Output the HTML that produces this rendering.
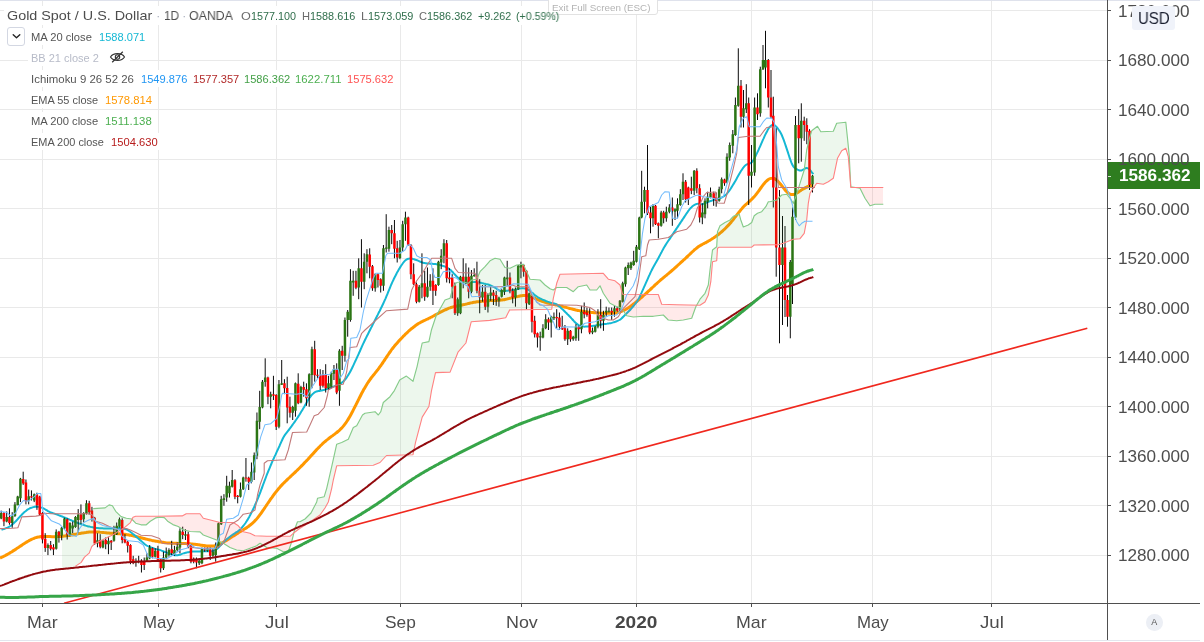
<!DOCTYPE html>
<html><head><meta charset="utf-8"><title>XAUUSD</title>
<style>
*{margin:0;padding:0;box-sizing:border-box}
html,body{width:1204px;height:642px;background:#fff;overflow:hidden}
body{font-family:"Liberation Sans",sans-serif;color:#4d4d4d;position:relative}
#wrap{position:absolute;left:0;top:0;width:1204px;height:642px;overflow:hidden;background:#fff}
.t{position:absolute;white-space:pre;transform-origin:0 50%;will-change:transform}
.wb{position:absolute;background:#fff}
.topline{position:absolute;left:0;top:0;width:1200px;height:1px;background:#dfe2ec}
.botline{position:absolute;left:0;top:640px;width:1200px;height:1px;background:#e3e6ee}
.ax-v{position:absolute;left:1107px;top:0;width:1px;height:640px;background:#4f4f4f}
.ax-h{position:absolute;left:0;top:603px;width:1200px;height:1px;background:#4f4f4f}
.tk{position:absolute;left:1108px;width:3px;height:1px;background:#4f4f4f}
.ttk{position:absolute;top:604px;width:1px;height:3px;background:#4f4f4f}
.plast{position:absolute;left:1108px;top:162px;width:92px;height:27px;background:#2e7d1f}
.usd{position:absolute;left:1132px;top:6px;width:43px;height:23.5px;border-radius:3px;background:#f0f3fa}
.abtn{position:absolute;left:1145.5px;top:614px;width:16.5px;height:16.5px;border-radius:50%;background:#eceff5;color:#555;font-size:9px;line-height:16.5px;text-align:center;will-change:transform}
.cbox{position:absolute;left:7px;top:27px;width:18px;height:18.5px;border:1px solid #d3d7e2;border-radius:3px;background:#fff}
.tip{position:absolute;left:548px;top:-1px;width:110px;height:15.5px;border:1px solid #e2e2e2;border-radius:0 0 3px 3px;background:#fff}
</style></head><body><div id="wrap">
<svg width="1107" height="603" viewBox="0 0 1107 603" style="position:absolute;left:0;top:0;overflow:hidden"><g shape-rendering="crispEdges"><rect x="0" y="10" width="1107" height="1" fill="#e9e9e9"/><rect x="0" y="60" width="1107" height="1" fill="#e9e9e9"/><rect x="0" y="109" width="1107" height="1" fill="#e9e9e9"/><rect x="0" y="159" width="1107" height="1" fill="#e9e9e9"/><rect x="0" y="208" width="1107" height="1" fill="#e9e9e9"/><rect x="0" y="258" width="1107" height="1" fill="#e9e9e9"/><rect x="0" y="307" width="1107" height="1" fill="#e9e9e9"/><rect x="0" y="357" width="1107" height="1" fill="#e9e9e9"/><rect x="0" y="406" width="1107" height="1" fill="#e9e9e9"/><rect x="0" y="456" width="1107" height="1" fill="#e9e9e9"/><rect x="0" y="505" width="1107" height="1" fill="#e9e9e9"/><rect x="0" y="555" width="1107" height="1" fill="#e9e9e9"/><rect x="42" y="0" width="1" height="603" fill="#e9e9e9"/><rect x="158" y="0" width="1" height="603" fill="#e9e9e9"/><rect x="276" y="0" width="1" height="603" fill="#e9e9e9"/><rect x="400" y="0" width="1" height="603" fill="#e9e9e9"/><rect x="521" y="0" width="1" height="603" fill="#e9e9e9"/><rect x="636" y="0" width="1" height="603" fill="#e9e9e9"/><rect x="751" y="0" width="1" height="603" fill="#e9e9e9"/><rect x="872" y="0" width="1" height="603" fill="#e9e9e9"/><rect x="991" y="0" width="1" height="603" fill="#e9e9e9"/></g>
<path d="M0.0,558.2 C0.3,558.0 1.3,557.5 2.0,557.2 C2.7,556.9 3.3,556.5 4.0,556.2 C4.7,555.9 5.3,555.5 6.0,555.2 C6.7,554.8 7.3,554.4 8.0,554.0 C8.7,553.6 9.3,553.3 10.0,552.9 C10.7,552.5 11.3,552.1 12.0,551.7 C12.7,551.2 13.3,550.8 14.0,550.4 C14.7,550.0 15.3,549.5 16.0,549.1 C16.7,548.6 17.3,548.2 18.0,547.8 C18.7,547.3 19.3,546.9 20.0,546.4 C20.7,546.0 21.3,545.5 22.0,545.1 C22.7,544.6 23.3,544.2 24.0,543.8 C24.7,543.3 25.3,542.9 26.0,542.5 C26.7,542.1 27.3,541.7 28.0,541.3 C28.7,540.9 29.3,540.5 30.0,540.2 C30.7,539.8 31.3,539.5 32.0,539.2 C32.7,538.9 33.3,538.6 34.0,538.3 C34.7,538.0 35.3,537.8 36.0,537.6 C36.7,537.4 37.3,537.2 38.0,537.1 C38.7,536.9 39.3,536.8 40.0,536.7 C40.7,536.6 41.3,536.6 42.0,536.5 C42.7,536.5 43.3,536.5 44.0,536.5 C44.7,536.5 45.3,536.5 46.0,536.5 C46.7,536.5 47.3,536.5 48.0,536.6 C48.7,536.6 49.3,536.6 50.0,536.6 C50.7,536.7 51.3,536.7 52.0,536.7 C52.7,536.7 53.3,536.7 54.0,536.7 C54.7,536.7 55.3,536.7 56.0,536.7 C56.7,536.7 57.3,536.7 58.0,536.6 C58.7,536.6 59.3,536.6 60.0,536.5 C60.7,536.4 61.3,536.4 62.0,536.3 C62.7,536.2 63.3,536.2 64.0,536.1 C64.7,536.0 65.3,535.9 66.0,535.8 C66.7,535.7 67.3,535.7 68.0,535.6 C68.7,535.5 69.3,535.4 70.0,535.2 C70.7,535.1 71.3,535.0 72.0,534.9 C72.7,534.8 73.3,534.7 74.0,534.5 C74.7,534.4 75.3,534.3 76.0,534.2 C76.7,534.0 77.3,533.9 78.0,533.8 C78.7,533.7 79.3,533.6 80.0,533.4 C80.7,533.3 81.3,533.2 82.0,533.1 C82.7,533.0 83.3,532.9 84.0,532.8 C84.7,532.6 85.3,532.5 86.0,532.5 C86.7,532.4 87.3,532.3 88.0,532.2 C88.7,532.1 89.3,532.1 90.0,532.0 C90.7,532.0 91.3,532.0 92.0,531.9 C92.7,531.9 93.3,531.9 94.0,531.9 C94.7,531.9 95.3,531.9 96.0,531.9 C96.7,532.0 97.3,532.0 98.0,532.0 C98.7,532.1 99.3,532.1 100.0,532.2 C100.7,532.2 101.3,532.3 102.0,532.4 C102.7,532.4 103.3,532.5 104.0,532.6 C104.7,532.6 105.3,532.7 106.0,532.8 C106.7,532.9 107.3,532.9 108.0,533.0 C108.7,533.1 109.3,533.1 110.0,533.2 C110.7,533.2 111.3,533.3 112.0,533.3 C112.7,533.4 113.3,533.4 114.0,533.4 C114.7,533.5 115.3,533.5 116.0,533.6 C116.7,533.6 117.3,533.6 118.0,533.7 C118.7,533.7 119.3,533.8 120.0,533.8 C120.7,533.9 121.3,533.9 122.0,534.0 C122.7,534.1 123.3,534.2 124.0,534.2 C124.7,534.3 125.3,534.4 126.0,534.5 C126.7,534.6 127.3,534.7 128.0,534.8 C128.7,534.9 129.3,535.1 130.0,535.2 C130.7,535.3 131.3,535.5 132.0,535.6 C132.7,535.7 133.3,535.9 134.0,536.0 C134.7,536.2 135.3,536.3 136.0,536.5 C136.7,536.7 137.3,536.8 138.0,537.0 C138.7,537.2 139.3,537.3 140.0,537.5 C140.7,537.7 141.3,537.8 142.0,538.0 C142.7,538.2 143.3,538.3 144.0,538.5 C144.7,538.7 145.3,538.8 146.0,539.0 C146.7,539.1 147.3,539.3 148.0,539.5 C148.7,539.6 149.3,539.8 150.0,539.9 C150.7,540.1 151.3,540.2 152.0,540.4 C152.7,540.5 153.3,540.6 154.0,540.8 C154.7,540.9 155.3,541.0 156.0,541.2 C156.7,541.3 157.3,541.4 158.0,541.5 C158.7,541.7 159.3,541.8 160.0,541.9 C160.7,542.0 161.3,542.1 162.0,542.2 C162.7,542.3 163.3,542.4 164.0,542.5 C164.7,542.6 165.3,542.7 166.0,542.8 C166.7,542.8 167.3,542.9 168.0,543.0 C168.7,543.0 169.3,543.1 170.0,543.1 C170.7,543.2 171.3,543.2 172.0,543.2 C172.7,543.3 173.3,543.3 174.0,543.3 C174.7,543.3 175.3,543.3 176.0,543.3 C176.7,543.3 177.3,543.4 178.0,543.4 C178.7,543.4 179.3,543.4 180.0,543.4 C180.7,543.4 181.3,543.4 182.0,543.4 C182.7,543.4 183.3,543.5 184.0,543.5 C184.7,543.5 185.3,543.5 186.0,543.6 C186.7,543.6 187.3,543.6 188.0,543.7 C188.7,543.7 189.3,543.8 190.0,543.8 C190.7,543.9 191.3,543.9 192.0,544.0 C192.7,544.1 193.3,544.2 194.0,544.2 C194.7,544.3 195.3,544.4 196.0,544.5 C196.7,544.6 197.3,544.6 198.0,544.7 C198.7,544.8 199.3,544.9 200.0,545.0 C200.7,545.1 201.3,545.2 202.0,545.3 C202.7,545.4 203.3,545.4 204.0,545.5 C204.7,545.6 205.3,545.7 206.0,545.8 C206.7,545.8 207.3,545.9 208.0,546.0 C208.7,546.0 209.3,546.1 210.0,546.1 C210.7,546.1 211.3,546.1 212.0,546.1 C212.7,546.1 213.3,546.0 214.0,545.9 C214.7,545.8 215.3,545.7 216.0,545.5 C216.7,545.4 217.3,545.1 218.0,544.9 C218.7,544.6 219.3,544.4 220.0,544.0 C220.7,543.7 221.3,543.4 222.0,543.0 C222.7,542.7 223.3,542.3 224.0,541.9 C224.7,541.5 225.3,541.1 226.0,540.7 C226.7,540.3 227.3,539.9 228.0,539.5 C228.7,539.1 229.3,538.6 230.0,538.2 C230.7,537.8 231.3,537.4 232.0,536.9 C232.7,536.5 233.3,536.1 234.0,535.7 C234.7,535.2 235.3,534.8 236.0,534.4 C236.7,533.9 237.3,533.5 238.0,533.1 C238.7,532.6 239.3,532.2 240.0,531.8 C240.7,531.4 241.3,531.0 242.0,530.6 C242.7,530.2 243.3,529.8 244.0,529.3 C244.7,528.9 245.3,528.5 246.0,528.1 C246.7,527.7 247.3,527.2 248.0,526.8 C248.7,526.3 249.3,525.8 250.0,525.3 C250.7,524.8 251.3,524.3 252.0,523.7 C252.7,523.1 253.3,522.5 254.0,521.8 C254.7,521.2 255.3,520.5 256.0,519.7 C256.7,519.0 257.3,518.2 258.0,517.3 C258.7,516.5 259.3,515.6 260.0,514.7 C260.7,513.8 261.3,512.9 262.0,511.9 C262.7,510.9 263.3,510.0 264.0,509.0 C264.7,508.0 265.3,507.0 266.0,506.0 C266.7,505.0 267.3,504.0 268.0,503.0 C268.7,502.1 269.3,501.1 270.0,500.1 C270.7,499.2 271.3,498.2 272.0,497.3 C272.7,496.3 273.3,495.4 274.0,494.5 C274.7,493.6 275.3,492.8 276.0,491.9 C276.7,491.1 277.3,490.2 278.0,489.4 C278.7,488.6 279.3,487.8 280.0,487.1 C280.7,486.3 281.3,485.6 282.0,484.9 C282.7,484.2 283.3,483.5 284.0,482.8 C284.7,482.2 285.3,481.5 286.0,480.9 C286.7,480.2 287.3,479.6 288.0,478.9 C288.7,478.3 289.3,477.7 290.0,477.1 C290.7,476.5 291.3,475.8 292.0,475.2 C292.7,474.6 293.3,474.0 294.0,473.3 C294.7,472.7 295.3,472.1 296.0,471.4 C296.7,470.8 297.3,470.1 298.0,469.5 C298.7,468.8 299.3,468.2 300.0,467.5 C300.7,466.8 301.3,466.1 302.0,465.5 C302.7,464.8 303.3,464.1 304.0,463.4 C304.7,462.7 305.3,462.0 306.0,461.3 C306.7,460.6 307.3,459.9 308.0,459.2 C308.7,458.5 309.3,457.8 310.0,457.0 C310.7,456.3 311.3,455.6 312.0,454.8 C312.7,454.1 313.3,453.3 314.0,452.6 C314.7,451.9 315.3,451.1 316.0,450.4 C316.7,449.7 317.3,449.0 318.0,448.3 C318.7,447.6 319.3,446.9 320.0,446.2 C320.7,445.6 321.3,444.9 322.0,444.3 C322.7,443.6 323.3,443.0 324.0,442.4 C324.7,441.8 325.3,441.2 326.0,440.7 C326.7,440.1 327.3,439.6 328.0,439.1 C328.7,438.5 329.3,438.0 330.0,437.5 C330.7,437.0 331.3,436.6 332.0,436.1 C332.7,435.6 333.3,435.1 334.0,434.6 C334.7,434.1 335.3,433.6 336.0,433.1 C336.7,432.6 337.3,432.1 338.0,431.5 C338.7,431.0 339.3,430.4 340.0,429.7 C340.7,429.1 341.3,428.4 342.0,427.7 C342.7,427.0 343.3,426.2 344.0,425.3 C344.7,424.5 345.3,423.6 346.0,422.7 C346.7,421.7 347.3,420.7 348.0,419.6 C348.7,418.5 349.3,417.4 350.0,416.2 C350.7,415.0 351.3,413.8 352.0,412.5 C352.7,411.2 353.3,409.9 354.0,408.6 C354.7,407.3 355.3,406.0 356.0,404.7 C356.7,403.3 357.3,402.0 358.0,400.7 C358.7,399.3 359.3,398.0 360.0,396.7 C360.7,395.4 361.3,394.1 362.0,392.8 C362.7,391.6 363.3,390.3 364.0,389.1 C364.7,388.0 365.3,386.8 366.0,385.7 C366.7,384.6 367.3,383.5 368.0,382.5 C368.7,381.5 369.3,380.5 370.0,379.6 C370.7,378.7 371.3,377.8 372.0,376.9 C372.7,376.1 373.3,375.2 374.0,374.4 C374.7,373.6 375.3,372.8 376.0,371.9 C376.7,371.1 377.3,370.2 378.0,369.4 C378.7,368.5 379.3,367.6 380.0,366.7 C380.7,365.8 381.3,364.8 382.0,363.9 C382.7,362.9 383.3,361.9 384.0,360.9 C384.7,359.9 385.3,358.9 386.0,357.9 C386.7,356.9 387.3,355.9 388.0,354.9 C388.7,353.9 389.3,352.9 390.0,352.0 C390.7,351.0 391.3,350.1 392.0,349.2 C392.7,348.3 393.3,347.5 394.0,346.7 C394.7,345.8 395.3,345.1 396.0,344.3 C396.7,343.5 397.3,342.8 398.0,342.0 C398.7,341.3 399.3,340.6 400.0,339.8 C400.7,339.1 401.3,338.4 402.0,337.7 C402.7,337.0 403.3,336.3 404.0,335.7 C404.7,335.0 405.3,334.3 406.0,333.7 C406.7,333.0 407.3,332.4 408.0,331.8 C408.7,331.1 409.3,330.5 410.0,330.0 C410.7,329.4 411.3,328.8 412.0,328.3 C412.7,327.7 413.3,327.2 414.0,326.7 C414.7,326.2 415.3,325.7 416.0,325.2 C416.7,324.8 417.3,324.3 418.0,323.9 C418.7,323.5 419.3,323.1 420.0,322.7 C420.7,322.3 421.3,322.0 422.0,321.7 C422.7,321.3 423.3,321.0 424.0,320.7 C424.7,320.4 425.3,320.1 426.0,319.7 C426.7,319.4 427.3,319.1 428.0,318.8 C428.7,318.5 429.3,318.1 430.0,317.8 C430.7,317.5 431.3,317.1 432.0,316.8 C432.7,316.4 433.3,316.1 434.0,315.7 C434.7,315.3 435.3,315.0 436.0,314.6 C436.7,314.2 437.3,313.9 438.0,313.5 C438.7,313.1 439.3,312.8 440.0,312.4 C440.7,312.1 441.3,311.7 442.0,311.4 C442.7,311.0 443.3,310.7 444.0,310.4 C444.7,310.1 445.3,309.8 446.0,309.5 C446.7,309.2 447.3,308.9 448.0,308.6 C448.7,308.3 449.3,308.1 450.0,307.9 C450.7,307.6 451.3,307.4 452.0,307.2 C452.7,307.0 453.3,306.8 454.0,306.6 C454.7,306.5 455.3,306.3 456.0,306.2 C456.7,306.0 457.3,305.9 458.0,305.8 C458.7,305.6 459.3,305.5 460.0,305.4 C460.7,305.3 461.3,305.1 462.0,305.0 C462.7,304.9 463.3,304.7 464.0,304.6 C464.7,304.4 465.3,304.3 466.0,304.1 C466.7,303.9 467.3,303.8 468.0,303.6 C468.7,303.5 469.3,303.3 470.0,303.1 C470.7,303.0 471.3,302.8 472.0,302.7 C472.7,302.5 473.3,302.4 474.0,302.3 C474.7,302.2 475.3,302.1 476.0,302.0 C476.7,301.9 477.3,301.8 478.0,301.7 C478.7,301.6 479.3,301.5 480.0,301.5 C480.7,301.4 481.3,301.3 482.0,301.3 C482.7,301.2 483.3,301.2 484.0,301.1 C484.7,301.1 485.3,301.0 486.0,301.0 C486.7,300.9 487.3,300.8 488.0,300.8 C488.7,300.7 489.3,300.7 490.0,300.6 C490.7,300.6 491.3,300.6 492.0,300.5 C492.7,300.5 493.3,300.5 494.0,300.4 C494.7,300.4 495.3,300.4 496.0,300.4 C496.7,300.3 497.3,300.3 498.0,300.3 C498.7,300.3 499.3,300.3 500.0,300.2 C500.7,300.1 501.3,300.1 502.0,300.0 C502.7,299.9 503.3,299.8 504.0,299.7 C504.7,299.6 505.3,299.4 506.0,299.3 C506.7,299.2 507.3,299.0 508.0,298.8 C508.7,298.7 509.3,298.5 510.0,298.3 C510.7,298.2 511.3,298.0 512.0,297.8 C512.7,297.7 513.3,297.5 514.0,297.3 C514.7,297.2 515.3,297.0 516.0,296.9 C516.7,296.7 517.3,296.5 518.0,296.4 C518.7,296.2 519.3,296.1 520.0,296.0 C520.7,295.9 521.3,295.8 522.0,295.7 C522.7,295.6 523.3,295.6 524.0,295.5 C524.7,295.5 525.3,295.5 526.0,295.6 C526.7,295.6 527.3,295.7 528.0,295.9 C528.7,296.0 529.3,296.2 530.0,296.4 C530.7,296.6 531.3,296.9 532.0,297.1 C532.7,297.4 533.3,297.6 534.0,297.9 C534.7,298.2 535.3,298.5 536.0,298.8 C536.7,299.1 537.3,299.4 538.0,299.7 C538.7,300.0 539.3,300.3 540.0,300.5 C540.7,300.8 541.3,301.0 542.0,301.3 C542.7,301.5 543.3,301.7 544.0,301.9 C544.7,302.2 545.3,302.4 546.0,302.5 C546.7,302.7 547.3,302.9 548.0,303.1 C548.7,303.3 549.3,303.4 550.0,303.6 C550.7,303.7 551.3,303.9 552.0,304.0 C552.7,304.2 553.3,304.3 554.0,304.5 C554.7,304.6 555.3,304.8 556.0,304.9 C556.7,305.1 557.3,305.2 558.0,305.4 C558.7,305.5 559.3,305.7 560.0,305.9 C560.7,306.0 561.3,306.2 562.0,306.3 C562.7,306.5 563.3,306.7 564.0,306.9 C564.7,307.0 565.3,307.2 566.0,307.4 C566.7,307.6 567.3,307.7 568.0,307.9 C568.7,308.1 569.3,308.3 570.0,308.5 C570.7,308.6 571.3,308.8 572.0,309.0 C572.7,309.2 573.3,309.3 574.0,309.5 C574.7,309.7 575.3,309.8 576.0,310.0 C576.7,310.1 577.3,310.3 578.0,310.4 C578.7,310.6 579.3,310.7 580.0,310.8 C580.7,311.0 581.3,311.1 582.0,311.2 C582.7,311.3 583.3,311.4 584.0,311.5 C584.7,311.6 585.3,311.7 586.0,311.8 C586.7,311.9 587.3,312.0 588.0,312.1 C588.7,312.1 589.3,312.2 590.0,312.3 C590.7,312.4 591.3,312.4 592.0,312.5 C592.7,312.6 593.3,312.6 594.0,312.7 C594.7,312.7 595.3,312.8 596.0,312.8 C596.7,312.9 597.3,312.9 598.0,313.0 C598.7,313.0 599.3,313.0 600.0,313.1 C600.7,313.1 601.3,313.1 602.0,313.2 C602.7,313.2 603.3,313.2 604.0,313.2 C604.7,313.2 605.3,313.3 606.0,313.3 C606.7,313.3 607.3,313.3 608.0,313.3 C608.7,313.3 609.3,313.3 610.0,313.3 C610.7,313.3 611.3,313.3 612.0,313.2 C612.7,313.2 613.3,313.2 614.0,313.1 C614.7,313.1 615.3,313.0 616.0,312.9 C616.7,312.8 617.3,312.6 618.0,312.5 C618.7,312.3 619.3,312.1 620.0,311.9 C620.7,311.7 621.3,311.5 622.0,311.2 C622.7,310.9 623.3,310.6 624.0,310.3 C624.7,310.0 625.3,309.6 626.0,309.2 C626.7,308.9 627.3,308.5 628.0,308.0 C628.7,307.6 629.3,307.2 630.0,306.7 C630.7,306.3 631.3,305.8 632.0,305.3 C632.7,304.8 633.3,304.2 634.0,303.7 C634.7,303.2 635.3,302.6 636.0,302.1 C636.7,301.5 637.3,301.0 638.0,300.4 C638.7,299.9 639.3,299.3 640.0,298.7 C640.7,298.1 641.3,297.6 642.0,297.0 C642.7,296.4 643.3,295.8 644.0,295.2 C644.7,294.6 645.3,294.1 646.0,293.5 C646.7,292.9 647.3,292.3 648.0,291.6 C648.7,291.0 649.3,290.4 650.0,289.8 C650.7,289.2 651.3,288.6 652.0,287.9 C652.7,287.3 653.3,286.7 654.0,286.1 C654.7,285.4 655.3,284.8 656.0,284.2 C656.7,283.6 657.3,283.0 658.0,282.4 C658.7,281.8 659.3,281.2 660.0,280.6 C660.7,280.1 661.3,279.5 662.0,278.9 C662.7,278.3 663.3,277.8 664.0,277.2 C664.7,276.7 665.3,276.1 666.0,275.6 C666.7,275.0 667.3,274.4 668.0,273.9 C668.7,273.3 669.3,272.8 670.0,272.2 C670.7,271.7 671.3,271.1 672.0,270.5 C672.7,269.9 673.3,269.4 674.0,268.8 C674.7,268.2 675.3,267.6 676.0,267.0 C676.7,266.4 677.3,265.8 678.0,265.2 C678.7,264.6 679.3,263.9 680.0,263.3 C680.7,262.7 681.3,262.1 682.0,261.5 C682.7,260.9 683.3,260.3 684.0,259.7 C684.7,259.1 685.3,258.5 686.0,257.9 C686.7,257.2 687.3,256.6 688.0,256.0 C688.7,255.4 689.3,254.7 690.0,254.1 C690.7,253.5 691.3,252.8 692.0,252.2 C692.7,251.6 693.3,250.9 694.0,250.3 C694.7,249.7 695.3,249.1 696.0,248.6 C696.7,248.0 697.3,247.5 698.0,247.0 C698.7,246.6 699.3,246.1 700.0,245.7 C700.7,245.3 701.3,244.9 702.0,244.6 C702.7,244.2 703.3,243.9 704.0,243.5 C704.7,243.2 705.3,242.8 706.0,242.5 C706.7,242.1 707.3,241.7 708.0,241.4 C708.7,241.0 709.3,240.6 710.0,240.2 C710.7,239.8 711.3,239.4 712.0,238.9 C712.7,238.5 713.3,238.1 714.0,237.6 C714.7,237.2 715.3,236.7 716.0,236.2 C716.7,235.7 717.3,235.2 718.0,234.7 C718.7,234.2 719.3,233.7 720.0,233.2 C720.7,232.6 721.3,232.1 722.0,231.5 C722.7,230.9 723.3,230.3 724.0,229.7 C724.7,229.0 725.3,228.4 726.0,227.7 C726.7,227.1 727.3,226.4 728.0,225.6 C728.7,224.9 729.3,224.2 730.0,223.4 C730.7,222.7 731.3,221.9 732.0,221.1 C732.7,220.3 733.3,219.5 734.0,218.6 C734.7,217.8 735.3,216.9 736.0,216.0 C736.7,215.2 737.3,214.3 738.0,213.4 C738.7,212.6 739.3,211.7 740.0,210.9 C740.7,210.0 741.3,209.2 742.0,208.5 C742.7,207.7 743.3,207.0 744.0,206.3 C744.7,205.6 745.3,205.0 746.0,204.4 C746.7,203.7 747.3,203.2 748.0,202.6 C748.7,202.0 749.3,201.5 750.0,200.9 C750.7,200.3 751.3,199.7 752.0,199.0 C752.7,198.4 753.3,197.7 754.0,196.9 C754.7,196.2 755.3,195.4 756.0,194.5 C756.7,193.7 757.3,192.8 758.0,191.9 C758.7,191.0 759.3,190.1 760.0,189.1 C760.7,188.2 761.3,187.3 762.0,186.4 C762.7,185.5 763.3,184.6 764.0,183.8 C764.7,182.9 765.3,182.2 766.0,181.5 C766.7,180.8 767.3,180.2 768.0,179.7 C768.7,179.2 769.3,178.8 770.0,178.6 C770.7,178.3 771.3,178.2 772.0,178.2 C772.7,178.1 773.3,178.3 774.0,178.5 C774.7,178.8 775.3,179.2 776.0,179.6 C776.7,180.1 777.3,180.7 778.0,181.4 C778.7,182.0 779.3,182.8 780.0,183.6 C780.7,184.3 781.3,185.2 782.0,186.0 C782.7,186.9 783.3,187.8 784.0,188.6 C784.7,189.4 785.3,190.2 786.0,190.9 C786.7,191.6 787.3,192.3 788.0,192.8 C788.7,193.3 789.3,193.8 790.0,194.1 C790.7,194.4 791.3,194.6 792.0,194.6 C792.7,194.7 793.3,194.5 794.0,194.4 C794.7,194.2 795.3,193.9 796.0,193.6 C796.7,193.2 797.3,192.8 798.0,192.4 C798.7,191.9 799.3,191.4 800.0,191.0 C800.7,190.5 801.3,190.1 802.0,189.6 C802.7,189.2 803.3,188.8 804.0,188.5 C804.7,188.1 805.3,187.8 806.0,187.5 C806.7,187.1 807.3,186.8 808.0,186.5 C808.7,186.2 809.3,186.0 810.0,185.9 C810.7,185.7 811.4,185.7 812.0,185.6 C812.6,185.5 813.1,185.5 813.3,185.5" fill="none" stroke="#ff9800" stroke-width="3.0" stroke-linejoin="round" stroke-linecap="butt"/>
<path d="M1.5,529.8 C1.8,529.7 2.8,529.3 3.5,529.1 C4.2,528.9 4.8,528.6 5.5,528.4 C6.2,528.1 6.8,527.9 7.5,527.7 C8.2,527.4 8.8,527.1 9.5,526.7 C10.2,526.3 10.8,525.7 11.5,525.2 C12.2,524.6 12.8,524.0 13.5,523.4 C14.2,522.8 14.8,522.2 15.5,521.6 C16.2,520.9 16.8,520.2 17.5,519.4 C18.2,518.7 18.8,517.9 19.5,517.1 C20.2,516.4 20.8,515.6 21.5,515.0 C22.2,514.3 22.8,513.6 23.5,513.0 C24.2,512.4 24.8,511.8 25.5,511.2 C26.2,510.7 26.8,510.1 27.5,509.6 C28.2,509.2 28.8,508.9 29.5,508.5 C30.2,508.2 30.8,508.0 31.5,507.8 C32.2,507.5 32.8,507.3 33.5,507.1 C34.2,506.9 34.8,506.7 35.5,506.6 C36.2,506.6 36.8,506.6 37.5,506.7 C38.2,506.7 38.8,506.9 39.5,507.0 C40.2,507.2 40.8,507.3 41.5,507.6 C42.2,507.8 42.8,508.1 43.5,508.4 C44.2,508.8 44.8,509.2 45.5,509.6 C46.2,510.0 46.8,510.4 47.5,510.8 C48.2,511.2 48.8,511.5 49.5,511.9 C50.2,512.2 50.8,512.5 51.5,512.7 C52.2,513.0 52.8,513.2 53.5,513.4 C54.2,513.6 54.8,513.8 55.5,514.1 C56.2,514.3 56.8,514.5 57.5,514.7 C58.2,515.0 58.8,515.2 59.5,515.5 C60.2,515.7 60.8,516.0 61.5,516.3 C62.2,516.5 62.8,516.8 63.5,517.1 C64.2,517.4 64.8,517.6 65.5,517.9 C66.2,518.2 66.8,518.5 67.5,518.7 C68.2,519.0 68.8,519.3 69.5,519.6 C70.2,519.9 70.8,520.1 71.5,520.4 C72.2,520.7 72.8,521.0 73.5,521.3 C74.2,521.5 74.8,521.8 75.5,522.1 C76.2,522.4 76.8,522.6 77.5,522.9 C78.2,523.2 78.8,523.4 79.5,523.6 C80.2,523.9 80.8,524.1 81.5,524.3 C82.2,524.5 82.8,524.7 83.5,524.9 C84.2,525.2 84.8,525.4 85.5,525.6 C86.2,525.8 86.8,526.0 87.5,526.2 C88.2,526.4 88.8,526.5 89.5,526.6 C90.2,526.8 90.8,526.9 91.5,527.1 C92.2,527.2 92.8,527.3 93.5,527.5 C94.2,527.6 94.8,527.7 95.5,527.8 C96.2,527.9 96.8,528.0 97.5,528.1 C98.2,528.2 98.8,528.2 99.5,528.2 C100.2,528.3 100.8,528.3 101.5,528.3 C102.2,528.3 102.8,528.4 103.5,528.4 C104.2,528.4 104.8,528.4 105.5,528.5 C106.2,528.5 106.8,528.5 107.5,528.6 C108.2,528.6 108.8,528.6 109.5,528.6 C110.2,528.6 110.8,528.6 111.5,528.5 C112.2,528.5 112.8,528.4 113.5,528.4 C114.2,528.3 114.8,528.3 115.5,528.2 C116.2,528.2 116.8,528.1 117.5,528.0 C118.2,528.0 118.8,528.0 119.5,528.0 C120.2,528.0 120.8,528.1 121.5,528.2 C122.2,528.3 122.8,528.4 123.5,528.5 C124.2,528.7 124.8,528.8 125.5,529.0 C126.2,529.3 126.8,529.6 127.5,530.0 C128.2,530.3 128.8,530.8 129.5,531.3 C130.2,531.8 130.8,532.3 131.5,532.8 C132.2,533.3 132.8,533.8 133.5,534.4 C134.2,534.9 134.8,535.5 135.5,536.1 C136.2,536.6 136.8,537.2 137.5,537.8 C138.2,538.4 138.8,539.0 139.5,539.6 C140.2,540.1 140.8,540.7 141.5,541.3 C142.2,541.9 142.8,542.5 143.5,543.1 C144.2,543.6 144.8,544.2 145.5,544.7 C146.2,545.2 146.8,545.6 147.5,546.0 C148.2,546.4 148.8,546.6 149.5,546.9 C150.2,547.2 150.8,547.4 151.5,547.6 C152.2,547.9 152.8,548.1 153.5,548.3 C154.2,548.5 154.8,548.7 155.5,548.9 C156.2,549.1 156.8,549.2 157.5,549.4 C158.2,549.5 158.8,549.7 159.5,549.9 C160.2,550.1 160.8,550.3 161.5,550.6 C162.2,550.8 162.8,551.1 163.5,551.3 C164.2,551.6 164.8,551.8 165.5,552.1 C166.2,552.3 166.8,552.6 167.5,552.9 C168.2,553.1 168.8,553.4 169.5,553.7 C170.2,554.0 170.8,554.3 171.5,554.5 C172.2,554.8 172.8,555.0 173.5,555.1 C174.2,555.3 174.8,555.3 175.5,555.3 C176.2,555.3 176.8,555.3 177.5,555.2 C178.2,555.1 178.8,555.0 179.5,554.8 C180.2,554.6 180.8,554.3 181.5,554.1 C182.2,553.8 182.8,553.6 183.5,553.4 C184.2,553.1 184.8,553.0 185.5,552.8 C186.2,552.6 186.8,552.4 187.5,552.3 C188.2,552.1 188.8,552.0 189.5,551.9 C190.2,551.8 190.8,551.7 191.5,551.6 C192.2,551.6 192.8,551.6 193.5,551.5 C194.2,551.5 194.8,551.5 195.5,551.5 C196.2,551.5 196.8,551.4 197.5,551.4 C198.2,551.4 198.8,551.4 199.5,551.4 C200.2,551.3 200.8,551.3 201.5,551.3 C202.2,551.3 202.8,551.3 203.5,551.3 C204.2,551.3 204.8,551.3 205.5,551.3 C206.2,551.3 206.8,551.2 207.5,551.2 C208.2,551.2 208.8,551.2 209.5,551.2 C210.2,551.2 210.8,551.2 211.5,551.2 C212.2,551.1 212.8,551.1 213.5,550.9 C214.2,550.7 214.8,550.4 215.5,550.0 C216.2,549.6 216.8,549.1 217.5,548.5 C218.2,547.9 218.8,547.2 219.5,546.5 C220.2,545.8 220.8,545.0 221.5,544.4 C222.2,543.7 222.8,543.0 223.5,542.3 C224.2,541.7 224.8,541.0 225.5,540.4 C226.2,539.8 226.8,539.2 227.5,538.6 C228.2,538.1 228.8,537.6 229.5,537.0 C230.2,536.5 230.8,536.0 231.5,535.5 C232.2,535.1 232.8,534.6 233.5,534.1 C234.2,533.7 234.8,533.2 235.5,532.8 C236.2,532.4 236.8,532.0 237.5,531.6 C238.2,531.1 238.8,530.7 239.5,530.1 C240.2,529.5 240.8,528.8 241.5,528.0 C242.2,527.3 242.8,526.5 243.5,525.6 C244.2,524.8 244.8,523.9 245.5,523.0 C246.2,522.0 246.8,521.0 247.5,519.9 C248.2,518.8 248.8,517.6 249.5,516.4 C250.2,515.1 250.8,513.9 251.5,512.6 C252.2,511.3 252.8,510.0 253.5,508.5 C254.2,507.1 254.8,505.6 255.5,504.0 C256.2,502.5 256.8,500.9 257.5,499.3 C258.2,497.7 258.8,496.1 259.5,494.4 C260.2,492.7 260.8,490.9 261.5,489.2 C262.2,487.4 262.8,485.5 263.5,483.7 C264.2,481.9 264.8,480.0 265.5,478.3 C266.2,476.5 266.8,474.8 267.5,473.1 C268.2,471.5 268.8,469.9 269.5,468.3 C270.2,466.7 270.8,465.1 271.5,463.5 C272.2,462.0 272.8,460.4 273.5,458.9 C274.2,457.4 274.8,456.0 275.5,454.6 C276.2,453.1 276.8,451.7 277.5,450.3 C278.2,448.9 278.8,447.4 279.5,446.0 C280.2,444.5 280.8,442.9 281.5,441.4 C282.2,440.0 282.8,438.5 283.5,437.3 C284.2,436.1 284.8,435.1 285.5,434.2 C286.2,433.2 286.8,432.5 287.5,431.6 C288.2,430.7 288.8,429.8 289.5,429.0 C290.2,428.1 290.8,427.2 291.5,426.3 C292.2,425.4 292.8,424.4 293.5,423.5 C294.2,422.6 294.8,421.7 295.5,420.7 C296.2,419.8 296.8,418.8 297.5,417.7 C298.2,416.7 298.8,415.6 299.5,414.6 C300.2,413.5 300.8,412.4 301.5,411.3 C302.2,410.2 302.8,409.1 303.5,408.0 C304.2,406.9 304.8,405.7 305.5,404.5 C306.2,403.4 306.8,402.2 307.5,401.0 C308.2,399.9 308.8,398.8 309.5,397.8 C310.2,396.9 310.8,396.0 311.5,395.3 C312.2,394.5 312.8,393.8 313.5,393.3 C314.2,392.7 314.8,392.2 315.5,391.9 C316.2,391.6 316.8,391.4 317.5,391.2 C318.2,391.1 318.8,391.0 319.5,390.9 C320.2,390.8 320.8,390.6 321.5,390.4 C322.2,390.3 322.8,390.1 323.5,390.0 C324.2,389.8 324.8,389.6 325.5,389.4 C326.2,389.2 326.8,389.0 327.5,388.8 C328.2,388.6 328.8,388.3 329.5,388.1 C330.2,387.9 330.8,387.6 331.5,387.4 C332.2,387.1 332.8,386.9 333.5,386.6 C334.2,386.4 334.8,386.1 335.5,385.9 C336.2,385.6 336.8,385.4 337.5,385.1 C338.2,384.8 338.8,384.6 339.5,384.2 C340.2,383.8 340.8,383.4 341.5,382.9 C342.2,382.4 342.8,381.8 343.5,381.2 C344.2,380.5 344.8,379.8 345.5,379.0 C346.2,378.2 346.8,377.2 347.5,376.2 C348.2,375.3 348.8,374.2 349.5,373.0 C350.2,371.8 350.8,370.6 351.5,369.2 C352.2,367.9 352.8,366.5 353.5,365.1 C354.2,363.7 354.8,362.2 355.5,360.8 C356.2,359.3 356.8,357.9 357.5,356.4 C358.2,355.0 358.8,353.5 359.5,352.0 C360.2,350.5 360.8,348.9 361.5,347.5 C362.2,346.0 362.8,344.5 363.5,343.1 C364.2,341.7 364.8,340.4 365.5,339.0 C366.2,337.6 366.8,336.3 367.5,335.0 C368.2,333.7 368.8,332.3 369.5,331.0 C370.2,329.7 370.8,328.4 371.5,327.1 C372.2,325.7 372.8,324.4 373.5,323.1 C374.2,321.8 374.8,320.5 375.5,319.2 C376.2,317.9 376.8,316.6 377.5,315.3 C378.2,313.9 378.8,312.6 379.5,311.3 C380.2,309.9 380.8,308.6 381.5,307.2 C382.2,305.8 382.8,304.5 383.5,303.0 C384.2,301.6 384.8,300.1 385.5,298.6 C386.2,297.0 386.8,295.4 387.5,293.8 C388.2,292.1 388.8,290.4 389.5,288.8 C390.2,287.1 390.8,285.5 391.5,284.0 C392.2,282.5 392.8,281.1 393.5,279.7 C394.2,278.3 394.8,277.0 395.5,275.7 C396.2,274.4 396.8,273.0 397.5,271.8 C398.2,270.6 398.8,269.4 399.5,268.4 C400.2,267.3 400.8,266.2 401.5,265.2 C402.2,264.3 402.8,263.2 403.5,262.4 C404.2,261.5 404.8,260.8 405.5,260.2 C406.2,259.6 406.8,259.3 407.5,259.0 C408.2,258.7 408.8,258.5 409.5,258.5 C410.2,258.4 410.8,258.4 411.5,258.5 C412.2,258.6 412.8,258.9 413.5,259.1 C414.2,259.2 414.8,259.5 415.5,259.7 C416.2,259.9 416.8,260.2 417.5,260.4 C418.2,260.7 418.8,261.0 419.5,261.3 C420.2,261.6 420.8,261.9 421.5,262.2 C422.2,262.4 422.8,262.7 423.5,262.9 C424.2,263.0 424.8,263.1 425.5,263.2 C426.2,263.3 426.8,263.4 427.5,263.4 C428.2,263.5 428.8,263.5 429.5,263.6 C430.2,263.7 430.8,263.7 431.5,263.8 C432.2,263.8 432.8,263.9 433.5,263.9 C434.2,264.0 434.8,264.0 435.5,264.1 C436.2,264.2 436.8,264.3 437.5,264.4 C438.2,264.6 438.8,264.7 439.5,264.9 C440.2,265.0 440.8,265.2 441.5,265.4 C442.2,265.6 442.8,265.8 443.5,266.0 C444.2,266.3 444.8,266.6 445.5,266.9 C446.2,267.2 446.8,267.5 447.5,267.9 C448.2,268.3 448.8,268.6 449.5,269.2 C450.2,269.7 450.8,270.3 451.5,270.9 C452.2,271.6 452.8,272.4 453.5,273.1 C454.2,273.8 454.8,274.6 455.5,275.3 C456.2,276.0 456.8,276.7 457.5,277.3 C458.2,278.0 458.8,278.6 459.5,279.1 C460.2,279.7 460.8,280.4 461.5,280.9 C462.2,281.4 462.8,281.8 463.5,282.1 C464.2,282.4 464.8,282.4 465.5,282.5 C466.2,282.6 466.8,282.5 467.5,282.5 C468.2,282.5 468.8,282.5 469.5,282.5 C470.2,282.4 470.8,282.4 471.5,282.3 C472.2,282.2 472.8,282.1 473.5,282.1 C474.2,282.0 474.8,281.9 475.5,281.9 C476.2,281.9 476.8,281.9 477.5,282.0 C478.2,282.1 478.8,282.2 479.5,282.4 C480.2,282.5 480.8,282.7 481.5,282.9 C482.2,283.0 482.8,283.2 483.5,283.4 C484.2,283.5 484.8,283.7 485.5,283.9 C486.2,284.0 486.8,284.2 487.5,284.4 C488.2,284.6 488.8,284.7 489.5,285.0 C490.2,285.2 490.8,285.5 491.5,285.8 C492.2,286.1 492.8,286.4 493.5,286.8 C494.2,287.1 494.8,287.4 495.5,287.9 C496.2,288.3 496.8,288.8 497.5,289.3 C498.2,289.8 498.8,290.4 499.5,290.7 C500.2,291.1 500.8,291.3 501.5,291.3 C502.2,291.4 502.8,291.3 503.5,291.2 C504.2,291.2 504.8,291.1 505.5,291.0 C506.2,290.9 506.8,290.8 507.5,290.7 C508.2,290.6 508.8,290.6 509.5,290.5 C510.2,290.4 510.8,290.3 511.5,290.2 C512.2,290.1 512.8,290.0 513.5,289.9 C514.2,289.8 514.8,289.6 515.5,289.5 C516.2,289.3 516.8,289.1 517.5,289.0 C518.2,288.8 518.8,288.6 519.5,288.5 C520.2,288.4 520.8,288.3 521.5,288.3 C522.2,288.2 522.8,288.1 523.5,288.2 C524.2,288.2 524.8,288.3 525.5,288.5 C526.2,288.7 526.8,289.1 527.5,289.4 C528.2,289.8 528.8,290.2 529.5,290.7 C530.2,291.1 530.8,291.6 531.5,292.2 C532.2,292.7 532.8,293.3 533.5,293.9 C534.2,294.5 534.8,295.1 535.5,295.6 C536.2,296.1 536.8,296.6 537.5,297.0 C538.2,297.4 538.8,297.7 539.5,298.1 C540.2,298.4 540.8,298.8 541.5,299.1 C542.2,299.4 542.8,299.7 543.5,300.0 C544.2,300.3 544.8,300.6 545.5,300.8 C546.2,301.1 546.8,301.3 547.5,301.6 C548.2,301.8 548.8,302.0 549.5,302.3 C550.2,302.5 550.8,302.7 551.5,302.9 C552.2,303.0 552.8,303.2 553.5,303.4 C554.2,303.6 554.8,303.7 555.5,304.0 C556.2,304.3 556.8,304.6 557.5,305.1 C558.2,305.5 558.8,306.1 559.5,306.6 C560.2,307.2 560.8,307.8 561.5,308.4 C562.2,309.0 562.8,309.6 563.5,310.2 C564.2,310.9 564.8,311.5 565.5,312.2 C566.2,312.8 566.8,313.5 567.5,314.2 C568.2,314.8 568.8,315.5 569.5,316.2 C570.2,316.9 570.8,317.6 571.5,318.4 C572.2,319.1 572.8,319.9 573.5,320.6 C574.2,321.3 574.8,322.1 575.5,322.7 C576.2,323.4 576.8,323.9 577.5,324.4 C578.2,324.9 578.8,325.3 579.5,325.6 C580.2,325.9 580.8,326.2 581.5,326.4 C582.2,326.5 582.8,326.6 583.5,326.6 C584.2,326.7 584.8,326.7 585.5,326.6 C586.2,326.6 586.8,326.6 587.5,326.5 C588.2,326.5 588.8,326.4 589.5,326.3 C590.2,326.2 590.8,326.1 591.5,326.1 C592.2,326.0 592.8,325.9 593.5,325.8 C594.2,325.7 594.8,325.6 595.5,325.5 C596.2,325.3 596.8,325.2 597.5,325.1 C598.2,325.0 598.8,324.9 599.5,324.8 C600.2,324.7 600.8,324.6 601.5,324.5 C602.2,324.4 602.8,324.3 603.5,324.2 C604.2,324.1 604.8,324.1 605.5,324.0 C606.2,323.9 606.8,323.8 607.5,323.6 C608.2,323.5 608.8,323.4 609.5,323.3 C610.2,323.1 610.8,323.0 611.5,322.9 C612.2,322.7 612.8,322.6 613.5,322.4 C614.2,322.2 614.8,321.9 615.5,321.7 C616.2,321.5 616.8,321.2 617.5,320.9 C618.2,320.6 618.8,320.4 619.5,320.0 C620.2,319.5 620.8,319.0 621.5,318.4 C622.2,317.8 622.8,317.2 623.5,316.5 C624.2,315.8 624.8,315.2 625.5,314.5 C626.2,313.8 626.8,313.2 627.5,312.5 C628.2,311.8 628.8,311.2 629.5,310.5 C630.2,309.8 630.8,309.1 631.5,308.4 C632.2,307.6 632.8,306.8 633.5,306.0 C634.2,305.2 634.8,304.4 635.5,303.5 C636.2,302.7 636.8,301.8 637.5,300.8 C638.2,299.7 638.8,298.5 639.5,297.2 C640.2,295.9 640.8,294.3 641.5,292.9 C642.2,291.4 642.8,289.9 643.5,288.4 C644.2,286.9 644.8,285.4 645.5,283.9 C646.2,282.4 646.8,280.9 647.5,279.4 C648.2,277.9 648.8,276.3 649.5,274.9 C650.2,273.4 650.8,271.9 651.5,270.6 C652.2,269.3 652.8,268.0 653.5,266.8 C654.2,265.6 654.8,264.5 655.5,263.3 C656.2,262.1 656.8,260.9 657.5,259.7 C658.2,258.5 658.8,257.3 659.5,256.0 C660.2,254.8 660.8,253.4 661.5,252.2 C662.2,250.9 662.8,249.6 663.5,248.4 C664.2,247.3 664.8,246.2 665.5,245.1 C666.2,244.0 666.8,243.1 667.5,242.0 C668.2,241.0 668.8,240.1 669.5,239.1 C670.2,238.1 670.8,237.1 671.5,236.1 C672.2,235.1 672.8,234.1 673.5,233.1 C674.2,232.1 674.8,231.1 675.5,230.1 C676.2,229.1 676.8,228.1 677.5,227.1 C678.2,226.1 678.8,225.1 679.5,224.1 C680.2,223.1 680.8,222.1 681.5,221.1 C682.2,220.1 682.8,219.1 683.5,218.1 C684.2,217.1 684.8,216.1 685.5,215.1 C686.2,214.1 686.8,213.0 687.5,212.1 C688.2,211.1 688.8,210.2 689.5,209.3 C690.2,208.5 690.8,207.8 691.5,207.2 C692.2,206.5 692.8,206.0 693.5,205.5 C694.2,205.0 694.8,204.6 695.5,204.3 C696.2,204.0 696.8,203.8 697.5,203.8 C698.2,203.7 698.8,203.8 699.5,203.8 C700.2,203.9 700.8,204.2 701.5,204.2 C702.2,204.2 702.8,204.0 703.5,203.8 C704.2,203.7 704.8,203.3 705.5,203.0 C706.2,202.7 706.8,202.5 707.5,202.2 C708.2,201.9 708.8,201.7 709.5,201.4 C710.2,201.2 710.8,200.9 711.5,200.7 C712.2,200.5 712.8,200.2 713.5,200.0 C714.2,199.8 714.8,199.6 715.5,199.5 C716.2,199.3 716.8,199.1 717.5,199.0 C718.2,198.8 718.8,198.6 719.5,198.4 C720.2,198.1 720.8,197.9 721.5,197.6 C722.2,197.2 722.8,196.9 723.5,196.5 C724.2,196.1 724.8,195.6 725.5,195.0 C726.2,194.4 726.8,193.7 727.5,192.9 C728.2,192.1 728.8,191.3 729.5,190.4 C730.2,189.5 730.8,188.5 731.5,187.4 C732.2,186.4 732.8,185.3 733.5,184.1 C734.2,183.0 734.8,181.9 735.5,180.7 C736.2,179.5 736.8,178.3 737.5,177.1 C738.2,175.9 738.8,174.7 739.5,173.5 C740.2,172.4 740.8,171.3 741.5,170.3 C742.2,169.3 742.8,168.2 743.5,167.4 C744.2,166.5 744.8,165.8 745.5,165.2 C746.2,164.7 746.8,164.4 747.5,164.1 C748.2,163.8 748.8,163.9 749.5,163.6 C750.2,163.4 750.8,163.2 751.5,162.6 C752.2,162.0 752.8,161.1 753.5,160.0 C754.2,158.9 754.8,157.6 755.5,156.3 C756.2,154.9 756.8,153.5 757.5,152.1 C758.2,150.7 758.8,149.2 759.5,147.7 C760.2,146.2 760.8,144.7 761.5,143.1 C762.2,141.6 762.8,140.0 763.5,138.6 C764.2,137.1 764.8,135.6 765.5,134.3 C766.2,132.9 766.8,131.6 767.5,130.4 C768.2,129.2 768.8,128.1 769.5,127.2 C770.2,126.4 770.8,125.7 771.5,125.3 C772.2,124.9 772.8,124.8 773.5,124.9 C774.2,125.0 774.8,125.4 775.5,125.9 C776.2,126.5 776.8,127.3 777.5,128.1 C778.2,129.0 778.8,129.9 779.5,130.9 C780.2,132.0 780.8,133.1 781.5,134.5 C782.2,135.9 782.8,137.7 783.5,139.4 C784.2,141.2 784.8,143.2 785.5,145.1 C786.2,147.1 786.8,149.1 787.5,151.1 C788.2,153.1 788.8,155.3 789.5,157.3 C790.2,159.2 790.8,161.3 791.5,162.9 C792.2,164.4 792.8,165.8 793.5,166.7 C794.2,167.7 794.8,168.1 795.5,168.6 C796.2,169.1 796.8,169.3 797.5,169.6 C798.2,169.9 798.8,170.3 799.5,170.4 C800.2,170.6 800.8,170.7 801.5,170.5 C802.2,170.3 802.8,169.9 803.5,169.5 C804.2,169.1 804.8,168.4 805.5,168.2 C806.2,168.0 806.8,167.8 807.5,168.1 C808.2,168.3 808.8,169.0 809.5,169.6 C810.2,170.2 810.9,171.1 811.5,171.9 C812.1,172.6 813.0,173.8 813.3,174.2" fill="none" stroke="#14b8d4" stroke-width="2.0" stroke-linejoin="round" stroke-linecap="butt"/>
<path d="M1.20,510.6V519.2M3.95,512.2V526.2M6.70,511.4V522.3M9.45,508.3V524.7M12.20,512.2V527.8M14.95,502.1V516.9M17.70,495.8V505.2M20.45,477.9V502.1M23.20,471.7V484.9M25.95,479.5V504.4M28.70,489.6V504.4M31.45,490.4V500.5M34.20,493.5V502.1M36.95,492.7V509.9M39.70,495.8V515.3M42.45,512.2V543.4M45.20,533.2V551.9M47.95,543.4V555.1M50.70,541.0V550.4M53.45,544.2V555.1M56.20,529.4V549.6M58.95,530.9V542.6M61.70,527.0V540.3M64.45,517.7V529.4M67.20,518.4V539.5M69.95,522.3V536.4M72.70,521.6V533.2M75.45,516.1V527.8M78.20,509.1V532.5M80.95,504.4V523.9M83.70,512.2V522.3M86.45,500.2V514.5M89.20,500.8V514.5M91.95,506.8V521.6M94.70,516.9V544.9M97.45,533.2V547.3M100.20,534.2V548.3M102.95,540.0V548.3M105.70,537.5V549.2M108.45,536.7V554.2M111.20,540.0V550.0M113.95,525.8V541.7M116.70,522.5V535.0M119.45,517.5V527.5M122.20,518.3V543.3M124.95,534.2V543.3M127.70,540.8V552.5M130.45,544.2V564.2M133.20,555.8V564.2M135.95,558.3V566.7M138.70,555.8V563.3M141.45,559.2V572.5M144.20,557.5V570.0M146.95,553.3V561.7M149.70,545.0V559.2M152.45,547.5V558.3M155.20,548.3V557.5M157.95,545.8V561.7M160.70,558.3V572.5M163.45,551.7V570.0M166.20,547.5V559.2M168.95,548.3V556.7M171.70,540.8V555.0M174.45,545.8V555.8M177.20,542.5V551.7M179.95,528.3V553.3M182.70,526.7V539.2M185.45,529.2V540.0M188.20,531.7V548.3M190.95,544.2V563.3M193.70,557.5V563.3M196.45,557.5V568.3M199.20,558.3V565.0M201.95,547.5V564.2M204.70,547.5V551.7M207.45,547.5V551.7M210.20,547.5V560.0M212.95,548.3V556.7M215.70,542.5V561.7M218.45,522.5V547.5M221.20,495.8V525.0M223.95,494.2V505.8M226.70,475.8V501.7M229.45,481.7V497.5M232.20,470.0V487.5M234.95,479.2V499.2M237.70,495.0V503.3M240.45,482.5V497.5M243.20,476.7V490.0M245.95,458.0V481.7M248.70,476.7V490.0M251.45,462.5V483.3M254.20,452.5V480.0M256.95,412.5V459.2M259.70,390.8V429.2M262.45,380.0V408.3M265.20,358.3V386.7M267.95,376.7V404.2M270.70,391.7V408.3M273.45,375.8V400.0M276.20,394.2V430.0M278.95,380.0V428.3M281.70,360.0V385.0M284.45,379.2V394.2M287.20,376.7V423.3M289.95,396.7V417.5M292.70,405.8V420.0M295.45,382.5V416.7M298.20,373.3V404.2M300.95,385.8V403.3M303.70,381.7V396.7M306.45,383.3V405.8M309.20,373.3V406.7M311.95,346.7V388.3M314.70,340.8V381.7M317.45,369.2V378.3M320.20,369.2V390.0M322.95,370.0V387.5M325.70,364.2V392.5M328.45,375.8V390.0M331.20,371.7V388.3M333.95,365.0V380.0M336.70,363.3V394.2M339.45,349.2V405.8M342.20,345.8V370.0M344.95,317.5V361.7M347.70,310.0V336.7M350.45,269.2V321.7M353.20,270.8V295.8M355.95,270.8V289.2M358.70,258.3V299.2M361.45,239.2V307.5M364.20,253.3V289.2M366.95,249.2V273.3M369.70,248.3V278.3M372.45,265.0V290.8M375.20,273.3V291.7M377.95,273.3V287.5M380.70,278.3V292.5M383.45,245.0V290.8M386.20,214.2V252.5M388.95,226.7V251.7M391.70,225.0V244.2M394.45,220.0V258.3M397.20,240.8V262.5M399.95,240.0V259.2M402.70,220.8V251.7M405.45,211.7V240.8M408.20,216.7V245.8M410.95,244.2V279.2M413.70,263.3V285.0M416.45,282.5V303.3M419.20,285.0V302.5M421.95,253.3V298.3M424.70,270.8V300.8M427.45,267.5V297.5M430.20,274.2V290.8M432.95,268.3V305.0M435.70,284.2V295.8M438.45,260.8V285.8M441.20,249.2V269.2M443.95,239.2V263.3M446.70,240.0V282.5M449.45,268.3V283.3M452.20,274.2V298.3M454.95,282.5V315.0M457.70,297.5V315.8M460.45,275.8V314.2M463.20,258.3V288.3M465.95,263.3V284.2M468.70,267.5V298.3M471.45,270.0V293.3M474.20,268.3V276.7M476.95,261.7V293.3M479.70,279.2V313.3M482.45,285.0V301.7M485.20,285.0V310.0M487.95,293.3V312.5M490.70,286.7V300.8M493.45,290.0V305.0M496.20,290.8V305.8M498.95,296.7V306.7M501.70,289.2V297.5M504.45,276.7V295.0M507.20,260.8V285.8M509.95,272.5V293.3M512.70,288.3V303.3M515.45,287.5V306.7M518.20,265.0V290.0M520.95,261.7V278.3M523.70,264.2V276.7M526.45,270.0V309.2M529.20,292.5V305.0M531.95,295.8V332.5M534.70,315.8V337.5M537.45,332.5V347.5M540.20,331.7V350.8M542.95,324.2V338.3M545.70,314.2V329.2M548.45,317.5V330.0M551.20,315.8V337.5M553.95,312.5V320.0M556.70,309.2V328.3M559.45,312.5V330.0M562.20,315.8V330.0M564.95,325.0V340.8M567.70,328.3V345.0M570.45,330.0V341.7M573.20,335.8V340.8M575.95,324.2V340.8M578.70,325.8V340.8M581.45,305.8V333.3M584.20,302.5V318.3M586.95,307.5V316.7M589.70,308.3V334.2M592.45,327.5V334.2M595.20,325.8V332.5M597.95,309.2V328.3M600.70,299.2V328.3M603.45,310.8V330.8M606.20,306.7V316.7M608.95,307.5V312.5M611.70,307.5V320.0M614.45,305.8V316.7M617.20,306.7V311.7M619.95,300.0V311.7M622.70,281.7V302.5M625.45,266.7V286.7M628.20,262.5V275.0M630.95,261.7V270.0M633.70,250.8V265.8M636.45,245.0V262.5M639.33,216.7V250.0M641.67,170.8V218.3M644.50,186.7V213.3M647.50,145.0V215.0M650.50,206.7V233.3M653.00,204.2V226.7M655.50,205.0V225.0M658.33,222.5V238.3M661.17,210.8V226.7M663.67,210.8V223.3M666.33,206.7V221.7M669.33,204.2V213.3M672.33,197.5V225.8M675.00,208.3V220.0M677.50,198.3V218.3M680.33,189.2V205.8M683.00,173.3V200.0M685.67,180.0V202.5M688.33,186.7V205.0M691.33,176.7V194.2M694.17,170.0V195.0M696.83,168.3V193.3M699.67,184.2V222.5M702.33,203.3V224.2M705.00,198.3V218.3M707.67,191.7V208.3M710.50,187.5V198.3M713.67,191.7V205.8M716.17,192.5V206.7M719.17,186.7V201.7M721.67,177.5V193.3M724.50,178.7V185.8M727.00,153.3V183.3M729.70,142.5V160.8M732.80,130.0V153.3M735.40,97.5V135.8M738.30,48.3V106.7M741.00,80.0V127.5M743.50,90.0V127.5M746.30,84.2V113.0M748.70,97.5V205.0M751.50,145.0V187.5M754.60,97.5V175.8M757.50,93.3V120.0M760.30,66.7V116.7M763.00,45.0V70.0M765.50,30.8V88.3M768.30,59.0V107.5M771.00,70.0V118.3M773.30,96.7V207.5M776.20,128.3V276.7M779.50,190.0V343.3M782.50,216.0V325.0M785.00,226.0V317.0M787.50,295.0V326.7M790.30,260.0V338.3M792.50,207.5V304.0M795.50,116.0V220.0M798.70,109.2V163.3M801.30,103.3V161.7M804.20,116.7V140.8M806.80,118.3V144.2M809.50,129.2V190.0M812.50,175.0V192.5" stroke="#0a0a0a" stroke-width="1" fill="none"/>
<path d="M-0.05,513.0h2.5V518.4h-2.5ZM5.45,516.9h2.5V521.6h-2.5ZM10.95,516.1h2.5V523.1h-2.5ZM13.70,504.4h2.5V516.1h-2.5ZM16.45,496.6h2.5V505.2h-2.5ZM19.20,478.7h2.5V498.2h-2.5ZM27.45,496.2h2.5V500.8h-2.5ZM32.95,494.3h2.5V500.5h-2.5ZM46.70,544.9h2.5V548.1h-2.5ZM54.95,531.7h2.5V548.8h-2.5ZM60.45,527.8h2.5V535.6h-2.5ZM63.20,518.4h2.5V528.6h-2.5ZM68.70,523.1h2.5V534.8h-2.5ZM71.45,525.5h2.5V528.6h-2.5ZM74.20,516.9h2.5V527.0h-2.5ZM76.95,514.5h2.5V520.0h-2.5ZM82.45,513.0h2.5V519.2h-2.5ZM85.20,503.3h2.5V513.8h-2.5ZM96.20,540.3h2.5V543.4h-2.5ZM101.70,540.8h2.5V547.5h-2.5ZM107.20,540.8h2.5V544.2h-2.5ZM112.70,534.2h2.5V540.8h-2.5ZM115.45,525.8h2.5V534.2h-2.5ZM118.20,519.2h2.5V526.7h-2.5ZM134.70,560.8h2.5V562.5h-2.5ZM145.70,557.5h2.5V560.8h-2.5ZM148.45,547.5h2.5V558.3h-2.5ZM153.95,550.8h2.5V556.7h-2.5ZM162.20,557.5h2.5V568.3h-2.5ZM164.95,554.2h2.5V557.5h-2.5ZM167.70,550.0h2.5V555.0h-2.5ZM173.20,550.0h2.5V554.2h-2.5ZM175.95,546.7h2.5V550.0h-2.5ZM178.70,530.8h2.5V547.5h-2.5ZM184.20,534.2h2.5V535.8h-2.5ZM197.95,560.8h2.5V563.3h-2.5ZM200.70,548.3h2.5V563.3h-2.5ZM206.20,548.3h2.5V550.8h-2.5ZM211.70,551.7h2.5V555.8h-2.5ZM214.45,546.7h2.5V555.0h-2.5ZM217.20,523.3h2.5V546.7h-2.5ZM219.95,499.2h2.5V524.2h-2.5ZM222.70,498.3h2.5V500.0h-2.5ZM225.45,485.8h2.5V497.5h-2.5ZM228.20,485.8h2.5V493.3h-2.5ZM230.95,480.0h2.5V486.7h-2.5ZM239.20,489.2h2.5V496.7h-2.5ZM241.95,477.5h2.5V489.2h-2.5ZM250.20,471.7h2.5V481.7h-2.5ZM252.95,455.3h2.5V472.5h-2.5ZM255.70,420.8h2.5V455.8h-2.5ZM258.45,407.0h2.5V421.7h-2.5ZM261.20,381.7h2.5V407.5h-2.5ZM263.95,377.5h2.5V382.0h-2.5ZM269.45,394.2h2.5V396.7h-2.5ZM277.70,384.2h2.5V426.7h-2.5ZM280.45,383.3h2.5V384.7h-2.5ZM291.45,407.0h2.5V412.8h-2.5ZM294.20,383.3h2.5V410.8h-2.5ZM299.70,387.0h2.5V402.5h-2.5ZM307.95,374.2h2.5V395.8h-2.5ZM310.70,349.2h2.5V375.0h-2.5ZM327.20,383.3h2.5V388.3h-2.5ZM329.95,373.0h2.5V386.7h-2.5ZM332.70,369.2h2.5V373.7h-2.5ZM338.20,350.8h2.5V390.8h-2.5ZM343.70,320.0h2.5V355.8h-2.5ZM346.45,311.7h2.5V320.0h-2.5ZM349.20,280.8h2.5V320.0h-2.5ZM351.95,280.8h2.5V282.5h-2.5ZM357.45,268.3h2.5V287.5h-2.5ZM362.95,261.7h2.5V281.7h-2.5ZM365.70,254.2h2.5V261.7h-2.5ZM373.95,274.2h2.5V288.3h-2.5ZM382.20,248.3h2.5V285.8h-2.5ZM384.95,247.5h2.5V248.7h-2.5ZM387.70,230.0h2.5V248.7h-2.5ZM398.70,247.5h2.5V258.0h-2.5ZM401.45,224.2h2.5V247.5h-2.5ZM404.20,217.5h2.5V224.2h-2.5ZM417.95,286.7h2.5V301.7h-2.5ZM420.70,283.3h2.5V287.5h-2.5ZM426.20,286.7h2.5V296.7h-2.5ZM428.95,280.8h2.5V286.7h-2.5ZM437.20,261.7h2.5V285.0h-2.5ZM439.95,255.8h2.5V262.5h-2.5ZM442.70,243.3h2.5V255.8h-2.5ZM456.45,299.2h2.5V313.3h-2.5ZM459.20,276.7h2.5V313.3h-2.5ZM464.70,276.7h2.5V281.7h-2.5ZM470.20,275.8h2.5V291.7h-2.5ZM472.95,275.0h2.5V276.3h-2.5ZM481.20,291.7h2.5V297.5h-2.5ZM486.70,295.0h2.5V306.7h-2.5ZM489.45,292.5h2.5V295.8h-2.5ZM497.70,297.5h2.5V300.8h-2.5ZM500.45,290.0h2.5V296.7h-2.5ZM503.20,277.5h2.5V291.7h-2.5ZM505.95,277.5h2.5V279.2h-2.5ZM514.20,289.2h2.5V297.5h-2.5ZM516.95,265.8h2.5V289.2h-2.5ZM519.70,265.0h2.5V267.5h-2.5ZM527.95,293.3h2.5V304.2h-2.5ZM538.95,336.3h2.5V337.5h-2.5ZM541.70,328.3h2.5V337.5h-2.5ZM544.45,319.2h2.5V328.3h-2.5ZM549.95,316.7h2.5V322.5h-2.5ZM552.70,316.7h2.5V318.3h-2.5ZM566.45,330.8h2.5V339.2h-2.5ZM571.95,336.7h2.5V339.2h-2.5ZM574.70,326.7h2.5V338.3h-2.5ZM580.20,311.7h2.5V329.2h-2.5ZM591.20,330.8h2.5V332.5h-2.5ZM593.95,326.7h2.5V331.7h-2.5ZM596.70,315.0h2.5V326.7h-2.5ZM602.20,315.0h2.5V320.8h-2.5ZM604.95,310.8h2.5V312.5h-2.5ZM607.70,310.8h2.5V311.8h-2.5ZM613.20,308.3h2.5V311.7h-2.5ZM618.70,300.8h2.5V309.2h-2.5ZM621.45,283.3h2.5V301.7h-2.5ZM624.20,267.5h2.5V284.2h-2.5ZM626.95,265.0h2.5V268.3h-2.5ZM629.70,262.5h2.5V268.3h-2.5ZM632.45,260.8h2.5V265.0h-2.5ZM635.20,246.7h2.5V261.7h-2.5ZM638.08,217.5h2.5V249.2h-2.5ZM640.42,201.7h2.5V217.5h-2.5ZM643.25,190.0h2.5V201.7h-2.5ZM651.75,205.8h2.5V218.3h-2.5ZM659.92,212.5h2.5V225.8h-2.5ZM665.08,211.7h2.5V218.3h-2.5ZM668.08,207.5h2.5V211.7h-2.5ZM673.75,209.2h2.5V211.7h-2.5ZM676.25,204.2h2.5V210.8h-2.5ZM679.08,194.2h2.5V205.0h-2.5ZM681.75,181.7h2.5V194.2h-2.5ZM692.92,170.8h2.5V190.8h-2.5ZM701.08,212.5h2.5V217.5h-2.5ZM703.75,200.8h2.5V214.2h-2.5ZM706.42,196.7h2.5V201.7h-2.5ZM709.25,193.3h2.5V197.5h-2.5ZM717.92,189.2h2.5V200.8h-2.5ZM720.42,179.2h2.5V189.2h-2.5ZM725.75,156.7h2.5V182.5h-2.5ZM728.45,145.0h2.5V157.5h-2.5ZM731.55,134.2h2.5V145.8h-2.5ZM734.15,105.0h2.5V135.0h-2.5ZM737.05,85.8h2.5V105.8h-2.5ZM742.25,108.3h2.5V116.7h-2.5ZM745.05,103.3h2.5V109.2h-2.5ZM750.25,171.7h2.5V175.8h-2.5ZM753.35,107.5h2.5V172.5h-2.5ZM759.05,69.2h2.5V113.3h-2.5ZM761.75,60.0h2.5V69.2h-2.5ZM764.25,60.0h2.5V67.5h-2.5ZM781.25,247.5h2.5V265.0h-2.5ZM789.05,262.0h2.5V316.7h-2.5ZM791.25,216.7h2.5V284.0h-2.5ZM794.25,125.0h2.5V217.5h-2.5ZM800.05,120.8h2.5V138.3h-2.5ZM811.25,175.8h2.5V184.2h-2.5Z" fill="#2b7514"/>
<path d="M2.70,513.0h2.5V521.6h-2.5ZM8.20,516.9h2.5V523.1h-2.5ZM21.95,479.0h2.5V483.4h-2.5ZM24.70,482.6h2.5V501.3h-2.5ZM30.20,496.2h2.5V497.4h-2.5ZM35.70,494.6h2.5V505.2h-2.5ZM38.45,496.6h2.5V514.5h-2.5ZM41.20,513.0h2.5V539.5h-2.5ZM43.95,538.7h2.5V548.1h-2.5ZM49.45,544.9h2.5V548.8h-2.5ZM52.20,547.3h2.5V549.6h-2.5ZM57.70,531.7h2.5V535.6h-2.5ZM65.95,519.2h2.5V534.8h-2.5ZM79.70,514.5h2.5V520.0h-2.5ZM87.95,503.3h2.5V512.2h-2.5ZM90.70,510.6h2.5V518.4h-2.5ZM93.45,517.7h2.5V543.4h-2.5ZM98.95,540.0h2.5V546.7h-2.5ZM104.45,540.0h2.5V544.2h-2.5ZM109.95,540.8h2.5V542.5h-2.5ZM120.95,520.0h2.5V540.0h-2.5ZM123.70,539.2h2.5V542.5h-2.5ZM126.45,541.7h2.5V545.8h-2.5ZM129.20,545.0h2.5V560.8h-2.5ZM131.95,559.2h2.5V563.3h-2.5ZM137.45,560.8h2.5V562.0h-2.5ZM140.20,560.8h2.5V565.0h-2.5ZM142.95,561.7h2.5V565.0h-2.5ZM151.20,548.3h2.5V556.7h-2.5ZM156.70,550.8h2.5V560.8h-2.5ZM159.45,559.2h2.5V568.3h-2.5ZM170.45,549.2h2.5V553.3h-2.5ZM181.45,531.7h2.5V535.0h-2.5ZM186.95,534.2h2.5V546.7h-2.5ZM189.70,545.0h2.5V561.7h-2.5ZM192.45,559.2h2.5V561.7h-2.5ZM195.20,560.0h2.5V562.5h-2.5ZM203.45,549.2h2.5V550.2h-2.5ZM208.95,549.2h2.5V555.8h-2.5ZM233.70,480.3h2.5V496.7h-2.5ZM236.45,495.8h2.5V497.0h-2.5ZM244.70,477.5h2.5V478.5h-2.5ZM247.45,477.8h2.5V481.7h-2.5ZM266.70,377.5h2.5V396.7h-2.5ZM272.20,394.2h2.5V395.8h-2.5ZM274.95,395.0h2.5V426.7h-2.5ZM283.20,383.3h2.5V388.3h-2.5ZM285.95,388.0h2.5V407.5h-2.5ZM288.70,406.7h2.5V412.8h-2.5ZM296.95,383.7h2.5V403.3h-2.5ZM302.45,387.0h2.5V389.7h-2.5ZM305.20,389.2h2.5V398.3h-2.5ZM313.45,349.2h2.5V375.3h-2.5ZM316.20,374.7h2.5V375.8h-2.5ZM318.95,375.3h2.5V385.8h-2.5ZM321.70,375.0h2.5V385.8h-2.5ZM324.45,375.0h2.5V388.3h-2.5ZM335.45,369.2h2.5V392.5h-2.5ZM340.95,350.8h2.5V355.8h-2.5ZM354.70,280.8h2.5V287.8h-2.5ZM360.20,268.3h2.5V281.7h-2.5ZM368.45,254.5h2.5V266.7h-2.5ZM371.20,266.2h2.5V288.3h-2.5ZM376.70,274.2h2.5V280.0h-2.5ZM379.45,279.2h2.5V285.8h-2.5ZM390.45,230.0h2.5V233.3h-2.5ZM393.20,233.3h2.5V248.7h-2.5ZM395.95,248.3h2.5V257.5h-2.5ZM406.95,217.5h2.5V245.0h-2.5ZM409.70,245.0h2.5V274.2h-2.5ZM412.45,274.2h2.5V284.2h-2.5ZM415.20,284.2h2.5V301.7h-2.5ZM423.45,283.3h2.5V296.7h-2.5ZM431.70,280.8h2.5V290.8h-2.5ZM434.45,285.0h2.5V290.8h-2.5ZM445.45,243.3h2.5V278.3h-2.5ZM448.20,277.5h2.5V279.2h-2.5ZM450.95,277.5h2.5V286.7h-2.5ZM453.70,285.8h2.5V313.3h-2.5ZM461.95,276.7h2.5V281.7h-2.5ZM467.45,276.7h2.5V291.7h-2.5ZM475.70,275.8h2.5V290.8h-2.5ZM478.45,290.8h2.5V297.5h-2.5ZM483.95,291.7h2.5V306.7h-2.5ZM492.20,292.5h2.5V295.8h-2.5ZM494.95,295.0h2.5V300.0h-2.5ZM508.70,277.5h2.5V290.8h-2.5ZM511.45,290.8h2.5V297.5h-2.5ZM522.45,265.0h2.5V271.7h-2.5ZM525.20,270.8h2.5V303.3h-2.5ZM530.70,296.7h2.5V321.7h-2.5ZM533.45,320.8h2.5V334.2h-2.5ZM536.20,333.3h2.5V337.5h-2.5ZM547.20,319.2h2.5V322.5h-2.5ZM555.45,317.0h2.5V318.3h-2.5ZM558.20,317.5h2.5V326.7h-2.5ZM560.95,326.7h2.5V329.2h-2.5ZM563.70,328.3h2.5V339.2h-2.5ZM569.20,330.8h2.5V339.2h-2.5ZM577.45,326.7h2.5V329.2h-2.5ZM582.95,311.7h2.5V314.2h-2.5ZM585.70,312.5h2.5V315.0h-2.5ZM588.45,314.2h2.5V332.5h-2.5ZM599.45,315.0h2.5V320.8h-2.5ZM610.45,310.8h2.5V312.5h-2.5ZM615.95,308.3h2.5V310.8h-2.5ZM646.25,190.0h2.5V213.3h-2.5ZM649.25,212.5h2.5V218.3h-2.5ZM654.25,205.8h2.5V224.2h-2.5ZM657.08,223.3h2.5V225.8h-2.5ZM662.42,212.5h2.5V218.3h-2.5ZM671.08,207.5h2.5V210.8h-2.5ZM684.42,181.7h2.5V199.2h-2.5ZM687.08,187.5h2.5V199.2h-2.5ZM690.08,188.3h2.5V190.8h-2.5ZM695.58,170.8h2.5V188.3h-2.5ZM698.42,188.3h2.5V217.5h-2.5ZM712.42,193.3h2.5V198.3h-2.5ZM714.92,197.5h2.5V200.8h-2.5ZM723.25,179.5h2.5V183.3h-2.5ZM739.75,85.8h2.5V116.7h-2.5ZM747.45,103.3h2.5V175.8h-2.5ZM756.25,107.5h2.5V114.2h-2.5ZM767.05,60.0h2.5V97.5h-2.5ZM769.75,97.5h2.5V116.7h-2.5ZM772.05,115.8h2.5V187.5h-2.5ZM774.95,187.5h2.5V247.5h-2.5ZM778.25,247.5h2.5V265.0h-2.5ZM783.75,247.5h2.5V300.0h-2.5ZM786.25,300.0h2.5V316.7h-2.5ZM797.45,125.0h2.5V138.3h-2.5ZM802.95,120.8h2.5V125.0h-2.5ZM805.55,125.0h2.5V131.7h-2.5ZM808.25,130.8h2.5V185.0h-2.5Z" fill="#ff0000"/>
<path d="M62.0,534.0 L62.5,533.6 L63.0,533.2 L63.5,532.8 L64.0,532.4 L64.5,532.0 L65.0,531.6 L65.5,531.2 L66.0,530.7 L66.5,530.3 L67.0,529.9 L67.5,529.5 L68.0,529.1 L68.5,528.7 L69.0,528.3 L69.5,527.9 L70.0,527.5 L70.5,527.1 L71.0,526.7 L71.5,526.3 L72.0,525.9 L72.5,525.5 L73.0,525.0 L73.5,524.6 L74.0,524.2 L74.5,523.8 L75.0,523.4 L75.5,523.0 L76.0,522.6 L76.5,522.2 L77.0,521.8 L77.5,521.4 L78.0,521.0 L78.5,520.6 L79.0,520.2 L79.5,519.8 L80.0,519.3 L80.5,518.9 L81.0,518.5 L81.5,518.1 L82.0,517.7 L82.5,517.3 L83.0,516.9 L83.5,516.5 L84.0,516.1 L84.5,515.7 L85.0,515.3 L85.5,514.9 L86.0,514.5 L86.5,514.1 L87.0,513.6 L87.5,513.2 L88.0,512.8 L88.5,512.4 L89.0,512.0 L89.5,511.6 L90.0,511.2 L90.5,510.8 L91.0,510.4 L91.5,510.0 L92.0,509.6 L92.5,509.2 L93.0,508.8 L93.5,508.6 L94.0,508.6 L94.5,508.5 L95.0,508.5 L95.5,508.5 L96.0,508.4 L96.5,508.4 L97.0,508.4 L97.5,508.4 L98.0,508.3 L98.5,508.3 L99.0,508.3 L99.5,508.3 L100.0,508.2 L100.5,508.2 L101.0,508.2 L101.5,508.1 L102.0,508.1 L102.5,508.1 L103.0,508.1 L103.5,508.0 L104.0,508.0 L104.5,508.0 L105.0,507.9 L105.5,507.6 L106.0,507.3 L106.5,506.9 L107.0,506.5 L107.5,506.1 L108.0,505.7 L108.5,505.3 L109.0,505.0 L109.5,505.0 L110.0,505.1 L110.5,505.2 L111.0,505.3 L111.5,505.5 L112.0,505.6 L112.5,505.8 L113.0,506.6 L113.5,507.5 L114.0,508.3 L114.5,509.2 L115.0,510.0 L115.5,510.8 L116.0,511.5 L116.5,512.0 L117.0,512.5 L117.5,513.0 L118.0,513.5 L118.5,514.0 L119.0,514.5 L119.5,515.0 L120.0,515.5 L120.5,516.0 L121.0,516.5 L121.5,516.7 L122.0,516.9 L122.5,517.0 L123.0,517.2 L123.5,517.4 L124.0,517.5 L124.5,517.7 L125.0,517.9 L125.5,518.0 L126.0,518.2 L126.5,518.3 L127.0,518.4 L127.5,518.4 L128.0,518.5 L128.5,518.6 L129.0,518.6 L129.5,518.7 L130.0,518.8 L130.5,518.8 L131.0,518.9 L131.5,518.9 L132.0,519.3 L132.0,519.3 L131.5,520.3 L131.0,521.3 L130.5,522.3 L130.0,522.9 L129.5,523.3 L129.0,523.8 L128.5,524.2 L128.0,524.6 L127.5,525.1 L127.0,525.5 L126.5,525.9 L126.0,526.4 L125.5,526.8 L125.0,527.2 L124.5,527.6 L124.0,527.9 L123.5,528.2 L123.0,528.5 L122.5,528.8 L122.0,529.1 L121.5,529.4 L121.0,529.7 L120.5,530.1 L120.0,530.4 L119.5,530.7 L119.0,531.0 L118.5,531.3 L118.0,531.6 L117.5,531.9 L117.0,532.2 L116.5,532.6 L116.0,532.9 L115.5,533.2 L115.0,533.5 L114.5,533.8 L114.0,534.1 L113.5,534.3 L113.0,534.6 L112.5,534.8 L112.0,535.1 L111.5,535.3 L111.0,535.6 L110.5,535.8 L110.0,536.1 L109.5,536.3 L109.0,536.6 L108.5,536.8 L108.0,537.1 L107.5,537.3 L107.0,537.6 L106.5,537.8 L106.0,538.1 L105.5,538.3 L105.0,538.6 L104.5,538.8 L104.0,539.1 L103.5,539.3 L103.0,539.6 L102.5,539.8 L102.0,540.1 L101.5,540.3 L101.0,540.6 L100.5,540.8 L100.0,541.1 L99.5,541.3 L99.0,541.6 L98.5,541.8 L98.0,542.1 L97.5,542.3 L97.0,542.6 L96.5,542.8 L96.0,543.1 L95.5,543.3 L95.0,543.6 L94.5,543.8 L94.0,544.3 L93.5,544.8 L93.0,545.3 L92.5,545.8 L92.0,546.3 L91.5,547.3 L91.0,548.5 L90.5,549.8 L90.0,551.0 L89.5,552.3 L89.0,553.3 L88.5,553.7 L88.0,554.1 L87.5,554.6 L87.0,555.0 L86.5,555.4 L86.0,555.8 L85.5,556.3 L85.0,556.7 L84.5,557.1 L84.0,557.9 L83.5,558.7 L83.0,559.5 L82.5,560.3 L82.0,561.1 L81.5,561.9 L81.0,562.6 L80.5,562.9 L80.0,563.2 L79.5,563.6 L79.0,563.9 L78.5,564.2 L78.0,564.6 L77.5,564.9 L77.0,565.2 L76.5,565.6 L76.0,565.9 L75.5,566.2 L75.0,566.4 L74.5,566.5 L74.0,566.5 L73.5,566.6 L73.0,566.7 L72.5,566.7 L72.0,566.8 L71.5,566.8 L71.0,566.9 L70.5,567.0 L70.0,567.0 L69.5,567.1 L69.0,567.2 L68.5,567.2 L68.0,567.3 L67.5,567.3 L67.0,567.4 L66.5,567.5 L66.0,567.5 L65.5,567.6 L65.0,567.6 L64.5,567.7 L64.0,567.8 L63.5,567.8 L63.0,567.9 L62.5,567.9 L62.0,568.0Z" fill="rgba(76,175,80,0.10)" stroke="none"/>
<path d="M132.0,519.3 L132.5,519.8 L133.0,520.4 L133.5,520.9 L134.0,521.4 L134.5,522.0 L135.0,522.5 L135.5,523.0 L136.0,523.3 L136.5,523.5 L137.0,523.6 L137.5,523.8 L138.0,523.9 L138.5,524.1 L139.0,524.2 L139.5,524.4 L140.0,524.5 L140.5,524.7 L141.0,524.8 L141.5,524.8 L142.0,524.8 L142.5,524.8 L143.0,524.8 L143.5,524.8 L144.0,524.8 L144.5,524.8 L145.0,524.8 L145.5,524.8 L146.0,524.8 L146.5,524.6 L147.0,524.2 L147.5,523.7 L148.0,523.3 L148.5,522.8 L149.0,522.4 L149.5,521.9 L150.0,521.5 L150.5,521.1 L151.0,520.8 L151.5,520.5 L152.0,520.2 L152.5,519.9 L153.0,519.5 L153.5,519.2 L154.0,518.9 L154.5,518.6 L155.0,518.3 L155.5,518.0 L156.0,517.8 L156.5,517.8 L157.0,517.7 L157.5,517.6 L158.0,517.5 L158.5,517.4 L159.0,517.3 L159.5,517.3 L160.0,517.3 L160.5,517.3 L161.0,517.4 L161.5,517.4 L162.0,517.4 L162.5,517.5 L163.0,517.5 L163.5,517.6 L164.0,517.6 L164.5,517.9 L165.0,518.4 L165.5,519.0 L166.0,519.5 L166.5,520.1 L167.0,520.6 L167.5,521.1 L168.0,521.5 L168.5,521.8 L169.0,522.1 L169.5,522.4 L170.0,522.7 L170.5,523.1 L171.0,523.4 L171.5,523.7 L172.0,524.0 L172.5,524.3 L173.0,524.6 L173.5,524.8 L174.0,525.0 L174.5,525.2 L175.0,525.3 L175.5,525.5 L176.0,525.7 L176.5,525.9 L177.0,526.1 L177.5,526.3 L178.0,526.5 L178.5,526.7 L179.0,527.0 L179.5,527.4 L180.0,527.7 L180.5,528.0 L181.0,528.3 L181.5,528.6 L182.0,528.9 L182.5,529.2 L183.0,529.5 L183.5,529.9 L184.0,530.0 L184.5,530.1 L185.0,530.2 L185.5,530.3 L186.0,530.5 L186.5,530.6 L187.0,530.7 L187.5,530.8 L188.0,530.9 L188.5,531.1 L189.0,531.2 L189.5,531.3 L190.0,531.4 L190.5,531.5 L191.0,531.5 L191.5,531.5 L192.0,531.5 L192.5,531.6 L193.0,531.6 L193.5,531.6 L194.0,531.6 L194.5,531.6 L195.0,531.7 L195.5,531.7 L196.0,531.7 L196.5,531.7 L197.0,531.7 L197.5,531.8 L198.0,531.8 L198.5,531.8 L199.0,531.8 L199.5,531.8 L200.0,531.9 L200.5,532.3 L201.0,532.8 L201.5,533.3 L202.0,533.7 L202.5,534.2 L203.0,534.7 L203.5,535.1 L204.0,535.2 L204.5,535.4 L205.0,535.6 L205.5,535.8 L206.0,536.0 L206.5,536.2 L207.0,536.4 L207.5,536.6 L208.0,536.8 L208.5,536.9 L209.0,537.1 L209.5,537.3 L210.0,537.5 L210.5,537.7 L211.0,537.9 L211.5,538.1 L212.0,538.2 L212.5,538.4 L213.0,538.6 L213.5,538.8 L214.0,539.0 L214.5,539.2 L215.0,539.4 L215.5,539.6 L216.0,539.8 L216.5,539.9 L217.0,540.2 L217.5,540.4 L218.0,540.7 L218.5,540.9 L219.0,541.2 L219.5,541.4 L220.0,541.7 L220.5,541.9 L221.0,542.2 L221.5,542.4 L222.0,542.7 L222.5,542.9 L223.0,543.2 L223.5,543.4 L224.0,543.8 L224.5,544.1 L225.0,544.4 L225.5,544.7 L226.0,545.0 L226.5,545.3 L227.0,545.6 L227.5,545.9 L228.0,546.2 L228.5,546.6 L229.0,546.9 L229.5,547.2 L230.0,547.5 L230.5,547.7 L231.0,547.9 L231.5,548.1 L232.0,548.2 L232.5,548.4 L233.0,548.6 L233.5,548.8 L234.0,549.0 L234.5,549.2 L235.0,549.4 L235.5,549.6 L236.0,549.8 L236.5,549.9 L237.0,550.0 L237.5,550.1 L238.0,550.2 L238.5,550.2 L239.0,550.3 L239.5,550.4 L240.0,550.4 L240.5,550.5 L241.0,550.5 L241.5,550.6 L242.0,550.7 L242.5,550.7 L243.0,550.8 L243.5,550.8 L244.0,550.6 L244.5,550.4 L245.0,550.2 L245.5,550.0 L246.0,549.8 L246.5,549.6 L247.0,549.5 L247.5,549.3 L248.0,549.1 L248.5,548.9 L249.0,548.7 L249.5,548.5 L250.0,548.3 L250.5,548.1 L251.0,548.0 L251.5,547.8 L252.0,547.6 L252.5,547.4 L253.0,547.2 L253.5,547.0 L254.0,546.8 L254.5,546.6 L255.0,546.5 L255.5,546.3 L256.0,546.1 L256.5,545.9 L257.0,545.6 L257.5,545.2 L258.0,544.8 L258.5,544.5 L259.0,544.1 L259.5,543.7 L260.0,543.3 L260.5,543.6 L261.0,544.0 L261.5,544.3 L262.0,544.6 L262.5,544.9 L263.0,545.2 L263.5,545.5 L264.0,545.8 L264.5,546.1 L265.0,546.5 L265.5,546.8 L266.0,547.1 L266.5,547.4 L267.0,547.5 L267.5,547.6 L268.0,547.6 L268.5,547.7 L269.0,547.7 L269.5,547.7 L270.0,547.8 L270.5,547.8 L271.0,547.9 L271.5,547.9 L272.0,547.9 L272.5,548.0 L273.0,548.0 L273.5,548.1 L274.0,548.1 L274.5,548.2 L275.0,548.2 L275.5,548.2 L276.0,548.3 L276.5,548.3 L277.0,548.5 L277.5,548.8 L278.0,549.0 L278.5,549.2 L279.0,549.5 L279.5,549.8 L280.0,550.0 L280.5,550.2 L281.0,550.5 L281.5,550.8 L282.0,551.0 L282.5,551.2 L283.0,551.5 L283.5,551.7 L284.0,551.7 L284.5,551.7 L285.0,551.7 L285.5,551.7 L286.0,551.7 L286.5,551.7 L287.0,551.7 L287.5,551.7 L288.0,551.7 L288.5,551.2 L289.0,549.7 L289.5,548.2 L290.0,546.7 L290.5,545.2 L291.0,543.7 L291.5,542.2 L292.0,540.3 L292.5,538.3 L293.0,536.3 L293.5,534.3 L294.0,532.3 L294.0,532.8 L293.5,533.2 L293.0,533.6 L292.5,534.1 L292.0,534.5 L291.5,535.0 L291.0,535.4 L290.5,535.9 L290.0,536.3 L289.5,536.3 L289.0,536.3 L288.5,536.3 L288.0,536.3 L287.5,536.3 L287.0,536.3 L286.5,536.3 L286.0,536.3 L285.5,536.3 L285.0,536.3 L284.5,536.3 L284.0,536.3 L283.5,536.3 L283.0,536.3 L282.5,536.3 L282.0,536.3 L281.5,536.3 L281.0,536.3 L280.5,536.3 L280.0,536.3 L279.5,536.3 L279.0,536.3 L278.5,536.3 L278.0,536.3 L277.5,536.3 L277.0,536.3 L276.5,536.3 L276.0,536.3 L275.5,536.3 L275.0,536.3 L274.5,536.3 L274.0,536.3 L273.5,536.3 L273.0,536.3 L272.5,536.3 L272.0,536.3 L271.5,536.3 L271.0,536.3 L270.5,536.3 L270.0,536.3 L269.5,536.3 L269.0,536.3 L268.5,536.3 L268.0,536.3 L267.5,536.3 L267.0,536.3 L266.5,536.3 L266.0,536.3 L265.5,536.3 L265.0,536.3 L264.5,536.2 L264.0,536.2 L263.5,536.2 L263.0,536.2 L262.5,536.2 L262.0,536.1 L261.5,536.1 L261.0,536.1 L260.5,536.1 L260.0,536.0 L259.5,536.0 L259.0,536.0 L258.5,536.0 L258.0,536.0 L257.5,535.9 L257.0,535.9 L256.5,535.9 L256.0,535.9 L255.5,535.9 L255.0,535.8 L254.5,535.6 L254.0,535.3 L253.5,535.1 L253.0,534.8 L252.5,534.6 L252.0,534.3 L251.5,534.1 L251.0,533.8 L250.5,533.6 L250.0,533.3 L249.5,533.2 L249.0,533.1 L248.5,533.0 L248.0,532.8 L247.5,532.7 L247.0,532.6 L246.5,532.5 L246.0,532.3 L245.5,532.2 L245.0,532.1 L244.5,532.0 L244.0,531.8 L243.5,531.7 L243.0,531.3 L242.5,530.7 L242.0,530.1 L241.5,529.5 L241.0,528.9 L240.5,528.4 L240.0,527.8 L239.5,527.2 L239.0,526.6 L238.5,526.0 L238.0,525.6 L237.5,525.3 L237.0,524.9 L236.5,524.6 L236.0,524.3 L235.5,523.9 L235.0,523.6 L234.5,523.3 L234.0,522.9 L233.5,522.6 L233.0,522.5 L232.5,522.5 L232.0,522.5 L231.5,522.5 L231.0,522.5 L230.5,522.5 L230.0,522.5 L229.5,522.5 L229.0,522.5 L228.5,522.5 L228.0,522.5 L227.5,522.5 L227.0,522.5 L226.5,522.5 L226.0,522.5 L225.5,522.5 L225.0,522.5 L224.5,522.5 L224.0,522.5 L223.5,522.5 L223.0,522.5 L222.5,522.5 L222.0,522.5 L221.5,522.5 L221.0,522.5 L220.5,522.5 L220.0,522.5 L219.5,522.4 L219.0,522.2 L218.5,522.1 L218.0,522.0 L217.5,521.9 L217.0,521.8 L216.5,521.6 L216.0,521.5 L215.5,521.4 L215.0,521.2 L214.5,521.1 L214.0,521.0 L213.5,520.9 L213.0,520.8 L212.5,520.6 L212.0,520.5 L211.5,520.4 L211.0,520.2 L210.5,520.1 L210.0,520.0 L209.5,519.9 L209.0,519.8 L208.5,519.6 L208.0,519.5 L207.5,519.4 L207.0,519.2 L206.5,519.1 L206.0,519.0 L205.5,518.9 L205.0,518.8 L204.5,518.6 L204.0,518.5 L203.5,518.4 L203.0,517.9 L202.5,517.2 L202.0,516.5 L201.5,515.8 L201.0,515.1 L200.5,514.4 L200.0,513.7 L199.5,513.7 L199.0,513.7 L198.5,513.7 L198.0,513.7 L197.5,513.7 L197.0,513.7 L196.5,513.7 L196.0,513.7 L195.5,513.7 L195.0,513.7 L194.5,513.7 L194.0,513.7 L193.5,513.7 L193.0,513.7 L192.5,513.7 L192.0,513.7 L191.5,513.7 L191.0,513.7 L190.5,513.7 L190.0,513.7 L189.5,513.7 L189.0,513.7 L188.5,513.7 L188.0,513.7 L187.5,513.7 L187.0,513.7 L186.5,513.7 L186.0,513.8 L185.5,514.0 L185.0,514.3 L184.5,514.6 L184.0,514.9 L183.5,515.2 L183.0,515.5 L182.5,515.7 L182.0,515.9 L181.5,515.9 L181.0,515.9 L180.5,515.9 L180.0,515.9 L179.5,515.9 L179.0,515.9 L178.5,516.0 L178.0,516.0 L177.5,516.0 L177.0,516.0 L176.5,516.0 L176.0,516.0 L175.5,516.0 L175.0,516.0 L174.5,516.0 L174.0,516.0 L173.5,516.0 L173.0,516.0 L172.5,516.0 L172.0,516.0 L171.5,516.0 L171.0,516.0 L170.5,516.0 L170.0,516.0 L169.5,516.0 L169.0,516.1 L168.5,516.1 L168.0,516.1 L167.5,516.1 L167.0,516.1 L166.5,516.1 L166.0,516.1 L165.5,516.1 L165.0,516.1 L164.5,516.1 L164.0,516.1 L163.5,516.1 L163.0,516.1 L162.5,516.1 L162.0,516.1 L161.5,516.1 L161.0,516.1 L160.5,516.1 L160.0,516.1 L159.5,516.2 L159.0,516.2 L158.5,516.2 L158.0,516.2 L157.5,516.2 L157.0,516.2 L156.5,516.2 L156.0,516.2 L155.5,516.2 L155.0,516.2 L154.5,516.2 L154.0,516.2 L153.5,516.2 L153.0,516.2 L152.5,516.2 L152.0,516.2 L151.5,516.2 L151.0,516.2 L150.5,516.2 L150.0,516.2 L149.5,516.2 L149.0,516.2 L148.5,516.2 L148.0,516.2 L147.5,516.2 L147.0,516.2 L146.5,516.2 L146.0,516.2 L145.5,516.2 L145.0,516.2 L144.5,516.2 L144.0,516.2 L143.5,516.2 L143.0,516.2 L142.5,516.2 L142.0,516.2 L141.5,516.2 L141.0,516.2 L140.5,516.2 L140.0,516.2 L139.5,516.2 L139.0,516.2 L138.5,516.2 L138.0,516.2 L137.5,516.2 L137.0,516.2 L136.5,516.2 L136.0,516.2 L135.5,516.3 L135.0,516.5 L134.5,516.7 L134.0,516.9 L133.5,517.1 L133.0,517.3 L132.5,518.3 L132.0,519.3Z" fill="rgba(255,82,82,0.12)" stroke="none"/>
<path d="M294.0,532.3 L294.5,530.3 L295.0,528.3 L295.5,527.0 L296.0,525.7 L296.5,524.3 L297.0,523.0 L297.5,521.7 L298.0,521.7 L298.5,521.7 L299.0,521.7 L299.5,521.7 L300.0,521.7 L300.5,521.4 L301.0,521.1 L301.5,520.9 L302.0,520.6 L302.5,520.3 L303.0,520.1 L303.5,519.8 L304.0,519.5 L304.5,519.3 L305.0,519.0 L305.5,518.5 L306.0,518.0 L306.5,517.5 L307.0,517.0 L307.5,516.5 L308.0,516.0 L308.5,515.5 L309.0,515.0 L309.5,514.5 L310.0,514.0 L310.5,513.5 L311.0,513.0 L311.5,512.0 L312.0,511.1 L312.5,510.1 L313.0,509.1 L313.5,508.1 L314.0,507.2 L314.5,506.2 L315.0,505.2 L315.5,504.3 L316.0,503.3 L316.5,502.3 L317.0,500.5 L317.5,498.3 L318.0,498.2 L318.5,498.1 L319.0,498.0 L319.5,497.8 L320.0,497.7 L320.5,497.6 L321.0,497.5 L321.5,497.3 L322.0,497.2 L322.5,497.1 L323.0,497.0 L323.5,496.8 L324.0,496.7 L324.5,495.6 L325.0,493.9 L325.5,492.2 L326.0,490.6 L326.5,488.9 L327.0,486.9 L327.5,484.7 L328.0,482.6 L328.5,480.4 L329.0,478.2 L329.5,476.1 L330.0,473.9 L330.5,471.7 L331.0,469.6 L331.5,467.4 L332.0,465.2 L332.5,462.9 L333.0,460.7 L333.5,458.4 L334.0,456.2 L334.5,453.9 L335.0,451.7 L335.5,449.4 L336.0,447.2 L336.5,444.9 L337.0,444.1 L337.5,443.9 L338.0,443.7 L338.5,443.6 L339.0,443.4 L339.5,443.2 L340.0,443.1 L340.5,442.9 L341.0,442.7 L341.5,442.6 L342.0,442.3 L342.5,442.1 L343.0,441.8 L343.5,441.6 L344.0,441.3 L344.5,441.1 L345.0,440.8 L345.5,440.6 L346.0,440.3 L346.5,440.1 L347.0,439.8 L347.5,439.6 L348.0,439.3 L348.5,438.8 L349.0,437.6 L349.5,436.4 L350.0,435.3 L350.5,434.1 L351.0,432.9 L351.5,431.8 L352.0,430.6 L352.5,429.4 L353.0,428.3 L353.5,427.4 L354.0,427.2 L354.5,426.9 L355.0,426.7 L355.5,426.4 L356.0,426.2 L356.5,425.9 L357.0,425.2 L357.5,424.3 L358.0,423.4 L358.5,422.4 L359.0,421.5 L359.5,420.6 L360.0,419.6 L360.5,418.7 L361.0,417.8 L361.5,416.9 L362.0,415.9 L362.5,415.0 L363.0,414.7 L363.5,414.3 L364.0,414.0 L364.5,413.7 L365.0,413.3 L365.5,413.2 L366.0,413.2 L366.5,413.1 L367.0,413.0 L367.5,412.9 L368.0,412.8 L368.5,412.8 L369.0,412.7 L369.5,412.6 L370.0,412.5 L370.5,412.4 L371.0,412.3 L371.5,412.2 L372.0,412.2 L372.5,412.1 L373.0,412.0 L373.5,411.9 L374.0,411.8 L374.5,411.8 L375.0,411.7 L375.5,412.2 L376.0,412.7 L376.5,413.2 L377.0,413.7 L377.5,414.2 L378.0,414.7 L378.5,414.8 L379.0,414.1 L379.5,413.4 L380.0,412.8 L380.5,412.1 L381.0,411.1 L381.5,409.2 L382.0,407.4 L382.5,405.6 L383.0,403.7 L383.5,402.4 L384.0,401.9 L384.5,401.5 L385.0,401.0 L385.5,400.6 L386.0,400.2 L386.5,399.7 L387.0,399.3 L387.5,398.9 L388.0,398.4 L388.5,398.0 L389.0,397.5 L389.5,397.1 L390.0,396.7 L390.5,396.0 L391.0,395.3 L391.5,394.6 L392.0,393.9 L392.5,393.3 L393.0,392.6 L393.5,391.9 L394.0,391.2 L394.5,390.5 L395.0,389.5 L395.5,388.5 L396.0,387.5 L396.5,386.5 L397.0,385.5 L397.5,384.5 L398.0,383.5 L398.5,382.5 L399.0,381.5 L399.5,380.5 L400.0,379.9 L400.5,379.6 L401.0,379.3 L401.5,379.0 L402.0,378.7 L402.5,378.4 L403.0,378.1 L403.5,377.8 L404.0,377.5 L404.5,377.2 L405.0,376.9 L405.5,376.6 L406.0,376.3 L406.5,376.2 L407.0,376.6 L407.5,377.0 L408.0,377.4 L408.5,377.8 L409.0,378.2 L409.5,378.6 L410.0,379.0 L410.5,379.4 L411.0,379.8 L411.5,380.2 L412.0,380.6 L412.5,381.0 L413.0,381.3 L413.5,379.5 L414.0,377.6 L414.5,375.8 L415.0,374.0 L415.5,372.1 L416.0,370.3 L416.5,368.5 L417.0,366.6 L417.5,364.3 L418.0,362.1 L418.5,359.8 L419.0,357.6 L419.5,355.3 L420.0,353.1 L420.5,350.8 L421.0,348.6 L421.5,346.3 L422.0,344.1 L422.5,342.9 L423.0,342.8 L423.5,342.7 L424.0,342.6 L424.5,342.5 L425.0,342.4 L425.5,342.3 L426.0,342.2 L426.5,342.1 L427.0,342.0 L427.5,341.9 L428.0,341.8 L428.5,341.7 L429.0,341.0 L429.5,338.8 L430.0,336.5 L430.5,334.3 L431.0,332.0 L431.5,329.8 L432.0,328.3 L432.5,326.8 L433.0,325.3 L433.5,323.8 L434.0,322.3 L434.5,320.8 L435.0,319.3 L435.5,317.8 L436.0,316.3 L436.5,314.8 L437.0,313.6 L437.5,313.0 L438.0,312.4 L438.5,311.7 L439.0,310.8 L439.5,309.9 L440.0,309.0 L440.5,308.1 L441.0,307.2 L441.5,306.3 L442.0,305.4 L442.5,304.5 L443.0,303.6 L443.5,302.7 L444.0,301.8 L444.5,300.9 L445.0,300.0 L445.5,299.8 L446.0,299.7 L446.5,299.5 L447.0,299.3 L447.5,299.2 L448.0,299.0 L448.5,298.8 L449.0,298.7 L449.5,298.5 L450.0,298.3 L450.5,296.6 L451.0,294.8 L451.5,293.1 L452.0,291.3 L452.5,289.6 L453.0,287.8 L453.5,286.5 L454.0,285.8 L454.5,285.2 L455.0,284.6 L455.5,284.0 L456.0,283.3 L456.5,282.7 L457.0,282.4 L457.5,282.4 L458.0,282.3 L458.5,282.2 L459.0,282.1 L459.5,282.0 L460.0,281.9 L460.5,281.9 L461.0,281.8 L461.5,281.7 L462.0,281.8 L462.5,281.9 L463.0,282.0 L463.5,282.1 L464.0,282.2 L464.5,282.4 L465.0,282.5 L465.5,282.6 L466.0,282.8 L466.5,282.9 L467.0,283.0 L467.5,283.1 L468.0,283.2 L468.5,283.2 L469.0,282.7 L469.5,282.2 L470.0,281.7 L470.5,281.2 L471.0,280.7 L471.5,280.2 L472.0,279.9 L472.5,279.9 L473.0,279.8 L473.5,279.7 L474.0,279.6 L474.5,279.5 L475.0,279.4 L475.5,279.4 L476.0,279.3 L476.5,279.2 L477.0,278.4 L477.5,277.3 L478.0,276.2 L478.5,275.0 L479.0,273.9 L479.5,272.8 L480.0,271.7 L480.5,271.2 L481.0,270.7 L481.5,270.2 L482.0,269.7 L482.5,269.2 L483.0,268.7 L483.5,268.2 L484.0,267.7 L484.5,267.2 L485.0,266.7 L485.5,266.1 L486.0,265.5 L486.5,264.9 L487.0,264.3 L487.5,263.8 L488.0,263.2 L488.5,262.6 L489.0,262.0 L489.5,261.4 L490.0,260.8 L490.5,260.6 L491.0,260.3 L491.5,260.1 L492.0,259.8 L492.5,259.6 L493.0,259.3 L493.5,259.1 L494.0,258.8 L494.5,258.6 L495.0,258.3 L495.5,258.4 L496.0,258.5 L496.5,258.6 L497.0,258.7 L497.5,258.8 L498.0,258.8 L498.5,258.9 L499.0,259.0 L499.5,259.1 L500.0,259.2 L500.5,260.0 L501.0,260.8 L501.5,261.7 L502.0,262.5 L502.5,263.3 L503.0,264.2 L503.5,265.0 L504.0,265.8 L504.5,266.7 L505.0,267.5 L505.5,267.6 L506.0,267.7 L506.5,267.8 L507.0,267.8 L507.5,267.9 L508.0,268.0 L508.5,268.1 L509.0,268.2 L509.5,268.2 L510.0,268.3 L510.5,268.1 L511.0,267.8 L511.5,267.6 L512.0,267.3 L512.5,267.1 L513.0,266.8 L513.5,266.6 L514.0,266.3 L514.5,266.1 L515.0,265.8 L515.5,265.6 L516.0,265.3 L516.5,265.1 L517.0,265.0 L517.5,264.9 L518.0,264.8 L518.5,264.8 L519.0,264.7 L519.5,264.6 L520.0,264.6 L520.5,264.5 L521.0,264.5 L521.5,264.4 L522.0,264.3 L522.5,264.3 L523.0,264.2 L523.5,264.5 L524.0,265.7 L524.5,266.8 L525.0,267.9 L525.5,269.0 L526.0,270.2 L526.5,271.3 L527.0,272.4 L527.5,273.5 L528.0,274.7 L528.5,275.8 L529.0,276.9 L529.5,278.0 L530.0,279.2 L530.5,279.2 L531.0,279.2 L531.5,279.3 L532.0,279.3 L532.5,279.4 L533.0,279.4 L533.5,279.5 L534.0,279.5 L534.5,279.5 L535.0,279.6 L535.5,279.6 L536.0,279.7 L536.5,279.7 L537.0,279.8 L537.5,279.8 L538.0,279.8 L538.5,279.9 L539.0,279.9 L539.5,280.0 L540.0,280.0 L540.5,280.5 L541.0,281.0 L541.5,281.5 L542.0,282.0 L542.5,282.5 L543.0,283.0 L543.5,283.5 L544.0,284.0 L544.5,284.5 L545.0,285.0 L545.5,285.4 L546.0,285.7 L546.5,286.1 L547.0,286.5 L547.5,286.8 L548.0,287.2 L548.5,287.6 L549.0,287.9 L549.5,288.3 L550.0,288.7 L550.5,288.9 L551.0,289.1 L551.5,289.3 L552.0,289.5 L552.5,289.7 L553.0,289.9 L553.5,289.9 L554.0,289.5 L554.5,289.1 L555.0,288.8 L555.5,288.4 L556.0,288.0 L556.0,286.3 L555.5,288.6 L555.0,290.8 L554.5,293.1 L554.0,295.3 L553.5,297.6 L553.0,300.5 L552.5,303.8 L552.0,307.0 L551.5,309.2 L551.0,309.2 L550.5,309.2 L550.0,309.2 L549.5,309.2 L549.0,309.2 L548.5,309.2 L548.0,309.2 L547.5,309.2 L547.0,309.3 L546.5,309.3 L546.0,309.3 L545.5,309.3 L545.0,309.3 L544.5,309.3 L544.0,309.3 L543.5,309.3 L543.0,309.3 L542.5,309.4 L542.0,309.4 L541.5,309.4 L541.0,309.4 L540.5,309.4 L540.0,309.4 L539.5,309.4 L539.0,309.4 L538.5,309.4 L538.0,309.4 L537.5,309.4 L537.0,309.5 L536.5,309.5 L536.0,309.5 L535.5,309.5 L535.0,309.5 L534.5,309.5 L534.0,309.5 L533.5,309.5 L533.0,309.5 L532.5,309.6 L532.0,309.6 L531.5,309.6 L531.0,309.6 L530.5,309.6 L530.0,309.6 L529.5,309.6 L529.0,309.6 L528.5,309.6 L528.0,309.6 L527.5,309.7 L527.0,309.7 L526.5,309.7 L526.0,309.7 L525.5,309.7 L525.0,309.7 L524.5,309.7 L524.0,309.7 L523.5,309.7 L523.0,309.7 L522.5,309.8 L522.0,309.8 L521.5,309.8 L521.0,309.8 L520.5,309.8 L520.0,309.8 L519.5,309.8 L519.0,309.8 L518.5,309.8 L518.0,309.8 L517.5,309.9 L517.0,309.9 L516.5,309.9 L516.0,309.9 L515.5,309.9 L515.0,309.9 L514.5,309.9 L514.0,309.9 L513.5,309.9 L513.0,309.9 L512.5,309.9 L512.0,310.0 L511.5,310.0 L511.0,310.0 L510.5,310.0 L510.0,310.0 L509.5,310.1 L509.0,311.1 L508.5,312.1 L508.0,313.1 L507.5,314.1 L507.0,315.1 L506.5,316.1 L506.0,317.1 L505.5,317.8 L505.0,317.9 L504.5,318.0 L504.0,318.1 L503.5,318.2 L503.0,318.2 L502.5,318.3 L502.0,318.4 L501.5,318.5 L501.0,318.6 L500.5,318.7 L500.0,318.7 L499.5,318.8 L499.0,318.9 L498.5,319.0 L498.0,319.1 L497.5,319.2 L497.0,319.2 L496.5,319.3 L496.0,319.4 L495.5,319.5 L495.0,319.6 L494.5,319.7 L494.0,319.7 L493.5,319.8 L493.0,319.9 L492.5,320.0 L492.0,320.1 L491.5,320.2 L491.0,320.2 L490.5,320.3 L490.0,320.4 L489.5,320.5 L489.0,320.5 L488.5,320.5 L488.0,320.6 L487.5,320.6 L487.0,320.6 L486.5,320.7 L486.0,320.7 L485.5,320.8 L485.0,320.8 L484.5,320.8 L484.0,320.9 L483.5,320.9 L483.0,320.9 L482.5,321.0 L482.0,321.0 L481.5,321.0 L481.0,321.1 L480.5,321.1 L480.0,321.1 L479.5,321.2 L479.0,321.2 L478.5,321.3 L478.0,321.3 L477.5,321.3 L477.0,321.4 L476.5,321.4 L476.0,321.4 L475.5,321.5 L475.0,321.5 L474.5,321.5 L474.0,321.6 L473.5,321.6 L473.0,321.6 L472.5,321.7 L472.0,321.7 L471.5,321.8 L471.0,322.7 L470.5,324.7 L470.0,326.7 L469.5,328.7 L469.0,330.7 L468.5,332.7 L468.0,334.7 L467.5,336.7 L467.0,338.7 L466.5,340.7 L466.0,342.7 L465.5,343.5 L465.0,344.1 L464.5,344.6 L464.0,345.2 L463.5,345.8 L463.0,346.4 L462.5,347.0 L462.0,347.6 L461.5,348.1 L461.0,348.7 L460.5,349.3 L460.0,349.9 L459.5,350.5 L459.0,351.1 L458.5,351.6 L458.0,352.2 L457.5,353.5 L457.0,354.7 L456.5,356.0 L456.0,357.2 L455.5,358.5 L455.0,359.7 L454.5,361.0 L454.0,362.2 L453.5,363.5 L453.0,364.7 L452.5,366.0 L452.0,367.2 L451.5,368.5 L451.0,369.7 L450.5,371.0 L450.0,372.1 L449.5,372.1 L449.0,372.1 L448.5,372.1 L448.0,372.2 L447.5,372.2 L447.0,372.2 L446.5,372.2 L446.0,372.2 L445.5,372.2 L445.0,372.3 L444.5,372.3 L444.0,372.3 L443.5,372.3 L443.0,372.3 L442.5,372.4 L442.0,372.4 L441.5,372.4 L441.0,372.4 L440.5,372.4 L440.0,372.4 L439.5,372.5 L439.0,372.5 L438.5,372.5 L438.0,372.5 L437.5,372.5 L437.0,372.6 L436.5,372.6 L436.0,372.6 L435.5,372.6 L435.0,374.8 L434.5,377.1 L434.0,379.4 L433.5,381.6 L433.0,383.9 L432.5,386.2 L432.0,388.4 L431.5,390.7 L431.0,393.7 L430.5,396.7 L430.0,399.7 L429.5,402.7 L429.0,405.7 L428.5,407.1 L428.0,407.9 L427.5,408.7 L427.0,409.5 L426.5,410.3 L426.0,411.1 L425.5,411.9 L425.0,412.7 L424.5,413.5 L424.0,414.3 L423.5,415.1 L423.0,415.9 L422.5,416.7 L422.0,418.0 L421.5,419.9 L421.0,421.8 L420.5,423.7 L420.0,425.6 L419.5,427.5 L419.0,429.4 L418.5,431.3 L418.0,433.2 L417.5,435.1 L417.0,437.0 L416.5,438.9 L416.0,440.8 L415.5,442.9 L415.0,445.2 L414.5,447.6 L414.0,449.9 L413.5,452.3 L413.0,454.6 L412.5,454.7 L412.0,454.7 L411.5,454.7 L411.0,454.8 L410.5,454.8 L410.0,454.8 L409.5,454.8 L409.0,454.8 L408.5,454.8 L408.0,454.8 L407.5,454.9 L407.0,454.9 L406.5,454.9 L406.0,454.9 L405.5,454.9 L405.0,454.9 L404.5,454.9 L404.0,455.0 L403.5,455.0 L403.0,455.0 L402.5,455.0 L402.0,455.0 L401.5,455.0 L401.0,455.1 L400.5,455.1 L400.0,455.1 L399.5,455.1 L399.0,455.1 L398.5,455.1 L398.0,455.1 L397.5,455.2 L397.0,455.2 L396.5,455.2 L396.0,455.2 L395.5,455.2 L395.0,455.2 L394.5,455.2 L394.0,455.3 L393.5,455.3 L393.0,455.3 L392.5,455.3 L392.0,455.3 L391.5,455.3 L391.0,455.4 L390.5,455.4 L390.0,455.4 L389.5,455.4 L389.0,455.4 L388.5,455.4 L388.0,455.4 L387.5,455.5 L387.0,455.5 L386.5,455.5 L386.0,456.0 L385.5,456.6 L385.0,457.1 L384.5,457.6 L384.0,458.2 L383.5,458.7 L383.0,459.3 L382.5,459.8 L382.0,460.3 L381.5,460.9 L381.0,461.4 L380.5,462.0 L380.0,462.5 L379.5,462.7 L379.0,462.9 L378.5,463.1 L378.0,463.4 L377.5,463.6 L377.0,463.8 L376.5,464.0 L376.0,464.2 L375.5,464.4 L375.0,464.6 L374.5,464.8 L374.0,465.1 L373.5,465.3 L373.0,465.3 L372.5,465.3 L372.0,465.4 L371.5,465.4 L371.0,465.4 L370.5,465.4 L370.0,465.4 L369.5,465.4 L369.0,465.4 L368.5,465.4 L368.0,465.4 L367.5,465.4 L367.0,465.4 L366.5,465.4 L366.0,465.4 L365.5,465.4 L365.0,465.4 L364.5,465.5 L364.0,465.5 L363.5,465.5 L363.0,465.5 L362.5,465.5 L362.0,465.5 L361.5,465.5 L361.0,465.5 L360.5,465.5 L360.0,465.5 L359.5,465.5 L359.0,465.5 L358.5,465.5 L358.0,465.5 L357.5,465.5 L357.0,465.6 L356.5,465.6 L356.0,465.6 L355.5,465.6 L355.0,465.6 L354.5,465.6 L354.0,465.6 L353.5,465.6 L353.0,465.6 L352.5,465.6 L352.0,465.6 L351.5,465.6 L351.0,465.6 L350.5,465.6 L350.0,465.7 L349.5,465.7 L349.0,465.7 L348.5,465.7 L348.0,465.7 L347.5,465.7 L347.0,465.7 L346.5,465.7 L346.0,465.7 L345.5,465.7 L345.0,465.7 L344.5,465.7 L344.0,465.7 L343.5,465.7 L343.0,465.7 L342.5,465.8 L342.0,465.8 L341.5,465.8 L341.0,465.8 L340.5,465.8 L340.0,465.8 L339.5,465.8 L339.0,465.8 L338.5,465.8 L338.0,465.8 L337.5,465.8 L337.0,465.8 L336.5,466.5 L336.0,468.7 L335.5,470.8 L335.0,472.9 L334.5,475.0 L334.0,477.2 L333.5,479.3 L333.0,481.7 L332.5,484.2 L332.0,486.7 L331.5,489.0 L331.0,491.1 L330.5,493.1 L330.0,495.2 L329.5,497.2 L329.0,499.3 L328.5,501.3 L328.0,502.6 L327.5,503.5 L327.0,504.4 L326.5,505.3 L326.0,506.2 L325.5,507.1 L325.0,508.0 L324.5,508.7 L324.0,509.4 L323.5,510.1 L323.0,510.8 L322.5,511.5 L322.0,512.2 L321.5,512.9 L321.0,513.6 L320.5,514.3 L320.0,515.0 L319.5,515.4 L319.0,515.7 L318.5,516.0 L318.0,516.4 L317.5,516.8 L317.0,517.1 L316.5,517.5 L316.0,517.8 L315.5,518.1 L315.0,518.5 L314.5,518.9 L314.0,519.2 L313.5,519.5 L313.0,519.9 L312.5,520.2 L312.0,520.6 L311.5,521.0 L311.0,521.3 L310.5,521.6 L310.0,522.0 L309.5,522.3 L309.0,522.6 L308.5,523.0 L308.0,523.3 L307.5,523.6 L307.0,523.9 L306.5,524.2 L306.0,524.5 L305.5,524.9 L305.0,525.2 L304.5,525.5 L304.0,525.8 L303.5,526.1 L303.0,526.4 L302.5,526.8 L302.0,527.1 L301.5,527.4 L301.0,527.7 L300.5,528.0 L300.0,528.3 L299.5,528.7 L299.0,529.1 L298.5,529.5 L298.0,529.8 L297.5,530.2 L297.0,530.6 L296.5,531.0 L296.0,531.3 L295.5,531.7 L295.0,532.1 L294.5,532.5 L294.0,532.8Z" fill="rgba(76,175,80,0.10)" stroke="none"/>
<path d="M556.0,288.0 L556.5,287.6 L557.0,287.5 L557.5,287.5 L558.0,287.5 L558.5,287.5 L559.0,287.5 L559.5,287.5 L560.0,287.5 L560.5,287.5 L561.0,287.5 L561.5,287.5 L562.0,287.5 L562.5,287.5 L563.0,287.5 L563.5,287.5 L564.0,287.5 L564.5,287.5 L565.0,287.5 L565.5,287.5 L566.0,287.5 L566.5,287.5 L567.0,287.7 L567.5,288.0 L568.0,288.3 L568.5,288.6 L569.0,289.0 L569.5,289.3 L570.0,289.6 L570.5,289.9 L571.0,290.2 L571.5,290.5 L572.0,290.8 L572.5,291.1 L573.0,291.5 L573.5,291.5 L574.0,291.0 L574.5,290.5 L575.0,290.0 L575.5,289.5 L576.0,289.0 L576.5,288.5 L577.0,288.0 L577.5,287.5 L578.0,287.0 L578.5,286.6 L579.0,286.5 L579.5,286.4 L580.0,286.3 L580.5,286.2 L581.0,286.1 L581.5,286.0 L582.0,285.9 L582.5,285.8 L583.0,285.7 L583.5,285.6 L584.0,285.5 L584.5,285.4 L585.0,285.3 L585.5,285.2 L586.0,285.1 L586.5,285.0 L587.0,285.5 L587.5,286.3 L588.0,287.0 L588.5,287.8 L589.0,288.5 L589.5,289.2 L590.0,290.0 L590.5,290.0 L591.0,290.0 L591.5,290.0 L592.0,290.0 L592.5,290.0 L593.0,290.0 L593.5,290.0 L594.0,290.0 L594.5,290.0 L595.0,290.0 L595.5,290.0 L596.0,290.0 L596.5,290.0 L597.0,289.6 L597.5,289.0 L598.0,288.3 L598.5,287.7 L599.0,287.1 L599.5,286.5 L600.0,285.8 L600.5,287.0 L601.0,288.1 L601.5,289.2 L602.0,290.3 L602.5,291.5 L603.0,292.6 L603.5,293.6 L604.0,294.3 L604.5,295.1 L605.0,295.8 L605.5,296.6 L606.0,297.3 L606.5,298.1 L607.0,298.8 L607.5,299.6 L608.0,300.3 L608.5,301.1 L609.0,301.8 L609.5,302.6 L610.0,303.3 L610.5,303.6 L611.0,303.8 L611.5,304.1 L612.0,304.3 L612.5,304.6 L613.0,304.8 L613.5,305.1 L614.0,305.3 L614.5,305.6 L615.0,305.8 L615.5,306.1 L616.0,306.3 L616.5,306.6 L617.0,306.8 L617.5,306.9 L618.0,307.0 L618.5,307.1 L619.0,307.2 L619.5,307.4 L620.0,307.5 L620.5,308.0 L621.0,308.5 L621.5,309.0 L622.0,309.5 L622.5,310.0 L623.0,310.5 L623.5,311.1 L624.0,311.8 L624.5,312.6 L625.0,313.3 L625.5,314.1 L626.0,314.8 L626.5,315.6 L627.0,315.9 L627.5,316.0 L628.0,316.1 L628.5,316.2 L629.0,316.2 L629.5,316.3 L630.0,316.4 L630.5,316.5 L631.0,316.6 L631.5,316.7 L632.0,316.8 L632.5,316.9 L633.0,316.9 L633.5,317.0 L634.0,317.0 L634.5,316.9 L635.0,316.9 L635.5,316.9 L636.0,316.8 L636.5,316.8 L637.0,316.8 L637.5,316.7 L638.0,316.7 L638.5,316.7 L639.0,316.6 L639.5,316.6 L640.0,316.6 L640.5,316.5 L641.0,316.5 L641.5,316.5 L642.0,316.4 L642.5,316.4 L643.0,316.4 L643.5,316.3 L644.0,316.3 L644.5,316.3 L645.0,316.3 L645.5,316.3 L646.0,316.3 L646.5,316.3 L647.0,316.3 L647.5,316.3 L648.0,316.3 L648.5,316.3 L649.0,316.3 L649.5,316.3 L650.0,316.3 L650.5,316.3 L651.0,316.3 L651.5,316.3 L652.0,316.3 L652.5,316.3 L653.0,316.3 L653.5,316.3 L654.0,316.2 L654.5,316.2 L655.0,316.1 L655.5,316.0 L656.0,316.0 L656.5,315.9 L657.0,315.8 L657.5,315.8 L658.0,315.7 L658.5,315.6 L659.0,315.6 L659.5,315.5 L660.0,315.4 L660.5,315.4 L661.0,315.3 L661.5,315.2 L662.0,315.2 L662.5,315.1 L663.0,315.0 L663.5,315.2 L664.0,315.7 L664.5,316.2 L665.0,316.7 L665.5,317.2 L666.0,317.7 L666.5,318.2 L667.0,318.7 L667.5,319.2 L668.0,319.7 L668.5,320.0 L669.0,320.1 L669.5,320.1 L670.0,320.2 L670.5,320.2 L671.0,320.3 L671.5,320.3 L672.0,320.4 L672.5,320.4 L673.0,320.5 L673.5,320.5 L674.0,320.6 L674.5,320.6 L675.0,320.7 L675.5,320.7 L676.0,320.8 L676.5,320.8 L677.0,320.8 L677.5,320.7 L678.0,320.7 L678.5,320.6 L679.0,320.5 L679.5,320.5 L680.0,320.4 L680.5,320.4 L681.0,320.3 L681.5,320.2 L682.0,320.2 L682.5,320.1 L683.0,320.0 L683.5,320.0 L684.0,319.9 L684.5,319.8 L685.0,319.7 L685.5,319.6 L686.0,319.5 L686.5,319.4 L687.0,319.3 L687.5,319.2 L688.0,319.1 L688.5,319.0 L689.0,318.9 L689.5,318.8 L690.0,318.7 L690.5,318.6 L691.0,318.5 L691.5,318.4 L692.0,317.4 L692.5,316.0 L693.0,314.6 L693.5,313.2 L694.0,311.8 L694.5,310.4 L695.0,309.0 L695.5,307.6 L696.0,306.4 L696.5,305.5 L697.0,304.6 L697.0,305.2 L696.5,305.2 L696.0,305.2 L695.5,305.2 L695.0,305.2 L694.5,305.2 L694.0,305.2 L693.5,305.1 L693.0,305.1 L692.5,305.1 L692.0,305.1 L691.5,305.1 L691.0,305.1 L690.5,305.1 L690.0,305.0 L689.5,305.0 L689.0,305.0 L688.5,305.0 L688.0,305.0 L687.5,305.0 L687.0,305.0 L686.5,304.9 L686.0,304.9 L685.5,304.9 L685.0,304.9 L684.5,304.9 L684.0,304.9 L683.5,304.9 L683.0,304.8 L682.5,304.8 L682.0,304.8 L681.5,304.8 L681.0,304.8 L680.5,304.8 L680.0,304.8 L679.5,304.7 L679.0,304.7 L678.5,304.7 L678.0,304.7 L677.5,304.7 L677.0,304.7 L676.5,304.7 L676.0,304.6 L675.5,304.6 L675.0,304.6 L674.5,304.6 L674.0,304.6 L673.5,304.6 L673.0,304.5 L672.5,304.5 L672.0,304.5 L671.5,304.5 L671.0,304.5 L670.5,304.5 L670.0,304.4 L669.5,304.4 L669.0,304.4 L668.5,304.4 L668.0,304.4 L667.5,304.4 L667.0,304.3 L666.5,304.3 L666.0,304.3 L665.5,304.3 L665.0,304.3 L664.5,304.3 L664.0,304.2 L663.5,304.2 L663.0,304.2 L662.5,304.2 L662.0,304.2 L661.5,303.7 L661.0,302.2 L660.5,300.8 L660.0,299.3 L659.5,297.9 L659.0,296.4 L658.5,295.0 L658.0,294.5 L657.5,294.5 L657.0,294.5 L656.5,294.5 L656.0,294.5 L655.5,294.5 L655.0,294.5 L654.5,294.5 L654.0,294.5 L653.5,294.5 L653.0,294.5 L652.5,294.4 L652.0,294.4 L651.5,294.4 L651.0,294.4 L650.5,294.4 L650.0,294.4 L649.5,294.4 L649.0,294.4 L648.5,294.4 L648.0,294.4 L647.5,294.4 L647.0,294.4 L646.5,294.4 L646.0,294.4 L645.5,294.4 L645.0,294.4 L644.5,294.4 L644.0,294.4 L643.5,294.4 L643.0,294.4 L642.5,294.4 L642.0,294.3 L641.5,294.3 L641.0,294.3 L640.5,294.3 L640.0,294.3 L639.5,294.3 L639.0,294.3 L638.5,294.3 L638.0,294.3 L637.5,294.3 L637.0,294.3 L636.5,294.3 L636.0,294.3 L635.5,294.3 L635.0,294.3 L634.5,294.3 L634.0,294.3 L633.5,294.3 L633.0,294.3 L632.5,294.3 L632.0,294.3 L631.5,294.3 L631.0,294.2 L630.5,294.2 L630.0,294.2 L629.5,294.2 L629.0,294.2 L628.5,294.2 L628.0,294.2 L627.5,294.2 L627.0,294.2 L626.5,294.2 L626.0,294.2 L625.5,294.2 L625.0,294.2 L624.5,294.2 L624.0,294.2 L623.5,294.2 L623.0,294.2 L622.5,294.2 L622.0,292.3 L621.5,290.5 L621.0,288.7 L620.5,286.8 L620.0,285.0 L619.5,284.6 L619.0,284.2 L618.5,283.8 L618.0,283.3 L617.5,282.9 L617.0,282.5 L616.5,282.1 L616.0,281.7 L615.5,281.2 L615.0,280.8 L614.5,280.7 L614.0,280.6 L613.5,280.5 L613.0,280.3 L612.5,280.2 L612.0,280.1 L611.5,280.0 L611.0,279.8 L610.5,279.7 L610.0,279.6 L609.5,279.5 L609.0,279.3 L608.5,279.2 L608.0,278.8 L607.5,278.2 L607.0,277.6 L606.5,277.0 L606.0,276.4 L605.5,275.9 L605.0,275.3 L604.5,274.7 L604.0,274.1 L603.5,273.5 L603.0,273.3 L602.5,273.3 L602.0,273.4 L601.5,273.4 L601.0,273.4 L600.5,273.4 L600.0,273.4 L599.5,273.4 L599.0,273.4 L598.5,273.4 L598.0,273.4 L597.5,273.4 L597.0,273.5 L596.5,273.5 L596.0,273.5 L595.5,273.5 L595.0,273.5 L594.5,273.5 L594.0,273.5 L593.5,273.5 L593.0,273.5 L592.5,273.5 L592.0,273.6 L591.5,273.6 L591.0,273.6 L590.5,273.6 L590.0,273.6 L589.5,273.6 L589.0,273.6 L588.5,273.6 L588.0,273.6 L587.5,273.6 L587.0,273.6 L586.5,273.7 L586.0,273.7 L585.5,273.7 L585.0,273.7 L584.5,273.7 L584.0,273.7 L583.5,273.7 L583.0,273.7 L582.5,273.7 L582.0,273.7 L581.5,273.8 L581.0,273.8 L580.5,273.8 L580.0,273.8 L579.5,273.8 L579.0,273.8 L578.5,273.8 L578.0,273.8 L577.5,273.8 L577.0,273.8 L576.5,273.8 L576.0,273.9 L575.5,273.9 L575.0,273.9 L574.5,273.9 L574.0,273.9 L573.5,273.9 L573.0,273.9 L572.5,273.9 L572.0,273.9 L571.5,273.9 L571.0,274.0 L570.5,274.0 L570.0,274.0 L569.5,274.0 L569.0,274.0 L568.5,274.0 L568.0,274.0 L567.5,274.0 L567.0,274.0 L566.5,274.0 L566.0,274.1 L565.5,274.1 L565.0,274.1 L564.5,274.1 L564.0,274.1 L563.5,274.1 L563.0,274.1 L562.5,274.1 L562.0,274.1 L561.5,274.1 L561.0,274.1 L560.5,274.2 L560.0,274.2 L559.5,275.5 L559.0,276.9 L558.5,278.3 L558.0,279.7 L557.5,281.0 L557.0,282.4 L556.5,284.1 L556.0,286.3Z" fill="rgba(255,82,82,0.12)" stroke="none"/>
<path d="M697.0,304.6 L697.5,303.7 L698.0,302.8 L698.5,301.9 L699.0,301.0 L699.5,300.1 L700.0,299.2 L700.5,298.6 L701.0,298.0 L701.5,297.4 L702.0,296.8 L702.5,296.2 L703.0,295.7 L703.5,295.1 L704.0,294.5 L704.5,293.9 L705.0,293.3 L705.5,292.1 L706.0,290.8 L706.5,289.6 L707.0,288.3 L707.5,287.1 L708.0,285.8 L708.5,283.5 L709.0,279.0 L709.5,274.5 L710.0,270.0 L710.5,266.0 L711.0,262.0 L711.5,258.0 L712.0,254.0 L712.5,250.0 L713.0,249.6 L713.5,249.2 L714.0,248.8 L714.5,248.4 L715.0,248.0 L715.5,247.6 L716.0,247.2 L716.5,246.8 L717.0,240.7 L717.5,231.7 L718.0,230.5 L718.5,229.3 L719.0,228.2 L719.5,227.0 L720.0,225.8 L720.5,225.5 L721.0,225.2 L721.5,224.8 L722.0,224.5 L722.5,224.2 L723.0,223.8 L723.5,223.5 L724.0,223.2 L724.5,222.8 L725.0,222.5 L725.5,222.2 L726.0,222.0 L726.5,221.8 L727.0,221.5 L727.5,221.2 L728.0,221.0 L728.5,220.8 L729.0,220.5 L729.5,220.2 L730.0,220.0 L730.5,219.5 L731.0,218.9 L731.5,218.4 L732.0,217.8 L732.5,217.3 L733.0,216.7 L733.5,216.3 L734.0,216.1 L734.5,215.9 L735.0,215.7 L735.5,215.5 L736.0,215.3 L736.5,215.2 L737.0,215.0 L737.5,214.8 L738.0,214.6 L738.5,214.4 L739.0,214.2 L739.5,215.3 L740.0,217.1 L740.5,218.8 L741.0,220.5 L741.5,221.9 L742.0,223.3 L742.5,224.7 L743.0,226.1 L743.5,226.9 L744.0,226.7 L744.5,226.5 L745.0,226.3 L745.5,226.1 L746.0,225.9 L746.5,225.7 L747.0,225.5 L747.5,225.3 L748.0,225.1 L748.5,224.9 L749.0,224.5 L749.5,224.1 L750.0,223.8 L750.5,223.4 L751.0,223.0 L751.5,222.6 L752.0,221.6 L752.5,220.3 L753.0,218.9 L753.5,217.6 L754.0,216.3 L754.5,215.6 L755.0,215.2 L755.5,214.8 L756.0,214.5 L756.5,214.1 L757.0,213.7 L757.5,213.3 L758.0,213.1 L758.5,212.9 L759.0,212.7 L759.5,212.5 L760.0,212.3 L760.5,212.1 L761.0,211.9 L761.5,211.7 L762.0,211.3 L762.5,210.7 L763.0,210.1 L763.5,209.5 L764.0,208.9 L764.5,208.3 L765.0,207.7 L765.5,207.1 L766.0,206.3 L766.5,205.3 L767.0,204.3 L767.5,203.3 L768.0,202.3 L768.5,201.7 L769.0,201.7 L769.5,201.7 L770.0,201.7 L770.5,201.5 L771.0,201.4 L771.5,201.3 L772.0,201.2 L772.5,201.0 L773.0,200.9 L773.5,200.8 L774.0,200.7 L774.5,200.5 L775.0,200.4 L775.5,200.3 L776.0,200.2 L776.5,200.0 L777.0,199.7 L777.5,199.2 L778.0,198.7 L778.5,198.2 L779.0,197.7 L779.5,197.2 L780.0,196.7 L780.5,196.2 L781.0,195.7 L781.5,195.2 L782.0,194.9 L782.5,194.9 L783.0,194.8 L783.5,194.7 L784.0,194.6 L784.5,194.5 L785.0,194.4 L785.5,194.4 L786.0,194.3 L786.5,194.2 L787.0,194.6 L787.5,195.2 L788.0,195.8 L788.5,196.4 L789.0,197.0 L789.5,197.6 L790.0,198.2 L790.5,198.8 L791.0,199.4 L791.5,200.3 L792.0,201.1 L792.5,201.9 L793.0,202.8 L793.5,202.9 L794.0,201.6 L794.5,200.2 L795.0,198.9 L795.5,197.6 L796.0,196.1 L796.5,194.5 L797.0,192.9 L797.5,191.3 L798.0,189.7 L798.5,188.1 L799.0,186.5 L799.5,184.9 L800.0,183.3 L800.5,181.7 L801.0,180.1 L801.5,178.5 L802.0,176.9 L802.5,175.3 L803.0,173.7 L803.5,172.1 L804.0,170.5 L804.5,167.3 L805.0,163.3 L805.5,159.3 L806.0,155.3 L806.5,151.3 L807.0,148.6 L807.5,146.4 L808.0,144.2 L808.5,142.1 L809.0,139.9 L809.5,138.1 L810.0,136.4 L810.5,134.7 L811.0,133.1 L811.5,131.4 L812.0,130.6 L812.5,130.2 L813.0,129.8 L813.5,129.4 L814.0,129.0 L814.5,128.6 L815.0,128.3 L815.5,127.9 L816.0,127.5 L816.5,127.1 L817.0,126.7 L817.5,126.3 L818.0,127.1 L818.5,127.9 L819.0,128.7 L819.5,129.5 L820.0,130.3 L820.5,131.1 L821.0,131.7 L821.5,131.6 L822.0,131.6 L822.5,131.6 L823.0,131.6 L823.5,131.6 L824.0,131.6 L824.5,131.6 L825.0,131.6 L825.5,131.5 L826.0,131.5 L826.5,131.5 L827.0,131.5 L827.5,131.5 L828.0,131.5 L828.5,131.5 L829.0,131.4 L829.5,131.4 L830.0,131.4 L830.5,131.4 L831.0,131.4 L831.5,131.4 L832.0,131.4 L832.5,131.4 L833.0,131.3 L833.5,130.9 L834.0,129.7 L834.5,128.5 L835.0,127.3 L835.5,126.1 L836.0,124.9 L836.5,123.7 L837.0,123.3 L837.5,123.2 L838.0,123.2 L838.5,123.1 L839.0,123.0 L839.5,123.0 L840.0,122.9 L840.5,122.8 L841.0,122.8 L841.5,122.7 L842.0,122.7 L842.5,122.6 L843.0,122.5 L843.5,122.5 L844.0,122.4 L844.5,122.3 L845.0,122.3 L845.5,122.2 L846.0,123.8 L846.5,128.6 L847.0,133.5 L847.5,138.3 L848.0,143.3 L848.5,148.3 L849.0,153.3 L849.5,161.3 L850.0,170.8 L850.5,180.3 L851.0,186.7 L851.5,186.8 L852.0,186.9 L852.5,187.0 L853.0,187.1 L853.5,187.2 L854.0,187.2 L854.5,187.3 L855.0,187.4 L855.5,187.5 L855.5,187.5 L855.0,187.5 L854.5,187.5 L854.0,187.5 L853.5,187.5 L853.0,187.5 L852.5,187.5 L852.0,187.5 L851.5,187.5 L851.0,187.5 L850.5,183.4 L850.0,177.2 L849.5,171.1 L849.0,164.9 L848.5,158.7 L848.0,155.6 L847.5,153.9 L847.0,152.2 L846.5,150.6 L846.0,148.9 L845.5,148.5 L845.0,148.8 L844.5,149.1 L844.0,149.4 L843.5,149.7 L843.0,150.0 L842.5,150.3 L842.0,150.6 L841.5,151.1 L841.0,152.0 L840.5,152.9 L840.0,153.8 L839.5,154.7 L839.0,155.6 L838.5,156.5 L838.0,157.4 L837.5,158.3 L837.0,160.7 L836.5,163.1 L836.0,165.5 L835.5,167.9 L835.0,170.3 L834.5,172.7 L834.0,175.1 L833.5,177.5 L833.0,178.6 L832.5,178.9 L832.0,179.2 L831.5,179.6 L831.0,179.9 L830.5,180.2 L830.0,180.6 L829.5,180.9 L829.0,181.2 L828.5,181.6 L828.0,181.8 L827.5,182.1 L827.0,182.3 L826.5,182.6 L826.0,182.8 L825.5,183.1 L825.0,183.3 L824.5,183.6 L824.0,183.8 L823.5,184.1 L823.0,184.1 L822.5,184.1 L822.0,184.0 L821.5,183.9 L821.0,183.9 L820.5,183.8 L820.0,183.8 L819.5,183.7 L819.0,183.6 L818.5,183.6 L818.0,183.5 L817.5,183.4 L817.0,183.4 L816.5,183.6 L816.0,184.3 L815.5,185.1 L815.0,185.8 L814.5,186.6 L814.0,187.3 L813.5,188.1 L813.0,188.8 L812.5,189.6 L812.0,190.3 L811.5,191.1 L811.0,191.8 L810.5,192.6 L810.0,193.3 L809.5,196.3 L809.0,199.3 L808.5,202.3 L808.0,206.7 L807.5,211.7 L807.0,216.7 L806.5,220.9 L806.0,223.6 L805.5,226.2 L805.0,228.9 L804.5,231.6 L804.0,233.5 L803.5,234.2 L803.0,234.8 L802.5,235.5 L802.0,236.1 L801.5,236.7 L801.0,237.4 L800.5,238.0 L800.0,238.7 L799.5,238.7 L799.0,238.7 L798.5,238.8 L798.0,238.8 L797.5,238.9 L797.0,238.9 L796.5,238.9 L796.0,239.0 L795.5,239.0 L795.0,239.0 L794.5,239.1 L794.0,239.1 L793.5,239.2 L793.0,239.3 L792.5,239.5 L792.0,239.7 L791.5,239.9 L791.0,240.1 L790.5,240.3 L790.0,240.6 L789.5,240.8 L789.0,241.0 L788.5,241.2 L788.0,241.4 L787.5,241.6 L787.0,241.8 L786.5,242.0 L786.0,242.2 L785.5,242.4 L785.0,242.6 L784.5,242.8 L784.0,243.1 L783.5,243.3 L783.0,243.4 L782.5,243.6 L782.0,243.7 L781.5,243.8 L781.0,244.0 L780.5,244.1 L780.0,244.2 L779.5,244.4 L779.0,244.5 L778.5,244.6 L778.0,244.7 L777.5,244.7 L777.0,244.7 L776.5,244.7 L776.0,244.7 L775.5,244.7 L775.0,244.7 L774.5,244.7 L774.0,244.7 L773.5,244.7 L773.0,244.7 L772.5,244.7 L772.0,244.8 L771.5,244.8 L771.0,244.8 L770.5,244.8 L770.0,244.8 L769.5,244.8 L769.0,244.8 L768.5,244.8 L768.0,244.8 L767.5,244.8 L767.0,244.8 L766.5,244.8 L766.0,244.8 L765.5,244.8 L765.0,244.9 L764.5,244.9 L764.0,244.9 L763.5,244.9 L763.0,244.9 L762.5,244.9 L762.0,244.9 L761.5,244.9 L761.0,244.9 L760.5,244.9 L760.0,244.9 L759.5,244.9 L759.0,244.9 L758.5,244.9 L758.0,244.9 L757.5,245.0 L757.0,245.0 L756.5,245.0 L756.0,245.0 L755.5,245.0 L755.0,245.0 L754.5,245.0 L754.0,245.1 L753.5,245.6 L753.0,246.0 L752.5,246.4 L752.0,246.9 L751.5,247.2 L751.0,247.2 L750.5,247.2 L750.0,247.2 L749.5,247.2 L749.0,247.2 L748.5,247.2 L748.0,247.2 L747.5,247.2 L747.0,247.2 L746.5,247.2 L746.0,247.2 L745.5,247.2 L745.0,247.2 L744.5,247.2 L744.0,247.2 L743.5,247.2 L743.0,247.2 L742.5,247.2 L742.0,247.2 L741.5,247.2 L741.0,247.2 L740.5,247.2 L740.0,247.2 L739.5,247.2 L739.0,247.2 L738.5,247.2 L738.0,247.2 L737.5,247.2 L737.0,247.2 L736.5,247.2 L736.0,247.2 L735.5,247.2 L735.0,247.2 L734.5,247.2 L734.0,247.2 L733.5,247.2 L733.0,247.2 L732.5,247.2 L732.0,247.2 L731.5,247.2 L731.0,247.2 L730.5,247.2 L730.0,247.2 L729.5,247.2 L729.0,247.2 L728.5,247.2 L728.0,247.2 L727.5,247.2 L727.0,247.2 L726.5,247.2 L726.0,247.2 L725.5,247.2 L725.0,247.2 L724.5,247.2 L724.0,247.2 L723.5,247.2 L723.0,247.2 L722.5,247.2 L722.0,247.2 L721.5,247.2 L721.0,247.2 L720.5,247.2 L720.0,247.2 L719.5,247.2 L719.0,247.3 L718.5,247.6 L718.0,248.0 L717.5,248.3 L717.0,255.8 L716.5,260.9 L716.0,261.0 L715.5,261.1 L715.0,261.2 L714.5,261.3 L714.0,261.4 L713.5,261.5 L713.0,261.6 L712.5,261.7 L712.0,267.7 L711.5,273.7 L711.0,279.7 L710.5,283.4 L710.0,286.1 L709.5,288.8 L709.0,291.4 L708.5,294.1 L708.0,295.7 L707.5,296.8 L707.0,297.8 L706.5,298.9 L706.0,299.9 L705.5,300.9 L705.0,302.0 L704.5,302.3 L704.0,302.7 L703.5,303.0 L703.0,303.3 L702.5,303.7 L702.0,304.0 L701.5,304.3 L701.0,304.7 L700.5,305.0 L700.0,305.3 L699.5,305.3 L699.0,305.3 L698.5,305.3 L698.0,305.3 L697.5,305.3 L697.0,305.2Z" fill="rgba(76,175,80,0.10)" stroke="none"/>
<path d="M855.5,187.5 L856.0,187.6 L856.5,187.7 L857.0,187.8 L857.5,187.9 L858.0,188.0 L858.5,188.1 L859.0,188.2 L859.5,188.2 L860.0,188.3 L860.5,189.3 L861.0,190.3 L861.5,191.3 L862.0,192.3 L862.5,193.3 L863.0,194.3 L863.5,195.3 L864.0,196.3 L864.5,197.3 L865.0,198.3 L865.5,199.1 L866.0,199.8 L866.5,200.6 L867.0,201.3 L867.5,202.1 L868.0,202.8 L868.5,203.6 L869.0,204.3 L869.5,205.1 L870.0,205.8 L870.5,205.7 L871.0,205.5 L871.5,205.3 L872.0,205.2 L872.5,205.0 L873.0,204.8 L873.5,204.7 L874.0,204.5 L874.5,204.3 L875.0,204.2 L875.5,204.2 L876.0,204.2 L876.5,204.2 L877.0,204.2 L877.5,204.2 L878.0,204.2 L878.5,204.2 L879.0,204.2 L879.5,204.2 L880.0,204.2 L880.5,204.2 L881.0,204.2 L881.5,204.2 L882.0,204.2 L882.5,204.2 L883.0,204.2 L883.0,187.5 L882.5,187.5 L882.0,187.5 L881.5,187.5 L881.0,187.5 L880.5,187.5 L880.0,187.5 L879.5,187.5 L879.0,187.5 L878.5,187.5 L878.0,187.5 L877.5,187.5 L877.0,187.5 L876.5,187.5 L876.0,187.5 L875.5,187.5 L875.0,187.5 L874.5,187.5 L874.0,187.5 L873.5,187.5 L873.0,187.5 L872.5,187.5 L872.0,187.5 L871.5,187.5 L871.0,187.5 L870.5,187.5 L870.0,187.5 L869.5,187.5 L869.0,187.5 L868.5,187.5 L868.0,187.5 L867.5,187.5 L867.0,187.5 L866.5,187.5 L866.0,187.5 L865.5,187.5 L865.0,187.5 L864.5,187.5 L864.0,187.5 L863.5,187.5 L863.0,187.5 L862.5,187.5 L862.0,187.5 L861.5,187.5 L861.0,187.5 L860.5,187.5 L860.0,187.5 L859.5,187.5 L859.0,187.5 L858.5,187.5 L858.0,187.5 L857.5,187.5 L857.0,187.5 L856.5,187.5 L856.0,187.5 L855.5,187.5Z" fill="rgba(255,82,82,0.12)" stroke="none"/>
<path d="M93.2,508.6 L105.1,507.9 L109.1,504.9 L112.4,505.7 L115.7,511.3 L121.1,516.6 L126.4,518.3 L131.7,519.0 L135.7,523.2 L141.0,524.8 L146.3,524.8 L150.3,521.2 L155.6,517.9 L159.6,517.2 L164.3,517.6 L167.6,521.2 L172.9,524.6 L178.2,526.5 L183.5,529.9 L190.2,531.5 L200.0,531.9 L203.3,535.0 L210.0,537.5 L216.7,540.0 L223.3,543.3 L230.0,547.5 L236.7,550.0 L243.3,550.8 L250.0,548.3 L256.7,545.8 L260.0,543.3 L266.7,547.5 L276.7,548.3 L283.3,551.7 L288.3,551.7 L291.7,541.7 L295.0,528.3 L297.5,521.7 L300.0,521.7 L305.0,519.0 L311.0,513.0 L316.7,502.0 L317.5,498.3 L324.2,496.7 L326.7,488.3 L331.7,466.7 L336.7,444.2 L341.7,442.5 L348.3,439.2 L353.3,427.5 L356.7,425.8 L362.5,415.0 L365.0,413.3 L375.0,411.7 L378.3,415.0 L380.8,411.7 L383.3,402.5 L390.0,396.7 L394.4,390.6 L399.7,380.0 L406.4,376.1 L413.0,381.3 L417.0,366.8 L422.2,343.0 L428.9,341.6 L431.5,329.7 L436.8,313.8 L438.3,312.0 L445.0,300.0 L450.0,298.3 L453.3,286.7 L456.7,282.5 L461.7,281.7 L468.3,283.3 L471.7,280.0 L476.7,279.2 L480.0,271.7 L485.0,266.7 L490.0,260.8 L495.0,258.3 L500.0,259.2 L505.0,267.5 L510.0,268.3 L516.7,265.0 L523.3,264.2 L526.7,271.7 L530.0,279.2 L540.0,280.0 L545.0,285.0 L550.0,288.7 L553.3,290.0 L556.7,287.5 L566.7,287.5 L573.3,291.7 L578.3,286.7 L586.7,285.0 L590.0,290.0 L596.7,290.0 L600.0,285.8 L603.3,293.3 L610.0,303.3 L616.7,306.7 L620.0,307.5 L623.3,310.8 L626.7,315.8 L633.3,317.0 L643.3,316.3 L653.3,316.3 L663.3,315.0 L668.3,320.0 L676.7,320.8 L683.3,320.0 L691.7,318.3 L695.8,306.7 L700.0,299.2 L705.0,293.3 L708.3,285.0 L710.0,270.0 L712.5,250.0 L716.7,246.7 L717.5,231.7 L720.0,225.8 L725.0,222.5 L730.0,220.0 L733.3,216.3 L739.2,214.2 L740.8,220.0 L743.3,227.0 L748.3,225.0 L751.7,222.5 L754.2,215.8 L757.5,213.3 L761.7,211.7 L765.8,206.7 L768.3,201.7 L770.0,201.7 L776.7,200.0 L781.7,195.0 L786.7,194.2 L790.8,199.2 L793.3,203.3 L795.8,196.7 L800.0,183.3 L804.2,170.0 L806.7,150.0 L809.2,139.2 L811.7,130.8 L817.5,126.3 L820.8,131.7 L833.3,131.3 L836.7,123.3 L845.8,122.2 L847.5,138.3 L849.2,155.0 L850.8,186.7 L860.0,188.3 L865.0,198.3 L870.0,205.8 L875.0,204.2 L883.3,204.2" fill="none" stroke="#86cb8a" stroke-width="1.15" stroke-linejoin="round"/>
<path d="M75.2,566.4 L81.2,562.4 L84.5,557.1 L89.2,553.1 L91.8,546.5 L94.5,543.8 L103.8,539.2 L114.4,533.9 L125.0,527.2 L130.4,522.6 L133.0,517.2 L135.7,516.2 L156.9,516.2 L182.2,515.9 L186.2,513.7 L200.0,513.7 L203.3,518.3 L213.3,520.8 L220.0,522.5 L233.3,522.5 L238.3,525.8 L243.3,531.7 L250.0,533.3 L255.0,535.8 L266.7,536.3 L290.0,536.3 L293.3,533.3 L300.0,528.3 L310.0,522.0 L320.0,515.0 L325.0,508.0 L328.3,502.0 L331.7,488.3 L333.3,480.0 L336.7,465.8 L373.3,465.3 L380.0,462.5 L386.5,455.5 L413.0,454.7 L415.6,442.2 L422.2,417.1 L428.9,406.5 L431.5,390.6 L435.5,372.6 L450.1,372.1 L458.0,352.2 L465.9,343.0 L471.2,321.8 L489.8,320.4 L505.7,317.8 L509.6,309.9 L510.0,310.0 L551.7,309.2 L553.3,298.3 L556.7,283.3 L560.0,274.2 L603.3,273.3 L608.3,279.2 L615.0,280.8 L620.0,285.0 L622.5,294.2 L658.3,294.5 L661.7,304.2 L676.7,304.7 L700.0,305.3 L705.0,302.0 L708.3,295.0 L710.8,281.7 L712.5,261.7 L716.7,260.8 L717.5,248.3 L719.2,247.2 L751.7,247.2 L754.2,245.0 L778.3,244.7 L783.3,243.3 L793.3,239.2 L800.0,238.7 L804.2,233.3 L806.7,220.0 L808.3,203.3 L810.0,193.3 L813.3,188.3 L816.7,183.3 L823.3,184.2 L828.3,181.7 L833.3,178.3 L837.5,158.3 L841.7,150.8 L845.8,148.3 L848.3,156.7 L850.8,187.5 L883.3,187.5" fill="none" stroke="#ff8282" stroke-width="1.1" stroke-linejoin="round"/>
<path d="M0.0,528.6 L12.5,528.3 L17.9,527.8 L21.8,516.9 L35.8,516.1 L41.3,515.3 L45.2,513.3 L51.4,513.8 L87.3,513.8 L91.9,514.5 L95.8,521.2 L102.5,523.2 L109.1,526.5 L114.4,528.5 L119.7,529.9 L126.4,528.5 L130.4,529.9 L135.7,532.5 L141.0,535.2 L151.6,535.8 L159.6,538.5 L162.3,543.2 L167.6,543.8 L186.2,543.8 L190.2,547.1 L200.0,548.5 L206.7,548.0 L216.7,548.3 L223.3,543.3 L230.0,525.0 L238.3,520.0 L243.3,514.2 L250.0,513.0 L255.0,510.0 L257.5,495.0 L260.0,485.0 L264.2,473.3 L264.2,463.3 L267.5,460.8 L285.0,459.7 L288.3,450.0 L292.5,432.5 L306.7,432.0 L310.0,425.0 L314.2,415.8 L318.3,414.2 L324.2,407.5 L327.5,395.0 L328.3,390.0 L336.7,385.0 L343.3,384.2 L346.7,371.7 L350.0,347.5 L356.7,346.7 L361.7,333.3 L365.0,330.0 L386.5,310.7 L407.7,309.1 L411.7,290.0 L413.3,286.7 L416.7,280.8 L423.3,271.7 L428.3,263.3 L431.7,258.3 L451.7,258.3 L455.0,268.3 L458.3,272.5 L475.0,273.3 L480.0,286.7 L500.0,286.7 L500.0,286.7 L506.7,286.3 L512.5,285.0 L516.7,286.7 L528.3,286.7 L531.7,295.0 L536.7,301.7 L540.0,305.0 L548.3,305.3 L553.3,305.0 L563.3,305.0 L576.7,305.3 L583.3,306.3 L590.0,307.5 L595.0,310.8 L598.3,315.8 L603.3,318.3 L608.3,320.0 L613.3,320.0 L618.3,316.7 L623.3,308.3 L628.3,303.3 L635.0,296.7 L638.3,281.7 L641.7,256.7 L645.8,255.8 L647.5,245.0 L649.2,240.0 L658.3,239.2 L668.3,237.5 L673.3,234.2 L676.7,231.7 L686.7,229.2 L690.8,225.0 L694.2,218.3 L697.5,207.5 L700.0,204.2 L703.3,196.7 L706.7,192.5 L715.8,192.0 L717.5,203.0 L724.2,203.3 L726.7,195.0 L730.0,181.7 L733.3,168.3 L736.7,153.3 L738.3,137.5 L748.3,136.3 L760.0,136.3 L763.3,131.7 L766.7,127.5 L773.3,126.7 L775.8,150.0 L778.3,187.5 L815.0,187.5" fill="none" stroke="#c27a7a" stroke-width="1.1" stroke-linejoin="round"/>
<path d="M0.0,511.4 L6.2,512.2 L10.9,516.1 L15.6,513.0 L19.5,505.2 L23.4,500.5 L28.1,501.3 L33.5,497.4 L37.4,493.5 L40.8,493.5 L42.9,511.4 L46.8,515.3 L51.4,520.8 L59.2,523.9 L63.9,528.6 L68.6,534.8 L76.4,536.4 L79.5,528.6 L84.2,522.3 L88.8,520.0 L93.5,518.4 L96.6,522.3 L102.9,525.5 L109.1,527.0 L115.3,528.6 L120.0,530.1 L121.7,535.8 L128.3,540.8 L138.3,541.7 L143.3,545.0 L148.3,556.7 L155.0,558.3 L166.7,558.7 L173.3,555.0 L180.0,550.0 L186.7,548.3 L190.0,544.2 L195.0,547.5 L200.0,548.0 L206.7,549.2 L215.0,548.3 L220.0,535.0 L223.3,533.3 L226.7,519.2 L233.3,518.3 L238.3,515.0 L243.3,498.3 L246.7,485.0 L251.7,481.7 L253.3,468.3 L257.5,450.0 L260.8,436.7 L265.0,424.7 L270.8,423.7 L276.7,418.3 L280.0,405.0 L281.7,395.0 L282.5,393.3 L296.7,394.2 L301.7,393.3 L306.7,396.7 L311.7,387.5 L316.7,380.0 L320.0,375.0 L330.0,374.2 L333.3,369.2 L338.3,369.2 L340.0,378.3 L343.3,373.3 L346.7,360.8 L349.2,358.3 L350.8,338.3 L356.7,337.5 L360.0,330.0 L363.3,312.0 L365.8,301.7 L370.0,288.3 L372.5,280.0 L375.8,273.3 L382.5,273.3 L385.8,255.8 L387.5,253.3 L400.0,253.3 L405.0,250.0 L407.5,245.0 L410.0,244.7 L413.3,248.3 L416.7,255.8 L420.0,257.5 L426.7,257.5 L430.8,260.0 L432.5,271.7 L435.0,277.5 L440.0,277.5 L443.3,271.7 L450.0,270.8 L451.7,276.7 L456.7,278.3 L461.7,282.5 L468.3,286.7 L471.7,296.7 L480.0,296.3 L480.8,286.7 L496.7,286.7 L498.3,290.8 L503.3,286.7 L510.0,285.8 L513.3,283.7 L528.3,284.2 L530.8,290.0 L533.3,295.8 L536.7,302.5 L543.3,305.8 L547.5,309.2 L550.0,315.0 L553.3,321.7 L555.8,328.3 L558.3,329.7 L563.3,326.7 L573.3,327.0 L580.0,326.7 L585.0,323.3 L595.0,321.7 L603.3,318.3 L608.3,315.8 L616.7,315.0 L621.7,309.2 L626.7,295.0 L633.3,285.8 L636.7,276.7 L639.2,265.0 L640.8,248.3 L642.5,233.3 L645.0,218.3 L649.2,206.7 L653.3,205.0 L658.3,202.5 L661.7,195.0 L665.0,191.7 L669.2,192.0 L670.8,206.7 L672.5,218.3 L677.5,218.3 L681.7,206.7 L685.0,200.8 L690.0,198.3 L695.0,195.8 L698.3,195.0 L703.3,196.7 L710.0,197.5 L716.7,199.2 L723.3,196.7 L726.7,185.0 L730.0,173.3 L733.3,161.7 L736.7,150.0 L739.2,126.7 L743.3,118.3 L746.7,116.7 L749.2,126.7 L760.0,126.7 L763.3,121.7 L766.7,118.0 L771.7,118.3 L774.2,122.5 L775.8,133.3 L778.3,166.7 L781.7,180.0 L786.7,188.3 L790.0,196.7 L792.5,205.0 L794.2,215.0 L796.7,221.7 L799.2,225.8 L801.7,223.3 L805.0,221.2 L812.5,221.2" fill="none" stroke="#74bcfb" stroke-width="1.05" stroke-linejoin="round"/>
<path d="M64,603.2 L1087.3,328.2" stroke="#f0281e" stroke-width="1.6" fill="none"/>
<path d="M0.0,586.2 C0.3,586.0 1.3,585.6 2.0,585.4 C2.7,585.1 3.3,584.8 4.0,584.6 C4.7,584.3 5.3,584.0 6.0,583.8 C6.7,583.5 7.3,583.2 8.0,583.0 C8.7,582.7 9.3,582.5 10.0,582.2 C10.7,581.9 11.3,581.7 12.0,581.4 C12.7,581.2 13.3,580.9 14.0,580.7 C14.7,580.5 15.3,580.2 16.0,580.0 C16.7,579.7 17.3,579.5 18.0,579.2 C18.7,579.0 19.3,578.8 20.0,578.5 C20.7,578.3 21.3,578.1 22.0,577.8 C22.7,577.6 23.3,577.4 24.0,577.2 C24.7,576.9 25.3,576.7 26.0,576.5 C26.7,576.3 27.3,576.1 28.0,575.8 C28.7,575.6 29.3,575.4 30.0,575.2 C30.7,575.0 31.3,574.8 32.0,574.6 C32.7,574.4 33.3,574.2 34.0,574.0 C34.7,573.9 35.3,573.7 36.0,573.5 C36.7,573.3 37.3,573.1 38.0,573.0 C38.7,572.8 39.3,572.6 40.0,572.5 C40.7,572.3 41.3,572.2 42.0,572.0 C42.7,571.9 43.3,571.7 44.0,571.6 C44.7,571.4 45.3,571.3 46.0,571.2 C46.7,571.0 47.3,570.9 48.0,570.8 C48.7,570.7 49.3,570.6 50.0,570.5 C50.7,570.4 51.3,570.3 52.0,570.2 C52.7,570.1 53.3,570.0 54.0,569.9 C54.7,569.8 55.3,569.7 56.0,569.6 C56.7,569.6 57.3,569.5 58.0,569.4 C58.7,569.3 59.3,569.3 60.0,569.2 C60.7,569.1 61.3,569.1 62.0,569.0 C62.7,568.9 63.3,568.9 64.0,568.8 C64.7,568.7 65.3,568.7 66.0,568.6 C66.7,568.5 67.3,568.5 68.0,568.4 C68.7,568.3 69.3,568.3 70.0,568.2 C70.7,568.1 71.3,568.1 72.0,568.0 C72.7,567.9 73.3,567.9 74.0,567.8 C74.7,567.7 75.3,567.6 76.0,567.6 C76.7,567.5 77.3,567.4 78.0,567.4 C78.7,567.3 79.3,567.2 80.0,567.1 C80.7,567.1 81.3,567.0 82.0,566.9 C82.7,566.8 83.3,566.8 84.0,566.7 C84.7,566.6 85.3,566.5 86.0,566.5 C86.7,566.4 87.3,566.3 88.0,566.3 C88.7,566.2 89.3,566.1 90.0,566.1 C90.7,566.0 91.3,565.9 92.0,565.8 C92.7,565.8 93.3,565.7 94.0,565.6 C94.7,565.6 95.3,565.5 96.0,565.4 C96.7,565.4 97.3,565.3 98.0,565.2 C98.7,565.1 99.3,565.1 100.0,565.0 C100.7,564.9 101.3,564.8 102.0,564.8 C102.7,564.7 103.3,564.6 104.0,564.6 C104.7,564.5 105.3,564.4 106.0,564.3 C106.7,564.3 107.3,564.2 108.0,564.1 C108.7,564.0 109.3,564.0 110.0,563.9 C110.7,563.8 111.3,563.8 112.0,563.7 C112.7,563.6 113.3,563.5 114.0,563.5 C114.7,563.4 115.3,563.3 116.0,563.3 C116.7,563.2 117.3,563.1 118.0,563.1 C118.7,563.0 119.3,562.9 120.0,562.9 C120.7,562.8 121.3,562.8 122.0,562.7 C122.7,562.7 123.3,562.6 124.0,562.5 C124.7,562.5 125.3,562.4 126.0,562.4 C126.7,562.3 127.3,562.3 128.0,562.2 C128.7,562.2 129.3,562.1 130.0,562.1 C130.7,562.1 131.3,562.0 132.0,562.0 C132.7,561.9 133.3,561.9 134.0,561.9 C134.7,561.8 135.3,561.8 136.0,561.8 C136.7,561.7 137.3,561.7 138.0,561.7 C138.7,561.6 139.3,561.6 140.0,561.6 C140.7,561.5 141.3,561.5 142.0,561.5 C142.7,561.5 143.3,561.4 144.0,561.4 C144.7,561.4 145.3,561.4 146.0,561.3 C146.7,561.3 147.3,561.3 148.0,561.3 C148.7,561.3 149.3,561.2 150.0,561.2 C150.7,561.2 151.3,561.2 152.0,561.1 C152.7,561.1 153.3,561.1 154.0,561.1 C154.7,561.1 155.3,561.0 156.0,561.0 C156.7,561.0 157.3,561.0 158.0,561.0 C158.7,560.9 159.3,560.9 160.0,560.9 C160.7,560.9 161.3,560.9 162.0,560.8 C162.7,560.8 163.3,560.8 164.0,560.8 C164.7,560.8 165.3,560.8 166.0,560.7 C166.7,560.7 167.3,560.7 168.0,560.7 C168.7,560.7 169.3,560.7 170.0,560.7 C170.7,560.6 171.3,560.6 172.0,560.6 C172.7,560.6 173.3,560.6 174.0,560.6 C174.7,560.5 175.3,560.5 176.0,560.5 C176.7,560.5 177.3,560.5 178.0,560.4 C178.7,560.4 179.3,560.4 180.0,560.4 C180.7,560.4 181.3,560.3 182.0,560.3 C182.7,560.3 183.3,560.3 184.0,560.2 C184.7,560.2 185.3,560.2 186.0,560.1 C186.7,560.1 187.3,560.1 188.0,560.0 C188.7,560.0 189.3,560.0 190.0,559.9 C190.7,559.9 191.3,559.8 192.0,559.8 C192.7,559.7 193.3,559.7 194.0,559.6 C194.7,559.6 195.3,559.5 196.0,559.5 C196.7,559.4 197.3,559.4 198.0,559.3 C198.7,559.2 199.3,559.2 200.0,559.1 C200.7,559.0 201.3,559.0 202.0,558.9 C202.7,558.8 203.3,558.8 204.0,558.7 C204.7,558.6 205.3,558.5 206.0,558.4 C206.7,558.4 207.3,558.3 208.0,558.2 C208.7,558.1 209.3,558.0 210.0,557.9 C210.7,557.8 211.3,557.7 212.0,557.7 C212.7,557.6 213.3,557.5 214.0,557.4 C214.7,557.3 215.3,557.2 216.0,557.1 C216.7,557.0 217.3,556.9 218.0,556.8 C218.7,556.7 219.3,556.5 220.0,556.4 C220.7,556.3 221.3,556.2 222.0,556.1 C222.7,556.0 223.3,555.9 224.0,555.8 C224.7,555.7 225.3,555.6 226.0,555.5 C226.7,555.4 227.3,555.2 228.0,555.1 C228.7,555.0 229.3,554.9 230.0,554.8 C230.7,554.7 231.3,554.6 232.0,554.5 C232.7,554.3 233.3,554.2 234.0,554.1 C234.7,554.0 235.3,553.9 236.0,553.8 C236.7,553.6 237.3,553.5 238.0,553.4 C238.7,553.3 239.3,553.1 240.0,553.0 C240.7,552.9 241.3,552.7 242.0,552.6 C242.7,552.4 243.3,552.3 244.0,552.1 C244.7,552.0 245.3,551.8 246.0,551.7 C246.7,551.5 247.3,551.3 248.0,551.1 C248.7,550.9 249.3,550.7 250.0,550.5 C250.7,550.3 251.3,550.1 252.0,549.9 C252.7,549.7 253.3,549.4 254.0,549.2 C254.7,549.0 255.3,548.7 256.0,548.4 C256.7,548.2 257.3,547.9 258.0,547.6 C258.7,547.3 259.3,547.0 260.0,546.8 C260.7,546.5 261.3,546.2 262.0,545.8 C262.7,545.5 263.3,545.2 264.0,544.9 C264.7,544.6 265.3,544.2 266.0,543.9 C266.7,543.6 267.3,543.2 268.0,542.9 C268.7,542.6 269.3,542.2 270.0,541.9 C270.7,541.5 271.3,541.1 272.0,540.8 C272.7,540.4 273.3,540.1 274.0,539.7 C274.7,539.3 275.3,539.0 276.0,538.6 C276.7,538.2 277.3,537.9 278.0,537.5 C278.7,537.1 279.3,536.8 280.0,536.4 C280.7,536.0 281.3,535.6 282.0,535.3 C282.7,534.9 283.3,534.5 284.0,534.2 C284.7,533.8 285.3,533.4 286.0,533.1 C286.7,532.7 287.3,532.4 288.0,532.0 C288.7,531.7 289.3,531.3 290.0,531.0 C290.7,530.7 291.3,530.4 292.0,530.0 C292.7,529.7 293.3,529.4 294.0,529.1 C294.7,528.8 295.3,528.5 296.0,528.2 C296.7,527.9 297.3,527.6 298.0,527.3 C298.7,527.0 299.3,526.7 300.0,526.4 C300.7,526.1 301.3,525.8 302.0,525.6 C302.7,525.3 303.3,525.0 304.0,524.7 C304.7,524.5 305.3,524.2 306.0,523.9 C306.7,523.6 307.3,523.3 308.0,523.0 C308.7,522.7 309.3,522.5 310.0,522.2 C310.7,521.9 311.3,521.6 312.0,521.3 C312.7,521.0 313.3,520.7 314.0,520.4 C314.7,520.0 315.3,519.7 316.0,519.4 C316.7,519.1 317.3,518.8 318.0,518.4 C318.7,518.1 319.3,517.8 320.0,517.5 C320.7,517.1 321.3,516.8 322.0,516.4 C322.7,516.1 323.3,515.8 324.0,515.4 C324.7,515.1 325.3,514.7 326.0,514.4 C326.7,514.0 327.3,513.7 328.0,513.3 C328.7,512.9 329.3,512.6 330.0,512.2 C330.7,511.8 331.3,511.5 332.0,511.1 C332.7,510.7 333.3,510.3 334.0,510.0 C334.7,509.6 335.3,509.2 336.0,508.8 C336.7,508.4 337.3,508.0 338.0,507.6 C338.7,507.2 339.3,506.8 340.0,506.3 C340.7,505.9 341.3,505.5 342.0,505.1 C342.7,504.6 343.3,504.2 344.0,503.7 C344.7,503.3 345.3,502.8 346.0,502.4 C346.7,501.9 347.3,501.5 348.0,501.0 C348.7,500.5 349.3,500.0 350.0,499.6 C350.7,499.1 351.3,498.6 352.0,498.1 C352.7,497.6 353.3,497.1 354.0,496.6 C354.7,496.2 355.3,495.7 356.0,495.2 C356.7,494.7 357.3,494.2 358.0,493.7 C358.7,493.1 359.3,492.6 360.0,492.1 C360.7,491.6 361.3,491.1 362.0,490.6 C362.7,490.1 363.3,489.6 364.0,489.1 C364.7,488.5 365.3,488.0 366.0,487.5 C366.7,487.0 367.3,486.5 368.0,485.9 C368.7,485.4 369.3,484.9 370.0,484.4 C370.7,483.8 371.3,483.3 372.0,482.8 C372.7,482.3 373.3,481.7 374.0,481.2 C374.7,480.7 375.3,480.1 376.0,479.6 C376.7,479.0 377.3,478.5 378.0,478.0 C378.7,477.4 379.3,476.9 380.0,476.3 C380.7,475.8 381.3,475.2 382.0,474.7 C382.7,474.1 383.3,473.6 384.0,473.0 C384.7,472.5 385.3,471.9 386.0,471.4 C386.7,470.8 387.3,470.3 388.0,469.7 C388.7,469.2 389.3,468.6 390.0,468.1 C390.7,467.5 391.3,467.0 392.0,466.4 C392.7,465.9 393.3,465.3 394.0,464.8 C394.7,464.2 395.3,463.7 396.0,463.1 C396.7,462.6 397.3,462.1 398.0,461.5 C398.7,461.0 399.3,460.5 400.0,460.0 C400.7,459.5 401.3,459.0 402.0,458.5 C402.7,458.0 403.3,457.5 404.0,457.0 C404.7,456.5 405.3,456.0 406.0,455.5 C406.7,455.1 407.3,454.6 408.0,454.1 C408.7,453.7 409.3,453.2 410.0,452.8 C410.7,452.3 411.3,451.9 412.0,451.5 C412.7,451.1 413.3,450.6 414.0,450.2 C414.7,449.8 415.3,449.4 416.0,449.0 C416.7,448.6 417.3,448.2 418.0,447.8 C418.7,447.4 419.3,447.1 420.0,446.7 C420.7,446.3 421.3,446.0 422.0,445.6 C422.7,445.2 423.3,444.9 424.0,444.5 C424.7,444.2 425.3,443.8 426.0,443.5 C426.7,443.1 427.3,442.8 428.0,442.4 C428.7,442.1 429.3,441.7 430.0,441.4 C430.7,441.0 431.3,440.6 432.0,440.3 C432.7,439.9 433.3,439.6 434.0,439.2 C434.7,438.8 435.3,438.4 436.0,438.1 C436.7,437.7 437.3,437.3 438.0,436.9 C438.7,436.5 439.3,436.1 440.0,435.7 C440.7,435.3 441.3,434.9 442.0,434.5 C442.7,434.1 443.3,433.7 444.0,433.3 C444.7,432.9 445.3,432.5 446.0,432.1 C446.7,431.7 447.3,431.3 448.0,430.9 C448.7,430.5 449.3,430.1 450.0,429.7 C450.7,429.2 451.3,428.8 452.0,428.4 C452.7,428.0 453.3,427.6 454.0,427.2 C454.7,426.8 455.3,426.5 456.0,426.1 C456.7,425.7 457.3,425.3 458.0,424.9 C458.7,424.5 459.3,424.1 460.0,423.8 C460.7,423.4 461.3,423.0 462.0,422.6 C462.7,422.3 463.3,421.9 464.0,421.5 C464.7,421.2 465.3,420.8 466.0,420.5 C466.7,420.1 467.3,419.8 468.0,419.4 C468.7,419.1 469.3,418.7 470.0,418.4 C470.7,418.1 471.3,417.7 472.0,417.4 C472.7,417.1 473.3,416.8 474.0,416.5 C474.7,416.1 475.3,415.8 476.0,415.5 C476.7,415.2 477.3,414.9 478.0,414.6 C478.7,414.3 479.3,414.0 480.0,413.7 C480.7,413.4 481.3,413.1 482.0,412.8 C482.7,412.5 483.3,412.2 484.0,411.9 C484.7,411.6 485.3,411.3 486.0,411.0 C486.7,410.7 487.3,410.4 488.0,410.1 C488.7,409.8 489.3,409.5 490.0,409.2 C490.7,408.9 491.3,408.6 492.0,408.3 C492.7,408.0 493.3,407.7 494.0,407.4 C494.7,407.1 495.3,406.9 496.0,406.6 C496.7,406.3 497.3,406.0 498.0,405.7 C498.7,405.4 499.3,405.1 500.0,404.8 C500.7,404.6 501.3,404.3 502.0,404.0 C502.7,403.7 503.3,403.4 504.0,403.1 C504.7,402.9 505.3,402.6 506.0,402.3 C506.7,402.0 507.3,401.7 508.0,401.5 C508.7,401.2 509.3,400.9 510.0,400.6 C510.7,400.4 511.3,400.1 512.0,399.8 C512.7,399.5 513.3,399.3 514.0,399.0 C514.7,398.7 515.3,398.5 516.0,398.2 C516.7,398.0 517.3,397.7 518.0,397.5 C518.7,397.2 519.3,397.0 520.0,396.7 C520.7,396.5 521.3,396.2 522.0,396.0 C522.7,395.8 523.3,395.5 524.0,395.3 C524.7,395.1 525.3,394.9 526.0,394.7 C526.7,394.5 527.3,394.2 528.0,394.0 C528.7,393.8 529.3,393.6 530.0,393.4 C530.7,393.2 531.3,393.0 532.0,392.9 C532.7,392.7 533.3,392.5 534.0,392.3 C534.7,392.1 535.3,391.9 536.0,391.8 C536.7,391.6 537.3,391.4 538.0,391.2 C538.7,391.1 539.3,390.9 540.0,390.7 C540.7,390.6 541.3,390.4 542.0,390.3 C542.7,390.1 543.3,389.9 544.0,389.8 C544.7,389.6 545.3,389.5 546.0,389.3 C546.7,389.2 547.3,389.0 548.0,388.9 C548.7,388.7 549.3,388.6 550.0,388.4 C550.7,388.3 551.3,388.2 552.0,388.0 C552.7,387.9 553.3,387.7 554.0,387.6 C554.7,387.5 555.3,387.3 556.0,387.2 C556.7,387.0 557.3,386.9 558.0,386.8 C558.7,386.6 559.3,386.5 560.0,386.4 C560.7,386.2 561.3,386.1 562.0,386.0 C562.7,385.8 563.3,385.7 564.0,385.6 C564.7,385.4 565.3,385.3 566.0,385.2 C566.7,385.0 567.3,384.9 568.0,384.8 C568.7,384.6 569.3,384.5 570.0,384.4 C570.7,384.2 571.3,384.1 572.0,384.0 C572.7,383.8 573.3,383.7 574.0,383.6 C574.7,383.4 575.3,383.3 576.0,383.2 C576.7,383.0 577.3,382.9 578.0,382.8 C578.7,382.7 579.3,382.5 580.0,382.4 C580.7,382.3 581.3,382.1 582.0,382.0 C582.7,381.9 583.3,381.7 584.0,381.6 C584.7,381.5 585.3,381.3 586.0,381.2 C586.7,381.1 587.3,380.9 588.0,380.8 C588.7,380.6 589.3,380.5 590.0,380.4 C590.7,380.2 591.3,380.1 592.0,380.0 C592.7,379.8 593.3,379.7 594.0,379.5 C594.7,379.4 595.3,379.3 596.0,379.1 C596.7,379.0 597.3,378.8 598.0,378.7 C598.7,378.5 599.3,378.4 600.0,378.2 C600.7,378.1 601.3,377.9 602.0,377.8 C602.7,377.6 603.3,377.5 604.0,377.3 C604.7,377.2 605.3,377.0 606.0,376.8 C606.7,376.7 607.3,376.5 608.0,376.3 C608.7,376.2 609.3,376.0 610.0,375.8 C610.7,375.7 611.3,375.5 612.0,375.3 C612.7,375.1 613.3,375.0 614.0,374.8 C614.7,374.6 615.3,374.4 616.0,374.2 C616.7,374.0 617.3,373.9 618.0,373.7 C618.7,373.5 619.3,373.3 620.0,373.1 C620.7,372.9 621.3,372.6 622.0,372.4 C622.7,372.2 623.3,372.0 624.0,371.8 C624.7,371.6 625.3,371.3 626.0,371.1 C626.7,370.8 627.3,370.6 628.0,370.4 C628.7,370.1 629.3,369.9 630.0,369.6 C630.7,369.3 631.3,369.1 632.0,368.8 C632.7,368.5 633.3,368.2 634.0,368.0 C634.7,367.7 635.3,367.4 636.0,367.1 C636.7,366.8 637.3,366.5 638.0,366.1 C638.7,365.8 639.3,365.5 640.0,365.2 C640.7,364.9 641.3,364.5 642.0,364.2 C642.7,363.8 643.3,363.5 644.0,363.2 C644.7,362.8 645.3,362.5 646.0,362.1 C646.7,361.8 647.3,361.4 648.0,361.1 C648.7,360.7 649.3,360.4 650.0,360.0 C650.7,359.7 651.3,359.3 652.0,359.0 C652.7,358.6 653.3,358.3 654.0,357.9 C654.7,357.6 655.3,357.2 656.0,356.9 C656.7,356.5 657.3,356.2 658.0,355.9 C658.7,355.5 659.3,355.2 660.0,354.8 C660.7,354.5 661.3,354.2 662.0,353.8 C662.7,353.5 663.3,353.1 664.0,352.8 C664.7,352.5 665.3,352.1 666.0,351.8 C666.7,351.5 667.3,351.1 668.0,350.8 C668.7,350.5 669.3,350.1 670.0,349.8 C670.7,349.4 671.3,349.1 672.0,348.8 C672.7,348.4 673.3,348.1 674.0,347.7 C674.7,347.4 675.3,347.0 676.0,346.7 C676.7,346.3 677.3,346.0 678.0,345.6 C678.7,345.3 679.3,344.9 680.0,344.6 C680.7,344.2 681.3,343.8 682.0,343.5 C682.7,343.1 683.3,342.7 684.0,342.4 C684.7,342.0 685.3,341.6 686.0,341.3 C686.7,340.9 687.3,340.5 688.0,340.2 C688.7,339.8 689.3,339.4 690.0,339.0 C690.7,338.7 691.3,338.3 692.0,337.9 C692.7,337.6 693.3,337.2 694.0,336.8 C694.7,336.4 695.3,336.1 696.0,335.7 C696.7,335.3 697.3,335.0 698.0,334.6 C698.7,334.3 699.3,333.9 700.0,333.5 C700.7,333.2 701.3,332.8 702.0,332.5 C702.7,332.1 703.3,331.8 704.0,331.4 C704.7,331.1 705.3,330.7 706.0,330.4 C706.7,330.0 707.3,329.7 708.0,329.4 C708.7,329.0 709.3,328.7 710.0,328.3 C710.7,328.0 711.3,327.6 712.0,327.3 C712.7,327.0 713.3,326.6 714.0,326.3 C714.7,325.9 715.3,325.6 716.0,325.2 C716.7,324.9 717.3,324.5 718.0,324.1 C718.7,323.8 719.3,323.4 720.0,323.0 C720.7,322.7 721.3,322.3 722.0,321.9 C722.7,321.5 723.3,321.1 724.0,320.7 C724.7,320.3 725.3,319.9 726.0,319.5 C726.7,319.1 727.3,318.7 728.0,318.3 C728.7,317.9 729.3,317.4 730.0,317.0 C730.7,316.6 731.3,316.1 732.0,315.7 C732.7,315.3 733.3,314.8 734.0,314.4 C734.7,314.0 735.3,313.5 736.0,313.1 C736.7,312.6 737.3,312.2 738.0,311.8 C738.7,311.3 739.3,310.9 740.0,310.5 C740.7,310.1 741.3,309.6 742.0,309.2 C742.7,308.8 743.3,308.4 744.0,307.9 C744.7,307.5 745.3,307.1 746.0,306.7 C746.7,306.3 747.3,305.9 748.0,305.4 C748.7,305.0 749.3,304.6 750.0,304.2 C750.7,303.7 751.3,303.3 752.0,302.9 C752.7,302.4 753.3,302.0 754.0,301.5 C754.7,301.1 755.3,300.6 756.0,300.2 C756.7,299.7 757.3,299.2 758.0,298.8 C758.7,298.3 759.3,297.8 760.0,297.4 C760.7,296.9 761.3,296.4 762.0,296.0 C762.7,295.5 763.3,295.1 764.0,294.7 C764.7,294.2 765.3,293.8 766.0,293.4 C766.7,293.0 767.3,292.6 768.0,292.2 C768.7,291.8 769.3,291.5 770.0,291.2 C770.7,290.8 771.3,290.5 772.0,290.3 C772.7,290.0 773.3,289.7 774.0,289.5 C774.7,289.3 775.3,289.1 776.0,288.9 C776.7,288.7 777.3,288.5 778.0,288.3 C778.7,288.2 779.3,288.1 780.0,287.9 C780.7,287.8 781.3,287.7 782.0,287.5 C782.7,287.4 783.3,287.3 784.0,287.2 C784.7,287.1 785.3,287.0 786.0,286.8 C786.7,286.7 787.3,286.6 788.0,286.4 C788.7,286.3 789.3,286.1 790.0,285.9 C790.7,285.7 791.3,285.6 792.0,285.3 C792.7,285.1 793.3,284.9 794.0,284.7 C794.7,284.5 795.3,284.2 796.0,284.0 C796.7,283.7 797.3,283.4 798.0,283.2 C798.7,282.9 799.3,282.7 800.0,282.4 C800.7,282.1 801.3,281.7 802.0,281.4 C802.7,281.1 803.3,280.8 804.0,280.4 C804.7,280.1 805.3,279.8 806.0,279.5 C806.7,279.2 807.3,278.9 808.0,278.7 C808.7,278.4 809.3,278.2 810.0,278.0 C810.7,277.7 811.4,277.5 812.0,277.4 C812.6,277.2 813.1,277.1 813.3,277.0" fill="none" stroke="#920a0e" stroke-width="2.0" stroke-linejoin="round" stroke-linecap="butt"/>
<path d="M0.0,597.3 C0.3,597.3 1.3,597.3 2.0,597.3 C2.7,597.3 3.3,597.3 4.0,597.3 C4.7,597.4 5.3,597.4 6.0,597.4 C6.7,597.4 7.3,597.4 8.0,597.4 C8.7,597.4 9.3,597.4 10.0,597.4 C10.7,597.4 11.3,597.4 12.0,597.4 C12.7,597.4 13.3,597.4 14.0,597.4 C14.7,597.4 15.3,597.4 16.0,597.4 C16.7,597.4 17.3,597.4 18.0,597.4 C18.7,597.3 19.3,597.3 20.0,597.3 C20.7,597.3 21.3,597.3 22.0,597.3 C22.7,597.2 23.3,597.2 24.0,597.2 C24.7,597.2 25.3,597.2 26.0,597.2 C26.7,597.1 27.3,597.1 28.0,597.1 C28.7,597.1 29.3,597.0 30.0,597.0 C30.7,597.0 31.3,597.0 32.0,596.9 C32.7,596.9 33.3,596.9 34.0,596.9 C34.7,596.8 35.3,596.8 36.0,596.8 C36.7,596.8 37.3,596.7 38.0,596.7 C38.7,596.7 39.3,596.7 40.0,596.6 C40.7,596.6 41.3,596.6 42.0,596.6 C42.7,596.5 43.3,596.5 44.0,596.5 C44.7,596.5 45.3,596.5 46.0,596.4 C46.7,596.4 47.3,596.4 48.0,596.4 C48.7,596.4 49.3,596.4 50.0,596.3 C50.7,596.3 51.3,596.3 52.0,596.3 C52.7,596.3 53.3,596.3 54.0,596.3 C54.7,596.3 55.3,596.2 56.0,596.2 C56.7,596.2 57.3,596.2 58.0,596.2 C58.7,596.2 59.3,596.2 60.0,596.2 C60.7,596.2 61.3,596.1 62.0,596.1 C62.7,596.1 63.3,596.1 64.0,596.1 C64.7,596.1 65.3,596.1 66.0,596.1 C66.7,596.0 67.3,596.0 68.0,596.0 C68.7,596.0 69.3,596.0 70.0,596.0 C70.7,595.9 71.3,595.9 72.0,595.9 C72.7,595.9 73.3,595.9 74.0,595.8 C74.7,595.8 75.3,595.8 76.0,595.8 C76.7,595.7 77.3,595.7 78.0,595.7 C78.7,595.7 79.3,595.6 80.0,595.6 C80.7,595.6 81.3,595.5 82.0,595.5 C82.7,595.5 83.3,595.5 84.0,595.4 C84.7,595.4 85.3,595.4 86.0,595.3 C86.7,595.3 87.3,595.3 88.0,595.2 C88.7,595.2 89.3,595.2 90.0,595.2 C90.7,595.1 91.3,595.1 92.0,595.1 C92.7,595.0 93.3,595.0 94.0,595.0 C94.7,594.9 95.3,594.9 96.0,594.9 C96.7,594.8 97.3,594.8 98.0,594.8 C98.7,594.7 99.3,594.7 100.0,594.7 C100.7,594.6 101.3,594.6 102.0,594.6 C102.7,594.5 103.3,594.5 104.0,594.4 C104.7,594.4 105.3,594.4 106.0,594.3 C106.7,594.3 107.3,594.3 108.0,594.2 C108.7,594.2 109.3,594.1 110.0,594.1 C110.7,594.1 111.3,594.0 112.0,594.0 C112.7,594.0 113.3,593.9 114.0,593.9 C114.7,593.8 115.3,593.8 116.0,593.7 C116.7,593.7 117.3,593.7 118.0,593.6 C118.7,593.6 119.3,593.5 120.0,593.5 C120.7,593.4 121.3,593.4 122.0,593.3 C122.7,593.3 123.3,593.2 124.0,593.2 C124.7,593.1 125.3,593.1 126.0,593.0 C126.7,593.0 127.3,592.9 128.0,592.8 C128.7,592.8 129.3,592.7 130.0,592.7 C130.7,592.6 131.3,592.5 132.0,592.5 C132.7,592.4 133.3,592.4 134.0,592.3 C134.7,592.2 135.3,592.2 136.0,592.1 C136.7,592.0 137.3,592.0 138.0,591.9 C138.7,591.8 139.3,591.8 140.0,591.7 C140.7,591.6 141.3,591.6 142.0,591.5 C142.7,591.4 143.3,591.3 144.0,591.3 C144.7,591.2 145.3,591.1 146.0,591.1 C146.7,591.0 147.3,590.9 148.0,590.8 C148.7,590.7 149.3,590.7 150.0,590.6 C150.7,590.5 151.3,590.4 152.0,590.3 C152.7,590.2 153.3,590.2 154.0,590.1 C154.7,590.0 155.3,589.9 156.0,589.8 C156.7,589.7 157.3,589.6 158.0,589.5 C158.7,589.4 159.3,589.4 160.0,589.3 C160.7,589.2 161.3,589.1 162.0,589.0 C162.7,588.9 163.3,588.8 164.0,588.7 C164.7,588.6 165.3,588.5 166.0,588.4 C166.7,588.3 167.3,588.1 168.0,588.0 C168.7,587.9 169.3,587.8 170.0,587.7 C170.7,587.6 171.3,587.5 172.0,587.4 C172.7,587.3 173.3,587.2 174.0,587.1 C174.7,587.0 175.3,586.8 176.0,586.7 C176.7,586.6 177.3,586.5 178.0,586.4 C178.7,586.3 179.3,586.2 180.0,586.1 C180.7,585.9 181.3,585.8 182.0,585.7 C182.7,585.6 183.3,585.5 184.0,585.4 C184.7,585.2 185.3,585.1 186.0,585.0 C186.7,584.9 187.3,584.7 188.0,584.6 C188.7,584.5 189.3,584.4 190.0,584.2 C190.7,584.1 191.3,584.0 192.0,583.9 C192.7,583.7 193.3,583.6 194.0,583.5 C194.7,583.3 195.3,583.2 196.0,583.0 C196.7,582.9 197.3,582.8 198.0,582.6 C198.7,582.5 199.3,582.3 200.0,582.2 C200.7,582.1 201.3,581.9 202.0,581.8 C202.7,581.6 203.3,581.5 204.0,581.3 C204.7,581.2 205.3,581.0 206.0,580.9 C206.7,580.7 207.3,580.5 208.0,580.4 C208.7,580.2 209.3,580.1 210.0,579.9 C210.7,579.8 211.3,579.6 212.0,579.4 C212.7,579.3 213.3,579.1 214.0,578.9 C214.7,578.8 215.3,578.6 216.0,578.4 C216.7,578.3 217.3,578.1 218.0,577.9 C218.7,577.7 219.3,577.6 220.0,577.4 C220.7,577.2 221.3,577.1 222.0,576.9 C222.7,576.7 223.3,576.5 224.0,576.3 C224.7,576.2 225.3,576.0 226.0,575.8 C226.7,575.6 227.3,575.4 228.0,575.2 C228.7,575.0 229.3,574.9 230.0,574.7 C230.7,574.5 231.3,574.3 232.0,574.1 C232.7,573.9 233.3,573.7 234.0,573.5 C234.7,573.3 235.3,573.1 236.0,572.9 C236.7,572.7 237.3,572.5 238.0,572.3 C238.7,572.1 239.3,571.9 240.0,571.7 C240.7,571.5 241.3,571.2 242.0,571.0 C242.7,570.8 243.3,570.6 244.0,570.4 C244.7,570.2 245.3,569.9 246.0,569.7 C246.7,569.5 247.3,569.2 248.0,569.0 C248.7,568.8 249.3,568.5 250.0,568.3 C250.7,568.1 251.3,567.8 252.0,567.6 C252.7,567.3 253.3,567.1 254.0,566.9 C254.7,566.6 255.3,566.3 256.0,566.1 C256.7,565.8 257.3,565.6 258.0,565.3 C258.7,565.0 259.3,564.8 260.0,564.5 C260.7,564.2 261.3,564.0 262.0,563.7 C262.7,563.4 263.3,563.1 264.0,562.8 C264.7,562.6 265.3,562.3 266.0,562.0 C266.7,561.7 267.3,561.4 268.0,561.1 C268.7,560.8 269.3,560.5 270.0,560.2 C270.7,559.9 271.3,559.6 272.0,559.3 C272.7,559.0 273.3,558.7 274.0,558.4 C274.7,558.0 275.3,557.7 276.0,557.4 C276.7,557.1 277.3,556.8 278.0,556.5 C278.7,556.1 279.3,555.8 280.0,555.5 C280.7,555.2 281.3,554.9 282.0,554.5 C282.7,554.2 283.3,553.9 284.0,553.6 C284.7,553.2 285.3,552.9 286.0,552.6 C286.7,552.3 287.3,551.9 288.0,551.6 C288.7,551.3 289.3,551.0 290.0,550.6 C290.7,550.3 291.3,550.0 292.0,549.6 C292.7,549.3 293.3,549.0 294.0,548.6 C294.7,548.3 295.3,548.0 296.0,547.6 C296.7,547.3 297.3,547.0 298.0,546.6 C298.7,546.3 299.3,545.9 300.0,545.6 C300.7,545.3 301.3,544.9 302.0,544.6 C302.7,544.2 303.3,543.9 304.0,543.5 C304.7,543.2 305.3,542.8 306.0,542.5 C306.7,542.2 307.3,541.8 308.0,541.5 C308.7,541.1 309.3,540.8 310.0,540.4 C310.7,540.1 311.3,539.7 312.0,539.4 C312.7,539.1 313.3,538.7 314.0,538.4 C314.7,538.0 315.3,537.7 316.0,537.4 C316.7,537.0 317.3,536.7 318.0,536.4 C318.7,536.0 319.3,535.7 320.0,535.4 C320.7,535.0 321.3,534.7 322.0,534.4 C322.7,534.1 323.3,533.7 324.0,533.4 C324.7,533.1 325.3,532.8 326.0,532.4 C326.7,532.1 327.3,531.8 328.0,531.5 C328.7,531.2 329.3,530.9 330.0,530.5 C330.7,530.2 331.3,529.9 332.0,529.6 C332.7,529.3 333.3,529.0 334.0,528.6 C334.7,528.3 335.3,528.0 336.0,527.7 C336.7,527.4 337.3,527.1 338.0,526.7 C338.7,526.4 339.3,526.1 340.0,525.7 C340.7,525.4 341.3,525.1 342.0,524.8 C342.7,524.4 343.3,524.1 344.0,523.7 C344.7,523.4 345.3,523.1 346.0,522.7 C346.7,522.4 347.3,522.0 348.0,521.6 C348.7,521.3 349.3,520.9 350.0,520.6 C350.7,520.2 351.3,519.8 352.0,519.4 C352.7,519.1 353.3,518.7 354.0,518.3 C354.7,517.9 355.3,517.5 356.0,517.1 C356.7,516.7 357.3,516.4 358.0,516.0 C358.7,515.6 359.3,515.2 360.0,514.8 C360.7,514.4 361.3,513.9 362.0,513.5 C362.7,513.1 363.3,512.7 364.0,512.3 C364.7,511.9 365.3,511.5 366.0,511.0 C366.7,510.6 367.3,510.2 368.0,509.8 C368.7,509.4 369.3,508.9 370.0,508.5 C370.7,508.1 371.3,507.6 372.0,507.2 C372.7,506.8 373.3,506.3 374.0,505.9 C374.7,505.5 375.3,505.0 376.0,504.6 C376.7,504.1 377.3,503.7 378.0,503.2 C378.7,502.8 379.3,502.3 380.0,501.9 C380.7,501.4 381.3,500.9 382.0,500.5 C382.7,500.0 383.3,499.6 384.0,499.1 C384.7,498.6 385.3,498.1 386.0,497.7 C386.7,497.2 387.3,496.7 388.0,496.2 C388.7,495.8 389.3,495.3 390.0,494.8 C390.7,494.3 391.3,493.9 392.0,493.4 C392.7,492.9 393.3,492.4 394.0,491.9 C394.7,491.5 395.3,491.0 396.0,490.5 C396.7,490.0 397.3,489.5 398.0,489.1 C398.7,488.6 399.3,488.1 400.0,487.6 C400.7,487.2 401.3,486.7 402.0,486.2 C402.7,485.8 403.3,485.3 404.0,484.8 C404.7,484.4 405.3,483.9 406.0,483.5 C406.7,483.0 407.3,482.6 408.0,482.1 C408.7,481.7 409.3,481.2 410.0,480.8 C410.7,480.4 411.3,479.9 412.0,479.5 C412.7,479.1 413.3,478.6 414.0,478.2 C414.7,477.8 415.3,477.4 416.0,476.9 C416.7,476.5 417.3,476.1 418.0,475.7 C418.7,475.3 419.3,474.9 420.0,474.5 C420.7,474.1 421.3,473.7 422.0,473.3 C422.7,472.9 423.3,472.5 424.0,472.1 C424.7,471.7 425.3,471.3 426.0,470.9 C426.7,470.6 427.3,470.2 428.0,469.8 C428.7,469.4 429.3,469.0 430.0,468.7 C430.7,468.3 431.3,467.9 432.0,467.5 C432.7,467.2 433.3,466.8 434.0,466.4 C434.7,466.1 435.3,465.7 436.0,465.3 C436.7,465.0 437.3,464.6 438.0,464.3 C438.7,463.9 439.3,463.5 440.0,463.2 C440.7,462.8 441.3,462.5 442.0,462.1 C442.7,461.8 443.3,461.4 444.0,461.0 C444.7,460.7 445.3,460.3 446.0,460.0 C446.7,459.6 447.3,459.3 448.0,458.9 C448.7,458.6 449.3,458.2 450.0,457.9 C450.7,457.5 451.3,457.2 452.0,456.8 C452.7,456.5 453.3,456.1 454.0,455.8 C454.7,455.4 455.3,455.1 456.0,454.7 C456.7,454.4 457.3,454.0 458.0,453.7 C458.7,453.3 459.3,453.0 460.0,452.7 C460.7,452.3 461.3,452.0 462.0,451.6 C462.7,451.3 463.3,451.0 464.0,450.6 C464.7,450.3 465.3,449.9 466.0,449.6 C466.7,449.3 467.3,448.9 468.0,448.6 C468.7,448.3 469.3,447.9 470.0,447.6 C470.7,447.3 471.3,446.9 472.0,446.6 C472.7,446.3 473.3,445.9 474.0,445.6 C474.7,445.3 475.3,445.0 476.0,444.6 C476.7,444.3 477.3,444.0 478.0,443.7 C478.7,443.3 479.3,443.0 480.0,442.7 C480.7,442.3 481.3,442.0 482.0,441.7 C482.7,441.4 483.3,441.1 484.0,440.7 C484.7,440.4 485.3,440.1 486.0,439.8 C486.7,439.4 487.3,439.1 488.0,438.8 C488.7,438.5 489.3,438.2 490.0,437.8 C490.7,437.5 491.3,437.2 492.0,436.9 C492.7,436.6 493.3,436.2 494.0,435.9 C494.7,435.6 495.3,435.3 496.0,435.0 C496.7,434.7 497.3,434.3 498.0,434.0 C498.7,433.7 499.3,433.4 500.0,433.1 C500.7,432.7 501.3,432.4 502.0,432.1 C502.7,431.8 503.3,431.5 504.0,431.2 C504.7,430.9 505.3,430.5 506.0,430.2 C506.7,429.9 507.3,429.6 508.0,429.3 C508.7,429.0 509.3,428.7 510.0,428.4 C510.7,428.1 511.3,427.8 512.0,427.5 C512.7,427.2 513.3,426.9 514.0,426.6 C514.7,426.3 515.3,426.0 516.0,425.7 C516.7,425.4 517.3,425.1 518.0,424.9 C518.7,424.6 519.3,424.3 520.0,424.0 C520.7,423.8 521.3,423.5 522.0,423.2 C522.7,423.0 523.3,422.7 524.0,422.4 C524.7,422.2 525.3,421.9 526.0,421.7 C526.7,421.4 527.3,421.2 528.0,420.9 C528.7,420.7 529.3,420.4 530.0,420.2 C530.7,419.9 531.3,419.7 532.0,419.4 C532.7,419.2 533.3,419.0 534.0,418.7 C534.7,418.5 535.3,418.3 536.0,418.0 C536.7,417.8 537.3,417.6 538.0,417.3 C538.7,417.1 539.3,416.9 540.0,416.6 C540.7,416.4 541.3,416.2 542.0,415.9 C542.7,415.7 543.3,415.5 544.0,415.3 C544.7,415.0 545.3,414.8 546.0,414.6 C546.7,414.3 547.3,414.1 548.0,413.9 C548.7,413.7 549.3,413.4 550.0,413.2 C550.7,413.0 551.3,412.8 552.0,412.5 C552.7,412.3 553.3,412.1 554.0,411.9 C554.7,411.6 555.3,411.4 556.0,411.2 C556.7,411.0 557.3,410.8 558.0,410.5 C558.7,410.3 559.3,410.1 560.0,409.9 C560.7,409.6 561.3,409.4 562.0,409.2 C562.7,409.0 563.3,408.7 564.0,408.5 C564.7,408.3 565.3,408.1 566.0,407.8 C566.7,407.6 567.3,407.4 568.0,407.2 C568.7,406.9 569.3,406.7 570.0,406.5 C570.7,406.2 571.3,406.0 572.0,405.8 C572.7,405.5 573.3,405.3 574.0,405.1 C574.7,404.8 575.3,404.6 576.0,404.4 C576.7,404.1 577.3,403.9 578.0,403.6 C578.7,403.4 579.3,403.2 580.0,402.9 C580.7,402.7 581.3,402.4 582.0,402.2 C582.7,401.9 583.3,401.7 584.0,401.4 C584.7,401.2 585.3,401.0 586.0,400.7 C586.7,400.5 587.3,400.2 588.0,400.0 C588.7,399.7 589.3,399.5 590.0,399.2 C590.7,399.0 591.3,398.7 592.0,398.5 C592.7,398.2 593.3,398.0 594.0,397.7 C594.7,397.5 595.3,397.2 596.0,396.9 C596.7,396.7 597.3,396.4 598.0,396.2 C598.7,395.9 599.3,395.7 600.0,395.4 C600.7,395.1 601.3,394.9 602.0,394.6 C602.7,394.4 603.3,394.1 604.0,393.8 C604.7,393.6 605.3,393.3 606.0,393.1 C606.7,392.8 607.3,392.5 608.0,392.3 C608.7,392.0 609.3,391.7 610.0,391.5 C610.7,391.2 611.3,391.0 612.0,390.7 C612.7,390.4 613.3,390.2 614.0,389.9 C614.7,389.6 615.3,389.4 616.0,389.1 C616.7,388.8 617.3,388.5 618.0,388.3 C618.7,388.0 619.3,387.7 620.0,387.5 C620.7,387.2 621.3,386.9 622.0,386.6 C622.7,386.4 623.3,386.1 624.0,385.8 C624.7,385.5 625.3,385.2 626.0,384.9 C626.7,384.6 627.3,384.3 628.0,384.0 C628.7,383.7 629.3,383.4 630.0,383.1 C630.7,382.8 631.3,382.5 632.0,382.2 C632.7,381.8 633.3,381.5 634.0,381.2 C634.7,380.9 635.3,380.5 636.0,380.2 C636.7,379.8 637.3,379.5 638.0,379.1 C638.7,378.8 639.3,378.4 640.0,378.0 C640.7,377.7 641.3,377.3 642.0,376.9 C642.7,376.5 643.3,376.1 644.0,375.8 C644.7,375.4 645.3,375.0 646.0,374.6 C646.7,374.2 647.3,373.8 648.0,373.4 C648.7,373.0 649.3,372.6 650.0,372.2 C650.7,371.8 651.3,371.4 652.0,371.0 C652.7,370.6 653.3,370.2 654.0,369.8 C654.7,369.4 655.3,369.0 656.0,368.5 C656.7,368.1 657.3,367.7 658.0,367.3 C658.7,366.9 659.3,366.5 660.0,366.1 C660.7,365.7 661.3,365.3 662.0,364.9 C662.7,364.5 663.3,364.1 664.0,363.7 C664.7,363.3 665.3,362.9 666.0,362.5 C666.7,362.1 667.3,361.7 668.0,361.3 C668.7,360.9 669.3,360.5 670.0,360.1 C670.7,359.7 671.3,359.3 672.0,358.9 C672.7,358.5 673.3,358.1 674.0,357.7 C674.7,357.3 675.3,356.9 676.0,356.5 C676.7,356.1 677.3,355.6 678.0,355.2 C678.7,354.8 679.3,354.4 680.0,354.0 C680.7,353.6 681.3,353.2 682.0,352.8 C682.7,352.4 683.3,352.0 684.0,351.6 C684.7,351.2 685.3,350.8 686.0,350.3 C686.7,349.9 687.3,349.5 688.0,349.1 C688.7,348.7 689.3,348.3 690.0,347.9 C690.7,347.5 691.3,347.1 692.0,346.7 C692.7,346.3 693.3,345.9 694.0,345.4 C694.7,345.0 695.3,344.6 696.0,344.2 C696.7,343.8 697.3,343.4 698.0,343.0 C698.7,342.6 699.3,342.2 700.0,341.8 C700.7,341.3 701.3,340.9 702.0,340.5 C702.7,340.1 703.3,339.7 704.0,339.3 C704.7,338.9 705.3,338.5 706.0,338.0 C706.7,337.6 707.3,337.2 708.0,336.8 C708.7,336.4 709.3,335.9 710.0,335.5 C710.7,335.1 711.3,334.6 712.0,334.2 C712.7,333.8 713.3,333.3 714.0,332.9 C714.7,332.4 715.3,332.0 716.0,331.5 C716.7,331.1 717.3,330.6 718.0,330.2 C718.7,329.7 719.3,329.2 720.0,328.8 C720.7,328.3 721.3,327.8 722.0,327.3 C722.7,326.9 723.3,326.4 724.0,325.9 C724.7,325.4 725.3,324.9 726.0,324.4 C726.7,323.9 727.3,323.4 728.0,322.9 C728.7,322.4 729.3,321.9 730.0,321.4 C730.7,320.9 731.3,320.3 732.0,319.8 C732.7,319.3 733.3,318.8 734.0,318.3 C734.7,317.7 735.3,317.2 736.0,316.7 C736.7,316.2 737.3,315.6 738.0,315.1 C738.7,314.6 739.3,314.0 740.0,313.5 C740.7,313.0 741.3,312.4 742.0,311.9 C742.7,311.4 743.3,310.8 744.0,310.3 C744.7,309.7 745.3,309.2 746.0,308.6 C746.7,308.1 747.3,307.5 748.0,307.0 C748.7,306.4 749.3,305.9 750.0,305.3 C750.7,304.8 751.3,304.2 752.0,303.7 C752.7,303.1 753.3,302.5 754.0,302.0 C754.7,301.4 755.3,300.9 756.0,300.3 C756.7,299.8 757.3,299.2 758.0,298.7 C758.7,298.1 759.3,297.6 760.0,297.1 C760.7,296.5 761.3,296.0 762.0,295.5 C762.7,295.0 763.3,294.5 764.0,294.0 C764.7,293.5 765.3,293.0 766.0,292.6 C766.7,292.1 767.3,291.6 768.0,291.2 C768.7,290.8 769.3,290.3 770.0,289.9 C770.7,289.5 771.3,289.1 772.0,288.7 C772.7,288.3 773.3,287.9 774.0,287.6 C774.7,287.2 775.3,286.8 776.0,286.5 C776.7,286.1 777.3,285.8 778.0,285.5 C778.7,285.1 779.3,284.8 780.0,284.5 C780.7,284.2 781.3,283.8 782.0,283.5 C782.7,283.2 783.3,282.9 784.0,282.6 C784.7,282.3 785.3,281.9 786.0,281.6 C786.7,281.3 787.3,281.0 788.0,280.7 C788.7,280.4 789.3,280.0 790.0,279.7 C790.7,279.4 791.3,279.1 792.0,278.7 C792.7,278.4 793.3,278.1 794.0,277.8 C794.7,277.5 795.3,277.1 796.0,276.8 C796.7,276.5 797.3,276.1 798.0,275.8 C798.7,275.4 799.3,275.1 800.0,274.7 C800.7,274.4 801.3,274.0 802.0,273.7 C802.7,273.3 803.3,273.0 804.0,272.7 C804.7,272.4 805.3,272.1 806.0,271.8 C806.7,271.5 807.3,271.3 808.0,271.0 C808.7,270.8 809.3,270.6 810.0,270.4 C810.7,270.2 811.4,270.0 812.0,269.8 C812.6,269.6 813.1,269.4 813.3,269.3" fill="none" stroke="#36a548" stroke-width="3.0" stroke-linejoin="round" stroke-linecap="butt"/></svg>
<div class="topline"></div><div class="botline"></div>
<div class="ax-v"></div><div class="ax-h"></div>
<div class="tk" style="top:10px"></div><div class="tk" style="top:60px"></div><div class="tk" style="top:109px"></div><div class="tk" style="top:159px"></div><div class="tk" style="top:208px"></div><div class="tk" style="top:258px"></div><div class="tk" style="top:307px"></div><div class="tk" style="top:357px"></div><div class="tk" style="top:406px"></div><div class="tk" style="top:456px"></div><div class="tk" style="top:505px"></div><div class="tk" style="top:555px"></div><div class="ttk" style="left:42px"></div><div class="ttk" style="left:158px"></div><div class="ttk" style="left:276px"></div><div class="ttk" style="left:400px"></div><div class="ttk" style="left:521px"></div><div class="ttk" style="left:636px"></div><div class="ttk" style="left:751px"></div><div class="ttk" style="left:872px"></div><div class="ttk" style="left:991px"></div>
<div class="wb" style="left:4px;top:6px;width:558px;height:19px"></div>
<div class="wb" style="left:28px;top:28px;width:120px;height:17px"></div>
<div class="wb" style="left:28px;top:49px;width:102px;height:17px"></div>
<div class="wb" style="left:28px;top:70px;width:368px;height:17px"></div>
<div class="wb" style="left:28px;top:91px;width:127px;height:17px"></div>
<div class="wb" style="left:28px;top:112px;width:127px;height:17px"></div>
<div class="wb" style="left:28px;top:133px;width:133px;height:17px"></div>
<div class="plast"></div><div style="position:absolute;left:1108px;top:175.5px;width:3px;height:1px;background:#cfe3cb"></div>
<div class="tip"></div>
<div class="t" style="left:7.27px;top:7.26px;font-size:13.1px;line-height:17px;height:17px;color:#4d4d4d;transform:scaleX(1.0960)">Gold Spot / U.S. Dollar</div><div class="t" style="left:155.51px;top:7.23px;font-size:13.2px;line-height:17px;height:17px;color:#b3b7c4;transform:scaleX(1.0408)">·</div><div class="t" style="left:163.53px;top:7.26px;font-size:13.1px;line-height:17px;height:17px;color:#4d4d4d;transform:scaleX(0.9038)">1D</div><div class="t" style="left:181.71px;top:7.23px;font-size:13.2px;line-height:17px;height:17px;color:#b3b7c4;transform:scaleX(1.0408)">·</div><div class="t" style="left:189.30px;top:7.26px;font-size:13.1px;line-height:17px;height:17px;color:#4d4d4d;transform:scaleX(0.9448)">OANDA</div><div class="t" style="left:241.28px;top:9.26px;font-size:10.8px;line-height:14px;height:14px;color:#6a6a6a;transform:scaleX(1.1711)">O</div><div class="t" style="left:250.50px;top:9.26px;font-size:10.8px;line-height:14px;height:14px;color:#2f6e4b;transform:scaleX(0.9990)">1577.100</div><div class="t" style="left:302.28px;top:9.26px;font-size:10.8px;line-height:14px;height:14px;color:#6a6a6a;transform:scaleX(1.0299)">H</div><div class="t" style="left:309.79px;top:9.26px;font-size:10.8px;line-height:14px;height:14px;color:#2f6e4b;transform:scaleX(1.0059)">1588.616</div><div class="t" style="left:361.21px;top:9.26px;font-size:10.8px;line-height:14px;height:14px;color:#6a6a6a;transform:scaleX(1.1276)">L</div><div class="t" style="left:367.89px;top:9.26px;font-size:10.8px;line-height:14px;height:14px;color:#2f6e4b;transform:scaleX(1.0082)">1573.059</div><div class="t" style="left:419.18px;top:9.26px;font-size:10.8px;line-height:14px;height:14px;color:#6a6a6a;transform:scaleX(1.0299)">C</div><div class="t" style="left:426.89px;top:9.26px;font-size:10.8px;line-height:14px;height:14px;color:#2f6e4b;transform:scaleX(1.0059)">1586.362</div><div class="t" style="left:478.10px;top:9.26px;font-size:10.8px;line-height:14px;height:14px;color:#2f6e4b;transform:scaleX(0.9961)">+9.262</div><div class="t" style="left:515.61px;top:9.26px;font-size:10.8px;line-height:14px;height:14px;color:#2f6e4b;transform:scaleX(0.9808)">(+0.59%)</div><div class="t" style="left:30.97px;top:29.56px;font-size:10.8px;line-height:14px;height:14px;color:#555555;transform:scaleX(1.0344)">MA 20 close</div><div class="t" style="left:99.18px;top:29.56px;font-size:10.8px;line-height:14px;height:14px;color:#14b8d4;transform:scaleX(1.0265)">1588.071</div><div class="t" style="left:31.18px;top:50.66px;font-size:10.8px;line-height:14px;height:14px;color:#b7bbc8;transform:scaleX(1.0196)">BB 21 close 2</div><div class="t" style="left:30.86px;top:71.76px;font-size:10.8px;line-height:14px;height:14px;color:#555555;transform:scaleX(1.0579)">Ichimoku 9 26 52 26</div><div class="t" style="left:141.38px;top:71.76px;font-size:10.8px;line-height:14px;height:14px;color:#2196f3;transform:scaleX(1.0288)">1549.876</div><div class="t" style="left:193.08px;top:71.76px;font-size:10.8px;line-height:14px;height:14px;color:#b22a2a;transform:scaleX(1.0265)">1577.357</div><div class="t" style="left:244.28px;top:71.76px;font-size:10.8px;line-height:14px;height:14px;color:#43a047;transform:scaleX(1.0265)">1586.362</div><div class="t" style="left:295.26px;top:71.76px;font-size:10.8px;line-height:14px;height:14px;color:#4caf50;transform:scaleX(1.0507)">1622.711</div><div class="t" style="left:346.78px;top:71.76px;font-size:10.8px;line-height:14px;height:14px;color:#ff5252;transform:scaleX(1.0311)">1575.632</div><div class="t" style="left:30.89px;top:92.86px;font-size:10.8px;line-height:14px;height:14px;color:#555555;transform:scaleX(1.0168)">EMA 55 close</div><div class="t" style="left:105.16px;top:92.86px;font-size:10.8px;line-height:14px;height:14px;color:#ff9800;transform:scaleX(1.0471)">1578.814</div><div class="t" style="left:30.87px;top:113.96px;font-size:10.8px;line-height:14px;height:14px;color:#555555;transform:scaleX(1.0359)">MA 200 close</div><div class="t" style="left:105.16px;top:113.96px;font-size:10.8px;line-height:14px;height:14px;color:#4caf50;transform:scaleX(1.0577)">1511.138</div><div class="t" style="left:30.89px;top:134.96px;font-size:10.8px;line-height:14px;height:14px;color:#555555;transform:scaleX(1.0124)">EMA 200 close</div><div class="t" style="left:111.47px;top:134.96px;font-size:10.8px;line-height:14px;height:14px;color:#b71c1c;transform:scaleX(1.0357)">1504.630</div><div class="t" style="left:1118.48px;top:0.74px;font-size:15.9px;line-height:21px;height:21px;color:#4d4d4d;transform:scaleX(1.0792)">1720.000</div><div class="t" style="left:1118.48px;top:50.24px;font-size:15.9px;line-height:21px;height:21px;color:#4d4d4d;transform:scaleX(1.0792)">1680.000</div><div class="t" style="left:1118.48px;top:99.74px;font-size:15.9px;line-height:21px;height:21px;color:#4d4d4d;transform:scaleX(1.0792)">1640.000</div><div class="t" style="left:1118.48px;top:149.24px;font-size:15.9px;line-height:21px;height:21px;color:#4d4d4d;transform:scaleX(1.0792)">1600.000</div><div class="t" style="left:1118.48px;top:198.74px;font-size:15.9px;line-height:21px;height:21px;color:#4d4d4d;transform:scaleX(1.0792)">1560.000</div><div class="t" style="left:1118.48px;top:248.24px;font-size:15.9px;line-height:21px;height:21px;color:#4d4d4d;transform:scaleX(1.0792)">1520.000</div><div class="t" style="left:1118.48px;top:297.74px;font-size:15.9px;line-height:21px;height:21px;color:#4d4d4d;transform:scaleX(1.0792)">1480.000</div><div class="t" style="left:1118.48px;top:347.24px;font-size:15.9px;line-height:21px;height:21px;color:#4d4d4d;transform:scaleX(1.0792)">1440.000</div><div class="t" style="left:1118.48px;top:396.74px;font-size:15.9px;line-height:21px;height:21px;color:#4d4d4d;transform:scaleX(1.0792)">1400.000</div><div class="t" style="left:1118.48px;top:446.24px;font-size:15.9px;line-height:21px;height:21px;color:#4d4d4d;transform:scaleX(1.0792)">1360.000</div><div class="t" style="left:1118.48px;top:495.74px;font-size:15.9px;line-height:21px;height:21px;color:#4d4d4d;transform:scaleX(1.0792)">1320.000</div><div class="t" style="left:1118.48px;top:545.24px;font-size:15.9px;line-height:21px;height:21px;color:#4d4d4d;transform:scaleX(1.0792)">1280.000</div><div class="t" style="left:27.19px;top:612.09px;font-size:16.2px;line-height:21px;height:21px;color:#4d4d4d;transform:scaleX(1.0976)">Mar</div><div class="t" style="left:142.61px;top:612.09px;font-size:16.2px;line-height:21px;height:21px;color:#4d4d4d;transform:scaleX(1.0390)">May</div><div class="t" style="left:264.53px;top:612.09px;font-size:16.2px;line-height:21px;height:21px;color:#4d4d4d;transform:scaleX(1.1561)">Jul</div><div class="t" style="left:385.13px;top:612.09px;font-size:16.2px;line-height:21px;height:21px;color:#4d4d4d;transform:scaleX(1.0672)">Sep</div><div class="t" style="left:505.59px;top:612.09px;font-size:16.2px;line-height:21px;height:21px;color:#4d4d4d;transform:scaleX(1.1052)">Nov</div><div class="t" style="left:615.31px;top:612.09px;font-size:16.2px;line-height:21px;height:21px;color:#474747;transform:scaleX(1.1767);font-weight:bold">2020</div><div class="t" style="left:736.19px;top:612.09px;font-size:16.2px;line-height:21px;height:21px;color:#4d4d4d;transform:scaleX(1.0976)">Mar</div><div class="t" style="left:856.61px;top:612.09px;font-size:16.2px;line-height:21px;height:21px;color:#4d4d4d;transform:scaleX(1.0390)">May</div><div class="t" style="left:979.53px;top:612.09px;font-size:16.2px;line-height:21px;height:21px;color:#4d4d4d;transform:scaleX(1.1561)">Jul</div><div class="t" style="left:1118.58px;top:164.95px;font-size:16.3px;line-height:21px;height:21px;color:#ffffff;transform:scaleX(1.0531);font-weight:bold">1586.362</div><div class="t" style="left:552.16px;top:1.57px;font-size:9.6px;line-height:12px;height:12px;color:#b4b4b4;transform:scaleX(1.0262)">Exit Full Screen (ESC)</div>
<div class="usd"></div>
<div class="t" style="left:1137.63px;top:8.16px;font-size:16.0px;line-height:21px;height:21px;color:#1b2030;transform:scaleX(0.9369)">USD</div>
<div class="abtn">A</div>
<div class="cbox"><svg width="16" height="16" viewBox="0 0 16 16" style="position:absolute;left:0;top:0"><path d="M5.2,6.7 L8.5,9.8 L11.8,6.7" fill="none" stroke="#222" stroke-width="1.35" stroke-linecap="round" stroke-linejoin="round"/></svg></div>
<svg style="position:absolute;left:109px;top:50px" width="17" height="14" viewBox="0 0 17 14"><path d="M1.5,7 C4,2.5 13,2.5 15.5,7 C13,11.5 4,11.5 1.5,7Z" fill="none" stroke="#333" stroke-width="1.1"/><circle cx="8.5" cy="7" r="2.2" fill="none" stroke="#333" stroke-width="1.1"/><path d="M3.2,12.2 L13.8,1.8" stroke="#333" stroke-width="1.2"/></svg>
</div></body></html>
